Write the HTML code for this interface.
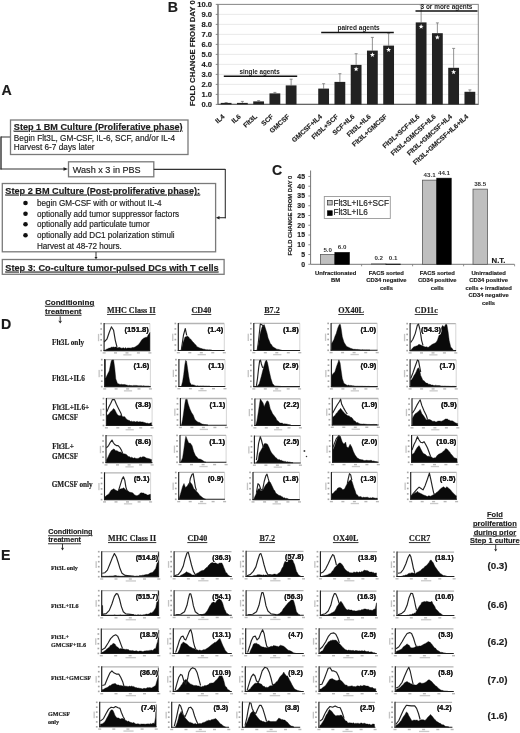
<!DOCTYPE html><html><head><meta charset="utf-8"><style>html,body{margin:0;padding:0;background:#fff;}body{width:520px;height:733px;overflow:hidden;font-family:"Liberation Sans", sans-serif;}svg{display:block;filter:blur(0.4px);} text{stroke:#1c1c1c;stroke-width:0.16px;} text.n{stroke:none;} text.h{stroke:#fff;stroke-width:1.6px;paint-order:stroke;stroke-linejoin:round;}</style></head><body>
<svg width="520" height="733" viewBox="0 0 520 733">
<rect width="520" height="733" fill="#fff"/>
<text x="1.4" y="95.0" font-size="14.2" font-family="Liberation Sans" font-weight="bold" fill="#1c1c1c" >A</text>
<rect x="10.5" y="120" width="177.5" height="34.5" fill="white" stroke="#7a7a7a" stroke-width="1.3" />
<text x="13.8" y="129.8" font-size="9.15" font-family="Liberation Sans" font-weight="bold" text-decoration="underline" fill="#1c1c1c" >Step 1 BM Culture (Proliferative phase)</text>
<text x="13.8" y="140.6" font-size="8.26" font-family="Liberation Sans" fill="#1c1c1c" >Begin Flt3L, GM-CSF, IL-6, SCF, and/or IL-4</text>
<text x="13.8" y="150.4" font-size="8.26" font-family="Liberation Sans" fill="#1c1c1c" >Harvest 6-7 days later</text>
<line x1="1" y1="137" x2="10" y2="137" stroke="#555" stroke-width="1.2"/>
<line x1="1" y1="136.4" x2="1" y2="169.6" stroke="#333" stroke-width="1.4"/>
<line x1="0.4" y1="169" x2="66" y2="169" stroke="#333" stroke-width="1.1"/>
<path d="M63.5,167.2 L68,169 L63.5,170.8 Z" fill="#222"/>
<rect x="68.5" y="161.8" width="85.3" height="15" fill="white" stroke="#7a7a7a" stroke-width="1.3" />
<text x="72.8" y="172.5" font-size="9.1" font-family="Liberation Sans" fill="#1c1c1c" >Wash x 3 in PBS</text>
<line x1="153.8" y1="169.4" x2="225.3" y2="169.4" stroke="#333" stroke-width="1.1"/>
<line x1="225.3" y1="168.9" x2="225.3" y2="218.2" stroke="#333" stroke-width="1.1"/>
<line x1="219" y1="217.7" x2="225.8" y2="217.7" stroke="#333" stroke-width="1.1"/>
<path d="M219.5,216 L215.8,217.7 L219.5,219.4 Z" fill="#222"/>
<rect x="2.3" y="183.5" width="213.3" height="68.3" fill="white" stroke="#7a7a7a" stroke-width="1.3" />
<text x="5.3" y="193.6" font-size="9.17" font-family="Liberation Sans" font-weight="bold" text-decoration="underline" fill="#1c1c1c" >Step 2 BM Culture (Post-proliferative phase):</text>
<circle cx="25.5" cy="203.0" r="2.3" fill="#111"/>
<text x="36.9" y="206.0" font-size="8.15" font-family="Liberation Sans" fill="#1c1c1c" >begin GM-CSF with or without IL-4</text>
<circle cx="25.5" cy="213.7" r="2.3" fill="#111"/>
<text x="36.9" y="216.7" font-size="8.15" font-family="Liberation Sans" fill="#1c1c1c" >optionally add tumor suppressor factors</text>
<circle cx="25.5" cy="224.3" r="2.3" fill="#111"/>
<text x="36.9" y="227.3" font-size="8.15" font-family="Liberation Sans" fill="#1c1c1c" >optionally add particulate tumor</text>
<circle cx="25.5" cy="235.2" r="2.3" fill="#111"/>
<text x="36.9" y="238.2" font-size="8.15" font-family="Liberation Sans" fill="#1c1c1c" >optionally add DC1 polarization stimuli</text>
<text x="36.9" y="248.6" font-size="8.15" font-family="Liberation Sans" fill="#1c1c1c" >Harvest at 48-72 hours.</text>
<line x1="96" y1="252" x2="96" y2="257.5" stroke="#333" stroke-width="1"/>
<path d="M94.5,257 L96,259.5 L97.5,257 Z" fill="#222"/>
<rect x="2.3" y="259.5" width="221.8" height="14.8" fill="white" stroke="#7a7a7a" stroke-width="1.3" />
<text x="5.3" y="270.6" font-size="9.2" font-family="Liberation Sans" font-weight="bold" text-decoration="underline" fill="#1c1c1c" >Step 3: Co-culture tumor-pulsed DCs with T cells</text>
<text x="167.8" y="11.5" font-size="14.2" font-family="Liberation Sans" font-weight="bold" fill="#1c1c1c" >B</text>
<line x1="218" y1="94.4" x2="478.3" y2="94.4" stroke="#e4e4e4" stroke-width="0.8"/>
<line x1="218" y1="84.4" x2="478.3" y2="84.4" stroke="#e4e4e4" stroke-width="0.8"/>
<line x1="218" y1="74.4" x2="478.3" y2="74.4" stroke="#e4e4e4" stroke-width="0.8"/>
<line x1="218" y1="64.4" x2="478.3" y2="64.4" stroke="#e4e4e4" stroke-width="0.8"/>
<line x1="218" y1="54.400000000000006" x2="478.3" y2="54.400000000000006" stroke="#e4e4e4" stroke-width="0.8"/>
<line x1="218" y1="44.400000000000006" x2="478.3" y2="44.400000000000006" stroke="#e4e4e4" stroke-width="0.8"/>
<line x1="218" y1="34.400000000000006" x2="478.3" y2="34.400000000000006" stroke="#e4e4e4" stroke-width="0.8"/>
<line x1="218" y1="24.400000000000006" x2="478.3" y2="24.400000000000006" stroke="#e4e4e4" stroke-width="0.8"/>
<line x1="218" y1="14.400000000000006" x2="478.3" y2="14.400000000000006" stroke="#e4e4e4" stroke-width="0.8"/>
<line x1="218" y1="4.400000000000006" x2="478.3" y2="4.400000000000006" stroke="#e4e4e4" stroke-width="0.8"/>
<rect x="218" y="4.400000000000006" width="260.3" height="100.0" fill="none" stroke="#8a8a8a" stroke-width="1" />
<line x1="218" y1="4.400000000000006" x2="218" y2="104.4" stroke="#777" stroke-width="1.1"/>
<line x1="218" y1="104.4" x2="478.3" y2="104.4" stroke="#666" stroke-width="1.2"/>
<line x1="215.8" y1="104.4" x2="218" y2="104.4" stroke="#777" stroke-width="0.9"/>
<text x="212" y="107.10000000000001" font-size="7.6" font-family="Liberation Sans" font-weight="bold" text-anchor="end" fill="#1c1c1c" >0.0</text>
<line x1="215.8" y1="94.4" x2="218" y2="94.4" stroke="#777" stroke-width="0.9"/>
<text x="212" y="97.10000000000001" font-size="7.6" font-family="Liberation Sans" font-weight="bold" text-anchor="end" fill="#1c1c1c" >1.0</text>
<line x1="215.8" y1="84.4" x2="218" y2="84.4" stroke="#777" stroke-width="0.9"/>
<text x="212" y="87.10000000000001" font-size="7.6" font-family="Liberation Sans" font-weight="bold" text-anchor="end" fill="#1c1c1c" >2.0</text>
<line x1="215.8" y1="74.4" x2="218" y2="74.4" stroke="#777" stroke-width="0.9"/>
<text x="212" y="77.10000000000001" font-size="7.6" font-family="Liberation Sans" font-weight="bold" text-anchor="end" fill="#1c1c1c" >3.0</text>
<line x1="215.8" y1="64.4" x2="218" y2="64.4" stroke="#777" stroke-width="0.9"/>
<text x="212" y="67.10000000000001" font-size="7.6" font-family="Liberation Sans" font-weight="bold" text-anchor="end" fill="#1c1c1c" >4.0</text>
<line x1="215.8" y1="54.400000000000006" x2="218" y2="54.400000000000006" stroke="#777" stroke-width="0.9"/>
<text x="212" y="57.10000000000001" font-size="7.6" font-family="Liberation Sans" font-weight="bold" text-anchor="end" fill="#1c1c1c" >5.0</text>
<line x1="215.8" y1="44.400000000000006" x2="218" y2="44.400000000000006" stroke="#777" stroke-width="0.9"/>
<text x="212" y="47.10000000000001" font-size="7.6" font-family="Liberation Sans" font-weight="bold" text-anchor="end" fill="#1c1c1c" >6.0</text>
<line x1="215.8" y1="34.400000000000006" x2="218" y2="34.400000000000006" stroke="#777" stroke-width="0.9"/>
<text x="212" y="37.10000000000001" font-size="7.6" font-family="Liberation Sans" font-weight="bold" text-anchor="end" fill="#1c1c1c" >7.0</text>
<line x1="215.8" y1="24.400000000000006" x2="218" y2="24.400000000000006" stroke="#777" stroke-width="0.9"/>
<text x="212" y="27.100000000000005" font-size="7.6" font-family="Liberation Sans" font-weight="bold" text-anchor="end" fill="#1c1c1c" >8.0</text>
<line x1="215.8" y1="14.400000000000006" x2="218" y2="14.400000000000006" stroke="#777" stroke-width="0.9"/>
<text x="212" y="17.100000000000005" font-size="7.6" font-family="Liberation Sans" font-weight="bold" text-anchor="end" fill="#1c1c1c" >9.0</text>
<line x1="215.8" y1="4.400000000000006" x2="218" y2="4.400000000000006" stroke="#777" stroke-width="0.9"/>
<text x="212" y="7.100000000000006" font-size="7.6" font-family="Liberation Sans" font-weight="bold" text-anchor="end" fill="#1c1c1c" >10.0</text>
<text transform="translate(194.6,106.2) rotate(-90)" font-size="7.75" font-family="Liberation Sans" font-weight="bold" fill="#1c1c1c">FOLD CHANGE FROM DAY 0</text>
<line x1="226.125" y1="102.60000000000001" x2="226.125" y2="102.9" stroke="#777" stroke-width="0.8"/>
<line x1="224.625" y1="102.60000000000001" x2="227.625" y2="102.60000000000001" stroke="#777" stroke-width="0.8"/>
<rect x="220.725" y="102.9" width="10.8" height="1.5" fill="#222" stroke="none" stroke-width="1" />
<text transform="translate(225.12,117.2) rotate(-42)" font-size="6.75" font-family="Liberation Sans" font-weight="bold" text-anchor="end" fill="#1c1c1c">IL4</text>
<line x1="242.375" y1="101.4" x2="242.375" y2="102.9" stroke="#777" stroke-width="0.8"/>
<line x1="240.875" y1="101.4" x2="243.875" y2="101.4" stroke="#777" stroke-width="0.8"/>
<rect x="236.975" y="102.9" width="10.8" height="1.5" fill="#222" stroke="none" stroke-width="1" />
<text transform="translate(241.38,117.2) rotate(-42)" font-size="6.75" font-family="Liberation Sans" font-weight="bold" text-anchor="end" fill="#1c1c1c">IL6</text>
<line x1="258.625" y1="100.60000000000001" x2="258.625" y2="101.4" stroke="#777" stroke-width="0.8"/>
<line x1="257.125" y1="100.60000000000001" x2="260.125" y2="100.60000000000001" stroke="#777" stroke-width="0.8"/>
<rect x="253.225" y="101.4" width="10.8" height="3.0" fill="#222" stroke="none" stroke-width="1" />
<text transform="translate(257.62,117.2) rotate(-42)" font-size="6.75" font-family="Liberation Sans" font-weight="bold" text-anchor="end" fill="#1c1c1c">Flt3L</text>
<line x1="274.875" y1="92.4" x2="274.875" y2="93.4" stroke="#777" stroke-width="0.8"/>
<line x1="273.375" y1="92.4" x2="276.375" y2="92.4" stroke="#777" stroke-width="0.8"/>
<rect x="269.475" y="93.4" width="10.8" height="11.0" fill="#222" stroke="none" stroke-width="1" />
<text transform="translate(273.88,117.2) rotate(-42)" font-size="6.75" font-family="Liberation Sans" font-weight="bold" text-anchor="end" fill="#1c1c1c">SCF</text>
<line x1="291.125" y1="79.2" x2="291.125" y2="85.4" stroke="#777" stroke-width="0.8"/>
<line x1="289.625" y1="79.2" x2="292.625" y2="79.2" stroke="#777" stroke-width="0.8"/>
<rect x="285.725" y="85.4" width="10.8" height="19.0" fill="#222" stroke="none" stroke-width="1" />
<text transform="translate(290.12,117.2) rotate(-42)" font-size="6.75" font-family="Liberation Sans" font-weight="bold" text-anchor="end" fill="#1c1c1c">GMCSF</text>
<line x1="323.625" y1="83.7" x2="323.625" y2="88.60000000000001" stroke="#777" stroke-width="0.8"/>
<line x1="322.125" y1="83.7" x2="325.125" y2="83.7" stroke="#777" stroke-width="0.8"/>
<rect x="318.225" y="88.60000000000001" width="10.8" height="15.799999999999997" fill="#222" stroke="none" stroke-width="1" />
<text transform="translate(322.62,117.2) rotate(-42)" font-size="6.75" font-family="Liberation Sans" font-weight="bold" text-anchor="end" fill="#1c1c1c">GMCSF+IL4</text>
<line x1="339.875" y1="73.7" x2="339.875" y2="81.9" stroke="#777" stroke-width="0.8"/>
<line x1="338.375" y1="73.7" x2="341.375" y2="73.7" stroke="#777" stroke-width="0.8"/>
<rect x="334.475" y="81.9" width="10.8" height="22.5" fill="#222" stroke="none" stroke-width="1" />
<text transform="translate(338.88,117.2) rotate(-42)" font-size="6.75" font-family="Liberation Sans" font-weight="bold" text-anchor="end" fill="#1c1c1c">Flt3L+SCF</text>
<line x1="356.125" y1="53.7" x2="356.125" y2="64.9" stroke="#777" stroke-width="0.8"/>
<line x1="354.625" y1="53.7" x2="357.625" y2="53.7" stroke="#777" stroke-width="0.8"/>
<rect x="350.725" y="64.9" width="10.8" height="39.5" fill="#222" stroke="none" stroke-width="1" />
<polygon points="356.12,66.60 356.77,68.32 358.60,68.40 357.16,69.54 357.65,71.30 356.12,70.29 354.60,71.30 355.09,69.54 353.65,68.40 355.48,68.32" fill="#fff"/>
<text transform="translate(355.12,117.2) rotate(-42)" font-size="6.75" font-family="Liberation Sans" font-weight="bold" text-anchor="end" fill="#1c1c1c">SCF+IL6</text>
<line x1="372.375" y1="37.400000000000006" x2="372.375" y2="50.60000000000001" stroke="#777" stroke-width="0.8"/>
<line x1="370.875" y1="37.400000000000006" x2="373.875" y2="37.400000000000006" stroke="#777" stroke-width="0.8"/>
<rect x="366.975" y="50.60000000000001" width="10.8" height="53.8" fill="#222" stroke="none" stroke-width="1" />
<polygon points="372.38,52.30 373.02,54.02 374.85,54.10 373.41,55.24 373.90,57.00 372.38,55.99 370.85,57.00 371.34,55.24 369.90,54.10 371.73,54.02" fill="#fff"/>
<text transform="translate(371.38,117.2) rotate(-42)" font-size="6.75" font-family="Liberation Sans" font-weight="bold" text-anchor="end" fill="#1c1c1c">Flt3L+IL6</text>
<line x1="388.625" y1="33.2" x2="388.625" y2="45.60000000000001" stroke="#777" stroke-width="0.8"/>
<line x1="387.125" y1="33.2" x2="390.125" y2="33.2" stroke="#777" stroke-width="0.8"/>
<rect x="383.225" y="45.60000000000001" width="10.8" height="58.8" fill="#222" stroke="none" stroke-width="1" />
<polygon points="388.62,47.30 389.27,49.02 391.10,49.10 389.66,50.24 390.15,52.00 388.62,50.99 387.10,52.00 387.59,50.24 386.15,49.10 387.98,49.02" fill="#fff"/>
<text transform="translate(387.62,117.2) rotate(-42)" font-size="6.75" font-family="Liberation Sans" font-weight="bold" text-anchor="end" fill="#1c1c1c">Flt3L+GMCSF</text>
<line x1="421.125" y1="4.900000000000006" x2="421.125" y2="22.400000000000006" stroke="#777" stroke-width="0.8"/>
<line x1="419.625" y1="4.900000000000006" x2="422.625" y2="4.900000000000006" stroke="#777" stroke-width="0.8"/>
<rect x="415.725" y="22.400000000000006" width="10.8" height="82.0" fill="#222" stroke="none" stroke-width="1" />
<polygon points="421.12,24.10 421.77,25.82 423.60,25.90 422.16,27.04 422.65,28.80 421.12,27.79 419.60,28.80 420.09,27.04 418.65,25.90 420.48,25.82" fill="#fff"/>
<text transform="translate(420.12,117.2) rotate(-42)" font-size="6.75" font-family="Liberation Sans" font-weight="bold" text-anchor="end" fill="#1c1c1c">Flt3L+SCF+IL6</text>
<line x1="437.375" y1="22.900000000000006" x2="437.375" y2="33.2" stroke="#777" stroke-width="0.8"/>
<line x1="435.875" y1="22.900000000000006" x2="438.875" y2="22.900000000000006" stroke="#777" stroke-width="0.8"/>
<rect x="431.975" y="33.2" width="10.8" height="71.2" fill="#222" stroke="none" stroke-width="1" />
<polygon points="437.38,34.90 438.02,36.62 439.85,36.70 438.41,37.84 438.90,39.60 437.38,38.59 435.85,39.60 436.34,37.84 434.90,36.70 436.73,36.62" fill="#fff"/>
<text transform="translate(436.38,117.2) rotate(-42)" font-size="6.75" font-family="Liberation Sans" font-weight="bold" text-anchor="end" fill="#1c1c1c">Flt3L+GMCSF+IL6</text>
<line x1="453.625" y1="48.400000000000006" x2="453.625" y2="67.80000000000001" stroke="#777" stroke-width="0.8"/>
<line x1="452.125" y1="48.400000000000006" x2="455.125" y2="48.400000000000006" stroke="#777" stroke-width="0.8"/>
<rect x="448.225" y="67.80000000000001" width="10.8" height="36.599999999999994" fill="#222" stroke="none" stroke-width="1" />
<polygon points="453.62,69.50 454.27,71.22 456.10,71.30 454.66,72.44 455.15,74.20 453.62,73.19 452.10,74.20 452.59,72.44 451.15,71.30 452.98,71.22" fill="#fff"/>
<text transform="translate(452.62,117.2) rotate(-42)" font-size="6.75" font-family="Liberation Sans" font-weight="bold" text-anchor="end" fill="#1c1c1c">Flt3L+GMCSF+IL4</text>
<line x1="469.875" y1="89.9" x2="469.875" y2="91.80000000000001" stroke="#777" stroke-width="0.8"/>
<line x1="468.375" y1="89.9" x2="471.375" y2="89.9" stroke="#777" stroke-width="0.8"/>
<rect x="464.475" y="91.80000000000001" width="10.8" height="12.599999999999994" fill="#222" stroke="none" stroke-width="1" />
<text transform="translate(468.88,117.2) rotate(-42)" font-size="6.75" font-family="Liberation Sans" font-weight="bold" text-anchor="end" fill="#1c1c1c">Flt3L+GMCSF+IL6+IL4</text>
<line x1="223.8" y1="76.3" x2="297.2" y2="76.3" stroke="#111" stroke-width="1.6"/>
<text x="259.6" y="73.6" font-size="6.3" font-family="Liberation Sans" font-weight="bold" text-anchor="middle" fill="#1c1c1c" class="n">single agents</text>
<line x1="321.2" y1="32.5" x2="393.8" y2="32.5" stroke="#111" stroke-width="1.6"/>
<text x="358.6" y="30.2" font-size="6.5" font-family="Liberation Sans" font-weight="bold" text-anchor="middle" fill="#1c1c1c" class="n">paired agents</text>
<line x1="415.5" y1="11.0" x2="477.5" y2="11.0" stroke="#111" stroke-width="1.6"/>
<text x="446.5" y="9.2" font-size="6.45" font-family="Liberation Sans" font-weight="bold" text-anchor="middle" fill="#1c1c1c" class="n">3 or more agents</text>
<text x="271.9" y="174.7" font-size="14.2" font-family="Liberation Sans" font-weight="bold" fill="#1c1c1c" >C</text>
<line x1="310.6" y1="170.5" x2="310.6" y2="264.3" stroke="#777" stroke-width="1"/>
<line x1="310.6" y1="264.3" x2="514.5" y2="264.3" stroke="#777" stroke-width="1"/>
<line x1="308.3" y1="264.3" x2="310.6" y2="264.3" stroke="#777" stroke-width="0.8"/>
<text x="305" y="266.7" font-size="6.9" font-family="Liberation Sans" font-weight="bold" text-anchor="end" fill="#1c1c1c" >0</text>
<line x1="308.3" y1="254.54000000000002" x2="310.6" y2="254.54000000000002" stroke="#777" stroke-width="0.8"/>
<text x="305" y="256.94" font-size="6.9" font-family="Liberation Sans" font-weight="bold" text-anchor="end" fill="#1c1c1c" >5</text>
<line x1="308.3" y1="244.78" x2="310.6" y2="244.78" stroke="#777" stroke-width="0.8"/>
<text x="305" y="247.18" font-size="6.9" font-family="Liberation Sans" font-weight="bold" text-anchor="end" fill="#1c1c1c" >10</text>
<line x1="308.3" y1="235.02" x2="310.6" y2="235.02" stroke="#777" stroke-width="0.8"/>
<text x="305" y="237.42000000000002" font-size="6.9" font-family="Liberation Sans" font-weight="bold" text-anchor="end" fill="#1c1c1c" >15</text>
<line x1="308.3" y1="225.26000000000002" x2="310.6" y2="225.26000000000002" stroke="#777" stroke-width="0.8"/>
<text x="305" y="227.66000000000003" font-size="6.9" font-family="Liberation Sans" font-weight="bold" text-anchor="end" fill="#1c1c1c" >20</text>
<line x1="308.3" y1="215.5" x2="310.6" y2="215.5" stroke="#777" stroke-width="0.8"/>
<text x="305" y="217.9" font-size="6.9" font-family="Liberation Sans" font-weight="bold" text-anchor="end" fill="#1c1c1c" >25</text>
<line x1="308.3" y1="205.74" x2="310.6" y2="205.74" stroke="#777" stroke-width="0.8"/>
<text x="305" y="208.14000000000001" font-size="6.9" font-family="Liberation Sans" font-weight="bold" text-anchor="end" fill="#1c1c1c" >30</text>
<line x1="308.3" y1="195.98000000000002" x2="310.6" y2="195.98000000000002" stroke="#777" stroke-width="0.8"/>
<text x="305" y="198.38000000000002" font-size="6.9" font-family="Liberation Sans" font-weight="bold" text-anchor="end" fill="#1c1c1c" >35</text>
<line x1="308.3" y1="186.22000000000003" x2="310.6" y2="186.22000000000003" stroke="#777" stroke-width="0.8"/>
<text x="305" y="188.62000000000003" font-size="6.9" font-family="Liberation Sans" font-weight="bold" text-anchor="end" fill="#1c1c1c" >40</text>
<line x1="308.3" y1="176.46" x2="310.6" y2="176.46" stroke="#777" stroke-width="0.8"/>
<text x="305" y="178.86" font-size="6.9" font-family="Liberation Sans" font-weight="bold" text-anchor="end" fill="#1c1c1c" >45</text>
<line x1="361.6" y1="264.3" x2="361.6" y2="266.3" stroke="#777" stroke-width="0.8"/>
<line x1="412.6" y1="264.3" x2="412.6" y2="266.3" stroke="#777" stroke-width="0.8"/>
<line x1="463.6" y1="264.3" x2="463.6" y2="266.3" stroke="#777" stroke-width="0.8"/>
<line x1="514.6" y1="264.3" x2="514.6" y2="266.3" stroke="#777" stroke-width="0.8"/>
<text transform="translate(292.0,255.5) rotate(-90)" font-size="5.85" font-family="Liberation Sans" font-weight="bold" fill="#1c1c1c">FOLD CHANGE FROM DAY 0</text>
<rect x="320.5" y="254.54000000000002" width="14.4" height="9.759999999999991" fill="#bfbfbf" stroke="#5a5a5a" stroke-width="0.8" />
<text x="327.7" y="251.54000000000002" font-size="6.2" font-family="Liberation Sans" font-weight="bold" text-anchor="middle" fill="#333" class="n">5.0</text>
<rect x="334.9" y="252.58800000000002" width="14.4" height="11.711999999999989" fill="#000" stroke="#000" stroke-width="0.7" />
<text x="342.09999999999997" y="249.18800000000002" font-size="6.2" font-family="Liberation Sans" font-weight="bold" text-anchor="middle" fill="#333" class="n">6.0</text>
<rect x="371.5" y="263.9096" width="14.4" height="0.39039999999999964" fill="#bfbfbf" stroke="#5a5a5a" stroke-width="0.8" />
<text x="378.7" y="259.9" font-size="6.2" font-family="Liberation Sans" font-weight="bold" text-anchor="middle" fill="#333" class="n">0.2</text>
<rect x="385.9" y="264.1048" width="14.4" height="0.19519999999999982" fill="#000" stroke="#000" stroke-width="0.7" />
<text x="393.09999999999997" y="259.9" font-size="6.2" font-family="Liberation Sans" font-weight="bold" text-anchor="middle" fill="#333" class="n">0.1</text>
<rect x="422.40000000000003" y="180.1688" width="14.4" height="84.1312" fill="#bfbfbf" stroke="#5a5a5a" stroke-width="0.8" />
<text x="429.6" y="177.1688" font-size="6.2" font-family="Liberation Sans" font-weight="bold" text-anchor="middle" fill="#333" class="n">43.1</text>
<rect x="436.8" y="178.2168" width="14.4" height="86.0832" fill="#000" stroke="#000" stroke-width="0.7" />
<text x="444.0" y="174.8168" font-size="6.2" font-family="Liberation Sans" font-weight="bold" text-anchor="middle" fill="#333" class="n">44.1</text>
<rect x="473.0" y="189.14800000000002" width="14.4" height="75.15199999999999" fill="#bfbfbf" stroke="#5a5a5a" stroke-width="0.8" />
<text x="480.2" y="186.14800000000002" font-size="6.2" font-family="Liberation Sans" font-weight="bold" text-anchor="middle" fill="#333" class="n">38.5</text>
<text x="498.5" y="262.90000000000003" font-size="7.8" font-family="Liberation Sans" font-weight="bold" text-anchor="middle" fill="#1c1c1c" >N.T.</text>
<text x="335.6" y="274.6" font-size="5.85" font-family="Liberation Sans" font-weight="bold" text-anchor="middle" fill="#1c1c1c" >Unfractionated</text>
<text x="335.6" y="282.1" font-size="5.85" font-family="Liberation Sans" font-weight="bold" text-anchor="middle" fill="#1c1c1c" >BM</text>
<text x="386.4" y="274.6" font-size="5.85" font-family="Liberation Sans" font-weight="bold" text-anchor="middle" fill="#1c1c1c" >FACS sorted</text>
<text x="386.4" y="282.1" font-size="5.85" font-family="Liberation Sans" font-weight="bold" text-anchor="middle" fill="#1c1c1c" >CD34 negative</text>
<text x="386.4" y="289.6" font-size="5.85" font-family="Liberation Sans" font-weight="bold" text-anchor="middle" fill="#1c1c1c" >cells</text>
<text x="437.3" y="274.6" font-size="5.85" font-family="Liberation Sans" font-weight="bold" text-anchor="middle" fill="#1c1c1c" >FACS sorted</text>
<text x="437.3" y="282.1" font-size="5.85" font-family="Liberation Sans" font-weight="bold" text-anchor="middle" fill="#1c1c1c" >CD34 positive</text>
<text x="437.3" y="289.6" font-size="5.85" font-family="Liberation Sans" font-weight="bold" text-anchor="middle" fill="#1c1c1c" >cells</text>
<text x="488.6" y="274.6" font-size="5.85" font-family="Liberation Sans" font-weight="bold" text-anchor="middle" fill="#1c1c1c" >Unirradiated</text>
<text x="488.6" y="282.1" font-size="5.85" font-family="Liberation Sans" font-weight="bold" text-anchor="middle" fill="#1c1c1c" >CD34 positive</text>
<text x="488.6" y="289.6" font-size="5.85" font-family="Liberation Sans" font-weight="bold" text-anchor="middle" fill="#1c1c1c" >cells + irradiated</text>
<text x="488.6" y="297.1" font-size="5.85" font-family="Liberation Sans" font-weight="bold" text-anchor="middle" fill="#1c1c1c" >CD34 negative</text>
<text x="488.6" y="304.6" font-size="5.85" font-family="Liberation Sans" font-weight="bold" text-anchor="middle" fill="#1c1c1c" >cells</text>
<rect x="324.3" y="196.5" width="66" height="22" fill="white" stroke="#999" stroke-width="0.9" />
<rect x="327.6" y="200.4" width="4.6" height="4.6" fill="#bfbfbf" stroke="#333" stroke-width="0.7" />
<text x="333.4" y="205.6" font-size="8.2" font-family="Liberation Sans" fill="#1c1c1c" >Flt3L+IL6+SCF</text>
<rect x="327.6" y="210.8" width="4.6" height="4.6" fill="#000" stroke="#000" stroke-width="0.7" />
<text x="333.4" y="215.4" font-size="8.2" font-family="Liberation Sans" fill="#1c1c1c" >Flt3L+IL6</text>
<line x1="104.1" y1="323.6" x2="149.9" y2="323.6" stroke="#b4b4b4" stroke-width="1.3"/>
<line x1="149.9" y1="323.6" x2="149.9" y2="350.6" stroke="#c4c4c4" stroke-width="0.7"/>
<path d="M104.7,350.6 L104.7,350.3 L105.8,349.7 L106.9,349.0 L108.0,348.8 L108.9,348.0 L109.8,348.1 L110.7,347.7 L111.6,347.1 L112.5,347.2 L113.4,346.9 L114.3,347.3 L115.2,347.0 L116.2,347.1 L117.1,347.5 L118.0,347.9 L119.0,347.3 L119.9,347.5 L120.8,347.9 L121.8,348.2 L122.8,347.9 L123.7,347.8 L124.6,348.4 L125.5,347.6 L126.4,348.4 L127.4,348.0 L128.3,347.9 L129.2,348.0 L130.1,347.9 L131.1,348.2 L132.0,347.5 L132.9,347.6 L133.9,347.5 L134.8,347.1 L135.9,346.6 L137.1,345.5 L138.2,344.9 L139.3,343.4 L140.4,342.1 L141.5,340.2 L142.6,339.0 L143.7,338.2 L144.8,337.7 L146.0,337.2 L147.1,337.3 L148.7,333.8 L149.9,332.5 L149.9,350.6 Z" fill="#0a0a0a" stroke="#0a0a0a" stroke-width="0.4" stroke-linejoin="round"/>
<path d="M104.1,342.0 L106.9,339.2 L109.2,332.5 L111.4,326.9 L113.6,330.3 L115.3,340.3 L117.0,347.0" fill="none" stroke="#222" stroke-width="1.15" stroke-linejoin="round"/>
<line x1="104.1" y1="323.1" x2="104.1" y2="351.1" stroke="#1e1e1e" stroke-width="1.15"/>
<line x1="103.6" y1="350.6" x2="150.20000000000002" y2="350.6" stroke="#1e1e1e" stroke-width="1.05"/>
<rect x="102.6" y="352.2" width="3.0" height="1.4" fill="#b8b8b8"/>
<rect x="114.0" y="352.2" width="3.0" height="1.4" fill="#b8b8b8"/>
<rect x="125.5" y="352.2" width="3.0" height="1.4" fill="#b8b8b8"/>
<rect x="136.9" y="352.2" width="3.0" height="1.4" fill="#b8b8b8"/>
<rect x="148.4" y="352.2" width="3.0" height="1.4" fill="#b8b8b8"/>
<rect x="100.3" y="349.8" width="1.7" height="1.6" fill="#a6a6a6"/>
<rect x="100.3" y="344.4" width="1.7" height="1.6" fill="#a6a6a6"/>
<rect x="100.3" y="339.0" width="1.7" height="1.6" fill="#a6a6a6"/>
<rect x="100.3" y="333.6" width="1.7" height="1.6" fill="#a6a6a6"/>
<rect x="100.3" y="328.2" width="1.7" height="1.6" fill="#a6a6a6"/>
<rect x="100.3" y="322.8" width="1.7" height="1.6" fill="#a6a6a6"/>
<rect x="123.3" y="354.2" width="8.2" height="1.3" fill="#cacaca"/>
<rect x="97.9" y="333.9" width="1.3" height="7.3" fill="#c4c4c4"/>
<text x="148.9" y="331.9" font-size="7.7" font-family="Liberation Sans" font-weight="bold" text-anchor="end" fill="#1c1c1c" class="h">(151.8)</text>
<text x="148.9" y="331.9" font-size="7.7" font-family="Liberation Sans" font-weight="bold" text-anchor="end" fill="#1c1c1c" >(151.8)</text>
<line x1="178.3" y1="323.5" x2="224.3" y2="323.5" stroke="#b4b4b4" stroke-width="1.3"/>
<line x1="224.3" y1="323.5" x2="224.3" y2="350.4" stroke="#c4c4c4" stroke-width="0.7"/>
<path d="M181.3,350.4 L181.3,350.0 L183.0,342.8 L184.0,340.1 L185.0,337.0 L186.2,336.8 L187.3,336.1 L188.7,337.0 L190.0,338.9 L190.9,339.3 L191.9,340.7 L192.9,342.1 L193.8,342.7 L194.9,344.2 L195.9,344.9 L197.0,346.7 L198.0,347.2 L199.0,347.5 L200.0,348.3 L201.0,348.2 L202.0,348.8 L202.9,348.9 L203.9,349.2 L204.8,349.3 L205.8,349.7 L206.8,349.8 L207.9,349.8 L208.9,349.9 L209.9,349.8 L211.0,350.1 L212.0,350.1 L212.0,350.4 Z" fill="#0a0a0a" stroke="#0a0a0a" stroke-width="0.4" stroke-linejoin="round"/>
<path d="M181.3,350.0 L183.5,335.0 L185.3,328.5 L186.7,335.3" fill="none" stroke="#222" stroke-width="1.15" stroke-linejoin="round"/>
<line x1="178.3" y1="323.0" x2="178.3" y2="350.9" stroke="#1e1e1e" stroke-width="1.15"/>
<line x1="177.8" y1="350.4" x2="224.60000000000002" y2="350.4" stroke="#1e1e1e" stroke-width="1.05"/>
<rect x="176.8" y="352.0" width="3.0" height="1.4" fill="#b8b8b8"/>
<rect x="188.3" y="352.0" width="3.0" height="1.4" fill="#b8b8b8"/>
<rect x="199.8" y="352.0" width="3.0" height="1.4" fill="#b8b8b8"/>
<rect x="211.3" y="352.0" width="3.0" height="1.4" fill="#b8b8b8"/>
<rect x="222.8" y="352.0" width="3.0" height="1.4" fill="#b8b8b8"/>
<rect x="174.5" y="349.6" width="1.7" height="1.6" fill="#a6a6a6"/>
<rect x="174.5" y="344.2" width="1.7" height="1.6" fill="#a6a6a6"/>
<rect x="174.5" y="338.8" width="1.7" height="1.6" fill="#a6a6a6"/>
<rect x="174.5" y="333.5" width="1.7" height="1.6" fill="#a6a6a6"/>
<rect x="174.5" y="328.1" width="1.7" height="1.6" fill="#a6a6a6"/>
<rect x="174.5" y="322.7" width="1.7" height="1.6" fill="#a6a6a6"/>
<rect x="197.6" y="354.0" width="8.3" height="1.3" fill="#cacaca"/>
<rect x="172.1" y="333.7" width="1.3" height="7.3" fill="#c4c4c4"/>
<text x="223.3" y="331.8" font-size="7.7" font-family="Liberation Sans" font-weight="bold" text-anchor="end" fill="#1c1c1c" class="h">(1.4)</text>
<text x="223.3" y="331.8" font-size="7.7" font-family="Liberation Sans" font-weight="bold" text-anchor="end" fill="#1c1c1c" >(1.4)</text>
<line x1="253.8" y1="323.4" x2="299.8" y2="323.4" stroke="#b4b4b4" stroke-width="1.3"/>
<line x1="299.8" y1="323.4" x2="299.8" y2="350.4" stroke="#c4c4c4" stroke-width="0.7"/>
<path d="M256.9,350.4 L256.9,349.8 L258.6,343.8 L260.3,332.9 L262.0,327.2 L263.1,325.6 L264.2,324.6 L265.8,329.4 L267.0,333.2 L268.1,338.1 L269.2,340.6 L270.3,343.4 L271.4,344.6 L272.6,346.5 L273.7,347.3 L274.8,347.9 L275.9,348.6 L277.0,349.4 L277.9,349.2 L278.8,349.5 L279.7,349.7 L280.6,349.9 L281.5,350.0 L281.5,350.4 Z" fill="#0a0a0a" stroke="#0a0a0a" stroke-width="0.4" stroke-linejoin="round"/>
<path d="M257.5,349.8 L258.8,338.0 L260.3,324.1 L262.0,324.7 L263.5,327.0" fill="none" stroke="#222" stroke-width="1.15" stroke-linejoin="round"/>
<line x1="253.8" y1="322.9" x2="253.8" y2="350.9" stroke="#1e1e1e" stroke-width="1.15"/>
<line x1="253.3" y1="350.4" x2="300.1" y2="350.4" stroke="#1e1e1e" stroke-width="1.05"/>
<rect x="252.3" y="352.0" width="3.0" height="1.4" fill="#b8b8b8"/>
<rect x="263.8" y="352.0" width="3.0" height="1.4" fill="#b8b8b8"/>
<rect x="275.3" y="352.0" width="3.0" height="1.4" fill="#b8b8b8"/>
<rect x="286.8" y="352.0" width="3.0" height="1.4" fill="#b8b8b8"/>
<rect x="298.3" y="352.0" width="3.0" height="1.4" fill="#b8b8b8"/>
<rect x="250.0" y="349.6" width="1.7" height="1.6" fill="#a6a6a6"/>
<rect x="250.0" y="344.2" width="1.7" height="1.6" fill="#a6a6a6"/>
<rect x="250.0" y="338.8" width="1.7" height="1.6" fill="#a6a6a6"/>
<rect x="250.0" y="333.4" width="1.7" height="1.6" fill="#a6a6a6"/>
<rect x="250.0" y="328.0" width="1.7" height="1.6" fill="#a6a6a6"/>
<rect x="250.0" y="322.6" width="1.7" height="1.6" fill="#a6a6a6"/>
<rect x="273.1" y="354.0" width="8.3" height="1.3" fill="#cacaca"/>
<rect x="247.6" y="333.7" width="1.3" height="7.3" fill="#c4c4c4"/>
<text x="298.8" y="331.7" font-size="7.7" font-family="Liberation Sans" font-weight="bold" text-anchor="end" fill="#1c1c1c" class="h">(1.8)</text>
<text x="298.8" y="331.7" font-size="7.7" font-family="Liberation Sans" font-weight="bold" text-anchor="end" fill="#1c1c1c" >(1.8)</text>
<line x1="331.1" y1="323.4" x2="377.2" y2="323.4" stroke="#b4b4b4" stroke-width="1.3"/>
<line x1="377.2" y1="323.4" x2="377.2" y2="350.3" stroke="#c4c4c4" stroke-width="0.7"/>
<path d="M331.5,350.3 L331.5,343.7 L332.7,341.7 L333.9,339.5 L335.0,336.2 L336.2,333.5 L337.8,327.9 L339.3,324.4 L340.4,324.5 L341.2,328.9 L342.3,336.7 L344.0,342.3 L345.1,344.0 L346.2,345.9 L347.3,346.7 L348.4,347.2 L349.5,347.7 L350.4,348.2 L351.3,348.4 L352.2,348.8 L353.1,349.2 L354.0,349.3 L355.0,349.3 L355.9,349.4 L356.9,349.5 L357.8,349.4 L358.8,349.7 L359.7,349.8 L360.7,349.9 L361.6,349.9 L362.6,349.8 L363.5,349.9 L364.4,349.9 L365.4,350.0 L366.3,349.9 L367.2,350.0 L368.1,350.0 L369.1,350.0 L370.0,350.1 L370.0,350.3 Z" fill="#0a0a0a" stroke="#0a0a0a" stroke-width="0.4" stroke-linejoin="round"/>
<line x1="331.1" y1="322.9" x2="331.1" y2="350.8" stroke="#1e1e1e" stroke-width="1.15"/>
<line x1="330.6" y1="350.3" x2="377.5" y2="350.3" stroke="#1e1e1e" stroke-width="1.05"/>
<rect x="329.6" y="351.9" width="3.0" height="1.4" fill="#b8b8b8"/>
<rect x="341.1" y="351.9" width="3.0" height="1.4" fill="#b8b8b8"/>
<rect x="352.6" y="351.9" width="3.0" height="1.4" fill="#b8b8b8"/>
<rect x="364.2" y="351.9" width="3.0" height="1.4" fill="#b8b8b8"/>
<rect x="375.7" y="351.9" width="3.0" height="1.4" fill="#b8b8b8"/>
<rect x="327.3" y="349.5" width="1.7" height="1.6" fill="#a6a6a6"/>
<rect x="327.3" y="344.1" width="1.7" height="1.6" fill="#a6a6a6"/>
<rect x="327.3" y="338.7" width="1.7" height="1.6" fill="#a6a6a6"/>
<rect x="327.3" y="333.4" width="1.7" height="1.6" fill="#a6a6a6"/>
<rect x="327.3" y="328.0" width="1.7" height="1.6" fill="#a6a6a6"/>
<rect x="327.3" y="322.6" width="1.7" height="1.6" fill="#a6a6a6"/>
<rect x="350.5" y="353.9" width="8.3" height="1.3" fill="#cacaca"/>
<rect x="324.9" y="333.6" width="1.3" height="7.3" fill="#c4c4c4"/>
<text x="376.2" y="331.7" font-size="7.7" font-family="Liberation Sans" font-weight="bold" text-anchor="end" fill="#1c1c1c" class="h">(1.0)</text>
<text x="376.2" y="331.7" font-size="7.7" font-family="Liberation Sans" font-weight="bold" text-anchor="end" fill="#1c1c1c" >(1.0)</text>
<line x1="410.1" y1="323.6" x2="455.8" y2="323.6" stroke="#b4b4b4" stroke-width="1.3"/>
<line x1="455.8" y1="323.6" x2="455.8" y2="350.6" stroke="#c4c4c4" stroke-width="0.7"/>
<path d="M410.5,350.6 L410.5,350.3 L411.7,349.2 L412.8,347.8 L414.0,346.8 L415.1,346.5 L416.3,346.0 L417.4,345.8 L418.5,344.6 L419.6,344.5 L420.7,345.1 L421.8,345.4 L422.9,346.0 L424.1,346.6 L425.2,347.1 L426.3,346.7 L427.4,347.2 L428.5,347.2 L429.6,346.2 L430.8,345.6 L431.9,344.6 L433.0,344.0 L434.1,343.6 L435.2,342.9 L436.4,342.0 L437.5,340.0 L438.6,336.5 L439.7,334.0 L440.8,329.2 L442.5,325.5 L444.2,326.9 L445.8,324.3 L446.9,324.7 L448.1,331.8 L449.2,340.6 L450.8,347.2 L452.0,348.2 L453.1,349.8 L453.1,350.6 Z" fill="#0a0a0a" stroke="#0a0a0a" stroke-width="0.4" stroke-linejoin="round"/>
<path d="M410.7,342.5 L412.9,339.2 L415.2,333.6 L417.4,325.2 L418.5,324.1 L420.2,330.3 L421.6,340.3 L423.0,345.3" fill="none" stroke="#222" stroke-width="1.15" stroke-linejoin="round"/>
<line x1="410.1" y1="323.1" x2="410.1" y2="351.1" stroke="#1e1e1e" stroke-width="1.15"/>
<line x1="409.6" y1="350.6" x2="456.1" y2="350.6" stroke="#1e1e1e" stroke-width="1.05"/>
<rect x="408.6" y="352.2" width="3.0" height="1.4" fill="#b8b8b8"/>
<rect x="420.0" y="352.2" width="3.0" height="1.4" fill="#b8b8b8"/>
<rect x="431.5" y="352.2" width="3.0" height="1.4" fill="#b8b8b8"/>
<rect x="442.9" y="352.2" width="3.0" height="1.4" fill="#b8b8b8"/>
<rect x="454.3" y="352.2" width="3.0" height="1.4" fill="#b8b8b8"/>
<rect x="406.3" y="349.8" width="1.7" height="1.6" fill="#a6a6a6"/>
<rect x="406.3" y="344.4" width="1.7" height="1.6" fill="#a6a6a6"/>
<rect x="406.3" y="339.0" width="1.7" height="1.6" fill="#a6a6a6"/>
<rect x="406.3" y="333.6" width="1.7" height="1.6" fill="#a6a6a6"/>
<rect x="406.3" y="328.2" width="1.7" height="1.6" fill="#a6a6a6"/>
<rect x="406.3" y="322.8" width="1.7" height="1.6" fill="#a6a6a6"/>
<rect x="429.3" y="354.2" width="8.2" height="1.3" fill="#cacaca"/>
<rect x="403.9" y="333.9" width="1.3" height="7.3" fill="#c4c4c4"/>
<text x="441.0" y="331.9" font-size="7.7" font-family="Liberation Sans" font-weight="bold" text-anchor="end" fill="#1c1c1c" class="h">(54.3)</text>
<text x="441.0" y="331.9" font-size="7.7" font-family="Liberation Sans" font-weight="bold" text-anchor="end" fill="#1c1c1c" >(54.3)</text>
<line x1="104.7" y1="359.6" x2="150.4" y2="359.6" stroke="#b4b4b4" stroke-width="1.3"/>
<line x1="150.4" y1="359.6" x2="150.4" y2="386.6" stroke="#c4c4c4" stroke-width="0.7"/>
<path d="M104.9,386.6 L104.9,376.9 L105.8,377.9 L107.5,374.3 L109.2,370.9 L110.8,362.9 L111.4,360.4 L112.5,359.9 L113.6,359.9 L114.7,367.7 L115.8,378.9 L117.5,383.5 L118.4,383.8 L119.4,384.2 L120.3,384.5 L121.3,384.2 L122.2,384.6 L123.2,384.6 L124.1,384.4 L125.1,384.6 L126.0,384.9 L127.0,385.0 L127.9,385.4 L128.8,385.5 L129.7,385.3 L130.6,385.6 L131.5,385.6 L132.5,385.7 L133.4,385.4 L134.3,385.4 L135.2,385.4 L136.1,385.4 L137.0,385.5 L137.9,385.7 L138.9,385.8 L139.8,385.8 L140.8,385.7 L141.7,385.8 L142.7,385.9 L143.6,385.7 L144.6,385.9 L145.5,386.0 L146.5,386.0 L147.4,386.0 L148.4,386.0 L149.3,386.0 L149.3,386.6 Z" fill="#0a0a0a" stroke="#0a0a0a" stroke-width="0.4" stroke-linejoin="round"/>
<path d="M105.1,359.8 L105.1,377.0" fill="none" stroke="#222" stroke-width="1.15" stroke-linejoin="round"/>
<line x1="104.7" y1="359.1" x2="104.7" y2="387.1" stroke="#1e1e1e" stroke-width="1.15"/>
<line x1="104.2" y1="386.6" x2="150.70000000000002" y2="386.6" stroke="#1e1e1e" stroke-width="1.05"/>
<rect x="103.2" y="388.2" width="3.0" height="1.4" fill="#b8b8b8"/>
<rect x="114.6" y="388.2" width="3.0" height="1.4" fill="#b8b8b8"/>
<rect x="126.1" y="388.2" width="3.0" height="1.4" fill="#b8b8b8"/>
<rect x="137.5" y="388.2" width="3.0" height="1.4" fill="#b8b8b8"/>
<rect x="148.9" y="388.2" width="3.0" height="1.4" fill="#b8b8b8"/>
<rect x="100.9" y="385.8" width="1.7" height="1.6" fill="#a6a6a6"/>
<rect x="100.9" y="380.4" width="1.7" height="1.6" fill="#a6a6a6"/>
<rect x="100.9" y="375.0" width="1.7" height="1.6" fill="#a6a6a6"/>
<rect x="100.9" y="369.6" width="1.7" height="1.6" fill="#a6a6a6"/>
<rect x="100.9" y="364.2" width="1.7" height="1.6" fill="#a6a6a6"/>
<rect x="100.9" y="358.8" width="1.7" height="1.6" fill="#a6a6a6"/>
<rect x="123.9" y="390.2" width="8.2" height="1.3" fill="#cacaca"/>
<rect x="98.5" y="369.9" width="1.3" height="7.3" fill="#c4c4c4"/>
<text x="149.4" y="367.9" font-size="7.7" font-family="Liberation Sans" font-weight="bold" text-anchor="end" fill="#1c1c1c" class="h">(1.6)</text>
<text x="149.4" y="367.9" font-size="7.7" font-family="Liberation Sans" font-weight="bold" text-anchor="end" fill="#1c1c1c" >(1.6)</text>
<line x1="178.9" y1="359.6" x2="225" y2="359.6" stroke="#b4b4b4" stroke-width="1.3"/>
<line x1="225" y1="359.6" x2="225" y2="386.4" stroke="#c4c4c4" stroke-width="0.7"/>
<path d="M181.5,386.4 L181.5,385.8 L182.6,381.6 L183.7,374.4 L184.8,365.0 L185.6,360.4 L186.5,361.1 L187.6,368.4 L188.7,376.2 L189.8,382.3 L191.5,384.9 L192.5,384.7 L193.5,384.9 L194.5,385.2 L195.5,385.7 L196.5,385.9 L197.4,385.7 L198.3,385.9 L199.2,386.0 L200.1,385.9 L201.0,385.9 L201.9,386.0 L202.8,385.9 L203.7,385.9 L204.6,386.1 L205.5,386.1 L206.4,386.1 L207.3,386.2 L208.2,386.1 L209.1,386.2 L210.0,386.2 L210.0,386.4 Z" fill="#0a0a0a" stroke="#0a0a0a" stroke-width="0.4" stroke-linejoin="round"/>
<line x1="178.9" y1="359.1" x2="178.9" y2="386.9" stroke="#1e1e1e" stroke-width="1.15"/>
<line x1="178.4" y1="386.4" x2="225.3" y2="386.4" stroke="#1e1e1e" stroke-width="1.05"/>
<rect x="177.4" y="388.0" width="3.0" height="1.4" fill="#b8b8b8"/>
<rect x="188.9" y="388.0" width="3.0" height="1.4" fill="#b8b8b8"/>
<rect x="200.4" y="388.0" width="3.0" height="1.4" fill="#b8b8b8"/>
<rect x="212.0" y="388.0" width="3.0" height="1.4" fill="#b8b8b8"/>
<rect x="223.5" y="388.0" width="3.0" height="1.4" fill="#b8b8b8"/>
<rect x="175.1" y="385.6" width="1.7" height="1.6" fill="#a6a6a6"/>
<rect x="175.1" y="380.2" width="1.7" height="1.6" fill="#a6a6a6"/>
<rect x="175.1" y="374.9" width="1.7" height="1.6" fill="#a6a6a6"/>
<rect x="175.1" y="369.5" width="1.7" height="1.6" fill="#a6a6a6"/>
<rect x="175.1" y="364.2" width="1.7" height="1.6" fill="#a6a6a6"/>
<rect x="175.1" y="358.8" width="1.7" height="1.6" fill="#a6a6a6"/>
<rect x="198.3" y="390.0" width="8.3" height="1.3" fill="#cacaca"/>
<rect x="172.7" y="369.8" width="1.3" height="7.2" fill="#c4c4c4"/>
<text x="224.0" y="367.9" font-size="7.7" font-family="Liberation Sans" font-weight="bold" text-anchor="end" fill="#1c1c1c" class="h">(1.1)</text>
<text x="224.0" y="367.9" font-size="7.7" font-family="Liberation Sans" font-weight="bold" text-anchor="end" fill="#1c1c1c" >(1.1)</text>
<line x1="253.8" y1="359.8" x2="299.6" y2="359.8" stroke="#b4b4b4" stroke-width="1.3"/>
<line x1="299.6" y1="359.8" x2="299.6" y2="386.6" stroke="#c4c4c4" stroke-width="0.7"/>
<path d="M256.9,386.6 L256.9,386.3 L258.0,385.4 L259.2,383.8 L260.3,380.0 L261.4,376.1 L262.5,371.6 L263.6,367.5 L265.3,361.6 L266.4,360.0 L267.5,362.6 L269.2,371.1 L270.9,378.4 L272.5,383.6 L273.6,384.8 L274.8,385.9 L275.8,385.9 L276.9,386.1 L277.9,386.1 L278.9,386.2 L280.0,386.3 L281.0,386.4 L281.0,386.6 Z" fill="#0a0a0a" stroke="#0a0a0a" stroke-width="0.4" stroke-linejoin="round"/>
<path d="M256.4,385.8 L257.5,378.5 L258.6,368.5 L259.7,360.7 L260.5,360.1 L261.4,364.0 L262.5,367.4 L263.6,367.4" fill="none" stroke="#222" stroke-width="1.15" stroke-linejoin="round"/>
<line x1="253.8" y1="359.3" x2="253.8" y2="387.1" stroke="#1e1e1e" stroke-width="1.15"/>
<line x1="253.3" y1="386.6" x2="299.90000000000003" y2="386.6" stroke="#1e1e1e" stroke-width="1.05"/>
<rect x="252.3" y="388.2" width="3.0" height="1.4" fill="#b8b8b8"/>
<rect x="263.8" y="388.2" width="3.0" height="1.4" fill="#b8b8b8"/>
<rect x="275.2" y="388.2" width="3.0" height="1.4" fill="#b8b8b8"/>
<rect x="286.7" y="388.2" width="3.0" height="1.4" fill="#b8b8b8"/>
<rect x="298.1" y="388.2" width="3.0" height="1.4" fill="#b8b8b8"/>
<rect x="250.0" y="385.8" width="1.7" height="1.6" fill="#a6a6a6"/>
<rect x="250.0" y="380.4" width="1.7" height="1.6" fill="#a6a6a6"/>
<rect x="250.0" y="375.1" width="1.7" height="1.6" fill="#a6a6a6"/>
<rect x="250.0" y="369.7" width="1.7" height="1.6" fill="#a6a6a6"/>
<rect x="250.0" y="364.4" width="1.7" height="1.6" fill="#a6a6a6"/>
<rect x="250.0" y="359.0" width="1.7" height="1.6" fill="#a6a6a6"/>
<rect x="273.0" y="390.2" width="8.2" height="1.3" fill="#cacaca"/>
<rect x="247.6" y="370.0" width="1.3" height="7.2" fill="#c4c4c4"/>
<text x="298.6" y="368.1" font-size="7.7" font-family="Liberation Sans" font-weight="bold" text-anchor="end" fill="#1c1c1c" class="h">(2.9)</text>
<text x="298.6" y="368.1" font-size="7.7" font-family="Liberation Sans" font-weight="bold" text-anchor="end" fill="#1c1c1c" >(2.9)</text>
<line x1="331.4" y1="359.8" x2="377.4" y2="359.8" stroke="#b4b4b4" stroke-width="1.3"/>
<line x1="377.4" y1="359.8" x2="377.4" y2="386.6" stroke="#c4c4c4" stroke-width="0.7"/>
<path d="M331.7,386.6 L331.7,376.3 L332.8,373.7 L333.9,372.9 L335.0,371.5 L336.7,365.9 L338.2,362.1 L338.9,359.8 L340.1,362.9 L341.2,370.9 L342.3,378.6 L344.0,383.4 L345.1,384.1 L346.2,384.7 L347.3,385.4 L348.3,385.1 L349.3,385.4 L350.3,385.4 L351.3,385.5 L352.2,385.8 L353.2,385.8 L354.2,385.9 L355.2,386.1 L356.2,386.2 L357.1,386.1 L358.0,386.2 L359.0,386.2 L359.9,386.2 L360.8,386.2 L361.7,386.2 L362.6,386.2 L363.6,386.3 L364.5,386.3 L365.4,386.3 L366.3,386.4 L367.2,386.4 L368.2,386.3 L369.1,386.4 L370.0,386.4 L370.0,386.6 Z" fill="#0a0a0a" stroke="#0a0a0a" stroke-width="0.4" stroke-linejoin="round"/>
<line x1="331.4" y1="359.3" x2="331.4" y2="387.1" stroke="#1e1e1e" stroke-width="1.15"/>
<line x1="330.9" y1="386.6" x2="377.7" y2="386.6" stroke="#1e1e1e" stroke-width="1.05"/>
<rect x="329.9" y="388.2" width="3.0" height="1.4" fill="#b8b8b8"/>
<rect x="341.4" y="388.2" width="3.0" height="1.4" fill="#b8b8b8"/>
<rect x="352.9" y="388.2" width="3.0" height="1.4" fill="#b8b8b8"/>
<rect x="364.4" y="388.2" width="3.0" height="1.4" fill="#b8b8b8"/>
<rect x="375.9" y="388.2" width="3.0" height="1.4" fill="#b8b8b8"/>
<rect x="327.6" y="385.8" width="1.7" height="1.6" fill="#a6a6a6"/>
<rect x="327.6" y="380.4" width="1.7" height="1.6" fill="#a6a6a6"/>
<rect x="327.6" y="375.1" width="1.7" height="1.6" fill="#a6a6a6"/>
<rect x="327.6" y="369.7" width="1.7" height="1.6" fill="#a6a6a6"/>
<rect x="327.6" y="364.4" width="1.7" height="1.6" fill="#a6a6a6"/>
<rect x="327.6" y="359.0" width="1.7" height="1.6" fill="#a6a6a6"/>
<rect x="350.7" y="390.2" width="8.3" height="1.3" fill="#cacaca"/>
<rect x="325.2" y="370.0" width="1.3" height="7.2" fill="#c4c4c4"/>
<text x="376.4" y="368.1" font-size="7.7" font-family="Liberation Sans" font-weight="bold" text-anchor="end" fill="#1c1c1c" class="h">(0.9)</text>
<text x="376.4" y="368.1" font-size="7.7" font-family="Liberation Sans" font-weight="bold" text-anchor="end" fill="#1c1c1c" >(0.9)</text>
<line x1="410.1" y1="359.8" x2="456.2" y2="359.8" stroke="#b4b4b4" stroke-width="1.3"/>
<line x1="456.2" y1="359.8" x2="456.2" y2="386.6" stroke="#c4c4c4" stroke-width="0.7"/>
<path d="M410.5,386.6 L410.5,380.8 L411.7,379.5 L412.9,377.7 L414.0,375.4 L415.2,373.8 L416.3,371.5 L417.4,368.7 L418.5,367.8 L419.6,369.8 L420.7,375.4 L421.9,378.0 L423.0,380.6 L424.1,380.8 L425.2,382.3 L426.3,383.1 L427.2,383.0 L428.2,384.0 L429.1,384.4 L430.0,384.1 L431.0,385.1 L431.9,384.9 L432.8,385.1 L433.8,385.5 L434.7,385.5 L435.6,385.2 L436.5,385.4 L437.4,385.6 L438.4,385.6 L439.3,385.6 L440.2,385.8 L441.1,386.0 L442.1,385.9 L443.0,386.1 L443.9,386.1 L444.8,386.0 L445.8,386.1 L446.7,386.2 L447.6,386.2 L448.5,386.2 L449.5,386.3 L450.4,386.3 L451.3,386.4 L452.2,386.3 L453.2,386.3 L454.1,386.3 L455.0,386.4 L455.0,386.6 Z" fill="#0a0a0a" stroke="#0a0a0a" stroke-width="0.4" stroke-linejoin="round"/>
<path d="M410.7,378.5 L412.9,373.0 L415.2,366.3 L417.4,360.1 L418.5,360.7 L419.6,366.3 L420.7,372.0" fill="none" stroke="#222" stroke-width="1.15" stroke-linejoin="round"/>
<line x1="410.1" y1="359.3" x2="410.1" y2="387.1" stroke="#1e1e1e" stroke-width="1.15"/>
<line x1="409.6" y1="386.6" x2="456.5" y2="386.6" stroke="#1e1e1e" stroke-width="1.05"/>
<rect x="408.6" y="388.2" width="3.0" height="1.4" fill="#b8b8b8"/>
<rect x="420.1" y="388.2" width="3.0" height="1.4" fill="#b8b8b8"/>
<rect x="431.6" y="388.2" width="3.0" height="1.4" fill="#b8b8b8"/>
<rect x="443.2" y="388.2" width="3.0" height="1.4" fill="#b8b8b8"/>
<rect x="454.7" y="388.2" width="3.0" height="1.4" fill="#b8b8b8"/>
<rect x="406.3" y="385.8" width="1.7" height="1.6" fill="#a6a6a6"/>
<rect x="406.3" y="380.4" width="1.7" height="1.6" fill="#a6a6a6"/>
<rect x="406.3" y="375.1" width="1.7" height="1.6" fill="#a6a6a6"/>
<rect x="406.3" y="369.7" width="1.7" height="1.6" fill="#a6a6a6"/>
<rect x="406.3" y="364.4" width="1.7" height="1.6" fill="#a6a6a6"/>
<rect x="406.3" y="359.0" width="1.7" height="1.6" fill="#a6a6a6"/>
<rect x="429.5" y="390.2" width="8.3" height="1.3" fill="#cacaca"/>
<rect x="403.9" y="370.0" width="1.3" height="7.2" fill="#c4c4c4"/>
<text x="455.2" y="368.1" font-size="7.7" font-family="Liberation Sans" font-weight="bold" text-anchor="end" fill="#1c1c1c" class="h">(1.7)</text>
<text x="455.2" y="368.1" font-size="7.7" font-family="Liberation Sans" font-weight="bold" text-anchor="end" fill="#1c1c1c" >(1.7)</text>
<line x1="106.4" y1="398.5" x2="152.1" y2="398.5" stroke="#b4b4b4" stroke-width="1.3"/>
<line x1="152.1" y1="398.5" x2="152.1" y2="425.5" stroke="#c4c4c4" stroke-width="0.7"/>
<path d="M106.7,425.5 L106.7,415.4 L108.0,414.8 L109.2,413.5 L110.3,412.0 L111.4,410.9 L112.5,410.0 L113.6,408.5 L114.7,409.6 L116.4,412.9 L117.5,414.7 L118.6,415.5 L119.5,415.8 L120.5,415.4 L121.4,415.6 L122.5,416.5 L123.7,416.7 L124.8,416.7 L125.9,418.6 L127.0,419.4 L128.1,420.2 L129.2,420.2 L130.3,421.5 L131.2,420.9 L132.1,421.7 L133.0,421.4 L133.9,421.4 L134.8,421.6 L135.7,422.0 L136.6,421.5 L137.5,421.4 L138.4,421.9 L139.3,421.7 L140.4,421.7 L141.5,421.9 L142.6,421.9 L143.5,422.2 L144.4,422.5 L145.3,422.7 L146.2,423.3 L147.1,423.0 L148.2,423.5 L149.3,423.6 L150.4,423.1 L151.5,422.7 L151.5,425.5 Z" fill="#0a0a0a" stroke="#0a0a0a" stroke-width="0.4" stroke-linejoin="round"/>
<path d="M106.7,412.1 L108.6,407.6 L110.8,403.2 L112.5,399.6 L114.5,399.6 L116.4,404.3 L118.6,408.7 L120.9,413.2 L121.8,416.0" fill="none" stroke="#222" stroke-width="1.15" stroke-linejoin="round"/>
<line x1="106.4" y1="398.0" x2="106.4" y2="426.0" stroke="#1e1e1e" stroke-width="1.15"/>
<line x1="105.9" y1="425.5" x2="152.4" y2="425.5" stroke="#1e1e1e" stroke-width="1.05"/>
<rect x="104.9" y="427.1" width="3.0" height="1.4" fill="#b8b8b8"/>
<rect x="116.3" y="427.1" width="3.0" height="1.4" fill="#b8b8b8"/>
<rect x="127.8" y="427.1" width="3.0" height="1.4" fill="#b8b8b8"/>
<rect x="139.2" y="427.1" width="3.0" height="1.4" fill="#b8b8b8"/>
<rect x="150.6" y="427.1" width="3.0" height="1.4" fill="#b8b8b8"/>
<rect x="102.6" y="424.7" width="1.7" height="1.6" fill="#a6a6a6"/>
<rect x="102.6" y="419.3" width="1.7" height="1.6" fill="#a6a6a6"/>
<rect x="102.6" y="413.9" width="1.7" height="1.6" fill="#a6a6a6"/>
<rect x="102.6" y="408.5" width="1.7" height="1.6" fill="#a6a6a6"/>
<rect x="102.6" y="403.1" width="1.7" height="1.6" fill="#a6a6a6"/>
<rect x="102.6" y="397.7" width="1.7" height="1.6" fill="#a6a6a6"/>
<rect x="125.6" y="429.1" width="8.2" height="1.3" fill="#cacaca"/>
<rect x="100.2" y="408.8" width="1.3" height="7.3" fill="#c4c4c4"/>
<text x="151.1" y="406.8" font-size="7.7" font-family="Liberation Sans" font-weight="bold" text-anchor="end" fill="#1c1c1c" class="h">(3.8)</text>
<text x="151.1" y="406.8" font-size="7.7" font-family="Liberation Sans" font-weight="bold" text-anchor="end" fill="#1c1c1c" >(3.8)</text>
<line x1="180.4" y1="398.5" x2="226.4" y2="398.5" stroke="#b4b4b4" stroke-width="1.3"/>
<line x1="226.4" y1="398.5" x2="226.4" y2="425.2" stroke="#c4c4c4" stroke-width="0.7"/>
<path d="M181.5,425.2 L181.5,424.9 L182.6,419.5 L183.7,411.9 L184.8,403.9 L185.6,399.4 L187.1,399.2 L188.2,404.0 L189.8,408.7 L191.5,412.5 L193.2,415.0 L194.9,419.6 L196.0,420.4 L197.1,421.6 L198.0,422.3 L199.0,422.2 L199.9,422.7 L201.0,423.4 L202.1,424.1 L203.2,424.2 L204.2,424.6 L205.1,424.6 L206.1,424.7 L207.0,424.8 L208.0,425.0 L208.0,425.2 Z" fill="#0a0a0a" stroke="#0a0a0a" stroke-width="0.4" stroke-linejoin="round"/>
<line x1="180.4" y1="398.0" x2="180.4" y2="425.7" stroke="#1e1e1e" stroke-width="1.15"/>
<line x1="179.9" y1="425.2" x2="226.70000000000002" y2="425.2" stroke="#1e1e1e" stroke-width="1.05"/>
<rect x="178.9" y="426.8" width="3.0" height="1.4" fill="#b8b8b8"/>
<rect x="190.4" y="426.8" width="3.0" height="1.4" fill="#b8b8b8"/>
<rect x="201.9" y="426.8" width="3.0" height="1.4" fill="#b8b8b8"/>
<rect x="213.4" y="426.8" width="3.0" height="1.4" fill="#b8b8b8"/>
<rect x="224.9" y="426.8" width="3.0" height="1.4" fill="#b8b8b8"/>
<rect x="176.6" y="424.4" width="1.7" height="1.6" fill="#a6a6a6"/>
<rect x="176.6" y="419.1" width="1.7" height="1.6" fill="#a6a6a6"/>
<rect x="176.6" y="413.7" width="1.7" height="1.6" fill="#a6a6a6"/>
<rect x="176.6" y="408.4" width="1.7" height="1.6" fill="#a6a6a6"/>
<rect x="176.6" y="403.0" width="1.7" height="1.6" fill="#a6a6a6"/>
<rect x="176.6" y="397.7" width="1.7" height="1.6" fill="#a6a6a6"/>
<rect x="199.7" y="428.8" width="8.3" height="1.3" fill="#cacaca"/>
<rect x="174.2" y="408.6" width="1.3" height="7.2" fill="#c4c4c4"/>
<text x="225.4" y="406.8" font-size="7.7" font-family="Liberation Sans" font-weight="bold" text-anchor="end" fill="#1c1c1c" class="h">(1.1)</text>
<text x="225.4" y="406.8" font-size="7.7" font-family="Liberation Sans" font-weight="bold" text-anchor="end" fill="#1c1c1c" >(1.1)</text>
<line x1="254.9" y1="398.9" x2="300.4" y2="398.9" stroke="#b4b4b4" stroke-width="1.3"/>
<line x1="300.4" y1="398.9" x2="300.4" y2="425.5" stroke="#c4c4c4" stroke-width="0.7"/>
<path d="M255.8,425.5 L255.8,424.9 L256.9,420.9 L258.0,413.9 L259.2,406.2 L260.3,398.8 L261.4,400.6 L263.1,403.0 L264.2,406.8 L265.3,403.9 L267.0,400.7 L268.6,401.8 L270.3,408.9 L271.4,411.0 L272.5,413.5 L273.6,414.9 L274.8,416.5 L275.9,418.1 L277.0,420.4 L278.1,421.0 L279.2,422.5 L280.3,423.0 L281.5,423.1 L282.6,423.3 L283.7,424.1 L284.8,423.8 L285.9,424.0 L287.0,424.0 L288.0,424.4 L289.0,424.6 L290.0,424.8 L291.0,425.0 L291.0,425.5 Z" fill="#0a0a0a" stroke="#0a0a0a" stroke-width="0.4" stroke-linejoin="round"/>
<line x1="254.9" y1="398.4" x2="254.9" y2="426.0" stroke="#1e1e1e" stroke-width="1.15"/>
<line x1="254.4" y1="425.5" x2="300.7" y2="425.5" stroke="#1e1e1e" stroke-width="1.05"/>
<rect x="253.4" y="427.1" width="3.0" height="1.4" fill="#b8b8b8"/>
<rect x="264.8" y="427.1" width="3.0" height="1.4" fill="#b8b8b8"/>
<rect x="276.1" y="427.1" width="3.0" height="1.4" fill="#b8b8b8"/>
<rect x="287.5" y="427.1" width="3.0" height="1.4" fill="#b8b8b8"/>
<rect x="298.9" y="427.1" width="3.0" height="1.4" fill="#b8b8b8"/>
<rect x="251.1" y="424.7" width="1.7" height="1.6" fill="#a6a6a6"/>
<rect x="251.1" y="419.4" width="1.7" height="1.6" fill="#a6a6a6"/>
<rect x="251.1" y="414.1" width="1.7" height="1.6" fill="#a6a6a6"/>
<rect x="251.1" y="408.7" width="1.7" height="1.6" fill="#a6a6a6"/>
<rect x="251.1" y="403.4" width="1.7" height="1.6" fill="#a6a6a6"/>
<rect x="251.1" y="398.1" width="1.7" height="1.6" fill="#a6a6a6"/>
<rect x="274.0" y="429.1" width="8.2" height="1.3" fill="#cacaca"/>
<rect x="248.7" y="409.0" width="1.3" height="7.2" fill="#c4c4c4"/>
<text x="299.4" y="407.2" font-size="7.7" font-family="Liberation Sans" font-weight="bold" text-anchor="end" fill="#1c1c1c" class="h">(2.2)</text>
<text x="299.4" y="407.2" font-size="7.7" font-family="Liberation Sans" font-weight="bold" text-anchor="end" fill="#1c1c1c" >(2.2)</text>
<line x1="332.3" y1="398.5" x2="378.3" y2="398.5" stroke="#b4b4b4" stroke-width="1.3"/>
<line x1="378.3" y1="398.5" x2="378.3" y2="425" stroke="#c4c4c4" stroke-width="0.7"/>
<path d="M332.6,425.0 L332.6,417.7 L333.8,416.3 L335.0,415.4 L336.1,413.6 L337.3,412.4 L338.4,410.8 L339.5,409.7 L340.6,408.3 L341.7,409.7 L342.8,411.3 L344.0,412.4 L345.1,413.8 L346.2,414.6 L347.3,415.6 L348.4,415.8 L349.5,416.2 L350.6,417.2 L351.8,417.6 L352.9,418.9 L354.0,420.8 L355.1,421.0 L356.2,422.5 L357.1,422.7 L358.0,422.5 L358.9,423.5 L359.8,423.8 L360.7,423.9 L361.7,424.0 L362.6,424.1 L363.6,423.9 L364.5,424.1 L365.5,424.2 L366.4,424.3 L367.4,424.4 L368.4,424.4 L369.3,424.4 L370.3,424.5 L371.2,424.5 L372.2,424.5 L373.2,424.4 L374.1,424.4 L375.1,424.5 L376.0,424.5 L377.0,424.6 L377.0,425.0 Z" fill="#0a0a0a" stroke="#0a0a0a" stroke-width="0.4" stroke-linejoin="round"/>
<path d="M332.6,413.2 L335.0,408.7 L337.3,404.8 L339.5,401.5 L340.6,399.2 L341.7,404.3 L343.4,407.6 L345.6,411.5 L347.3,414.0" fill="none" stroke="#222" stroke-width="1.15" stroke-linejoin="round"/>
<line x1="332.3" y1="398.0" x2="332.3" y2="425.5" stroke="#1e1e1e" stroke-width="1.15"/>
<line x1="331.8" y1="425" x2="378.6" y2="425" stroke="#1e1e1e" stroke-width="1.05"/>
<rect x="330.8" y="426.6" width="3.0" height="1.4" fill="#b8b8b8"/>
<rect x="342.3" y="426.6" width="3.0" height="1.4" fill="#b8b8b8"/>
<rect x="353.8" y="426.6" width="3.0" height="1.4" fill="#b8b8b8"/>
<rect x="365.3" y="426.6" width="3.0" height="1.4" fill="#b8b8b8"/>
<rect x="376.8" y="426.6" width="3.0" height="1.4" fill="#b8b8b8"/>
<rect x="328.5" y="424.2" width="1.7" height="1.6" fill="#a6a6a6"/>
<rect x="328.5" y="418.9" width="1.7" height="1.6" fill="#a6a6a6"/>
<rect x="328.5" y="413.6" width="1.7" height="1.6" fill="#a6a6a6"/>
<rect x="328.5" y="408.3" width="1.7" height="1.6" fill="#a6a6a6"/>
<rect x="328.5" y="403.0" width="1.7" height="1.6" fill="#a6a6a6"/>
<rect x="328.5" y="397.7" width="1.7" height="1.6" fill="#a6a6a6"/>
<rect x="351.6" y="428.6" width="8.3" height="1.3" fill="#cacaca"/>
<rect x="326.1" y="408.6" width="1.3" height="7.2" fill="#c4c4c4"/>
<text x="377.3" y="406.8" font-size="7.7" font-family="Liberation Sans" font-weight="bold" text-anchor="end" fill="#1c1c1c" class="h">(1.9)</text>
<text x="377.3" y="406.8" font-size="7.7" font-family="Liberation Sans" font-weight="bold" text-anchor="end" fill="#1c1c1c" >(1.9)</text>
<line x1="412" y1="398.7" x2="457.8" y2="398.7" stroke="#b4b4b4" stroke-width="1.3"/>
<line x1="457.8" y1="398.7" x2="457.8" y2="425.5" stroke="#c4c4c4" stroke-width="0.7"/>
<path d="M412.4,425.5 L412.4,418.8 L413.5,416.2 L414.6,414.6 L415.5,413.6 L416.5,412.9 L417.4,412.2 L418.3,411.5 L419.3,410.6 L420.2,409.4 L421.8,413.5 L423.0,415.1 L424.1,416.5 L425.2,418.2 L426.3,420.0 L427.4,419.2 L428.5,419.5 L429.6,419.6 L430.8,420.1 L431.9,420.8 L433.0,421.4 L434.1,421.1 L435.2,421.8 L436.3,421.9 L437.5,421.3 L438.6,421.1 L439.7,421.1 L440.8,421.2 L441.9,421.2 L443.0,420.5 L444.2,420.0 L445.3,418.9 L446.4,419.0 L447.5,419.1 L448.6,420.1 L449.7,420.2 L450.8,420.9 L452.0,420.8 L453.1,421.2 L454.2,421.9 L455.3,422.7 L456.4,423.2 L457.6,423.5 L457.6,425.5 Z" fill="#0a0a0a" stroke="#0a0a0a" stroke-width="0.4" stroke-linejoin="round"/>
<path d="M412.4,413.2 L414.6,409.8 L416.8,405.4 L419.1,401.5 L420.2,399.8 L421.8,405.4 L424.1,411.0 L426.3,415.4 L427.4,419.0" fill="none" stroke="#222" stroke-width="1.15" stroke-linejoin="round"/>
<line x1="412" y1="398.2" x2="412" y2="426.0" stroke="#1e1e1e" stroke-width="1.15"/>
<line x1="411.5" y1="425.5" x2="458.1" y2="425.5" stroke="#1e1e1e" stroke-width="1.05"/>
<rect x="410.5" y="427.1" width="3.0" height="1.4" fill="#b8b8b8"/>
<rect x="421.9" y="427.1" width="3.0" height="1.4" fill="#b8b8b8"/>
<rect x="433.4" y="427.1" width="3.0" height="1.4" fill="#b8b8b8"/>
<rect x="444.9" y="427.1" width="3.0" height="1.4" fill="#b8b8b8"/>
<rect x="456.3" y="427.1" width="3.0" height="1.4" fill="#b8b8b8"/>
<rect x="408.2" y="424.7" width="1.7" height="1.6" fill="#a6a6a6"/>
<rect x="408.2" y="419.3" width="1.7" height="1.6" fill="#a6a6a6"/>
<rect x="408.2" y="414.0" width="1.7" height="1.6" fill="#a6a6a6"/>
<rect x="408.2" y="408.6" width="1.7" height="1.6" fill="#a6a6a6"/>
<rect x="408.2" y="403.3" width="1.7" height="1.6" fill="#a6a6a6"/>
<rect x="408.2" y="397.9" width="1.7" height="1.6" fill="#a6a6a6"/>
<rect x="431.2" y="429.1" width="8.2" height="1.3" fill="#cacaca"/>
<rect x="405.8" y="408.9" width="1.3" height="7.2" fill="#c4c4c4"/>
<text x="456.8" y="407.0" font-size="7.7" font-family="Liberation Sans" font-weight="bold" text-anchor="end" fill="#1c1c1c" class="h">(5.9)</text>
<text x="456.8" y="407.0" font-size="7.7" font-family="Liberation Sans" font-weight="bold" text-anchor="end" fill="#1c1c1c" >(5.9)</text>
<line x1="106" y1="435.6" x2="152.1" y2="435.6" stroke="#b4b4b4" stroke-width="1.3"/>
<line x1="152.1" y1="435.6" x2="152.1" y2="462.6" stroke="#c4c4c4" stroke-width="0.7"/>
<path d="M106.4,462.6 L106.4,460.1 L108.0,457.0 L109.7,453.2 L111.4,450.6 L112.5,449.8 L113.6,449.0 L114.7,449.5 L115.8,451.0 L116.9,450.6 L118.1,451.6 L119.2,452.1 L120.3,451.9 L121.4,452.6 L122.6,453.3 L123.7,453.8 L124.8,453.9 L125.9,454.3 L127.0,455.1 L128.1,456.6 L129.2,456.5 L130.3,457.4 L131.4,457.2 L132.6,457.7 L133.7,458.3 L134.8,457.7 L135.9,458.5 L137.0,458.4 L138.1,458.4 L139.3,457.8 L140.4,457.1 L141.5,457.4 L142.6,456.8 L143.7,456.7 L144.9,457.1 L146.0,457.9 L147.1,458.2 L148.2,458.5 L149.3,458.7 L150.4,459.2 L151.5,459.6 L151.5,462.6 Z" fill="#0a0a0a" stroke="#0a0a0a" stroke-width="0.4" stroke-linejoin="round"/>
<path d="M106.4,447.8 L108.6,445.6 L110.3,442.3 L112.0,440.0 L113.1,442.3 L114.7,444.5 L116.4,445.6 L118.1,445.6 L119.7,447.3 L121.4,450.1 L122.6,453.0" fill="none" stroke="#222" stroke-width="1.15" stroke-linejoin="round"/>
<line x1="106" y1="435.1" x2="106" y2="463.1" stroke="#1e1e1e" stroke-width="1.15"/>
<line x1="105.5" y1="462.6" x2="152.4" y2="462.6" stroke="#1e1e1e" stroke-width="1.05"/>
<rect x="104.5" y="464.2" width="3.0" height="1.4" fill="#b8b8b8"/>
<rect x="116.0" y="464.2" width="3.0" height="1.4" fill="#b8b8b8"/>
<rect x="127.6" y="464.2" width="3.0" height="1.4" fill="#b8b8b8"/>
<rect x="139.1" y="464.2" width="3.0" height="1.4" fill="#b8b8b8"/>
<rect x="150.6" y="464.2" width="3.0" height="1.4" fill="#b8b8b8"/>
<rect x="102.2" y="461.8" width="1.7" height="1.6" fill="#a6a6a6"/>
<rect x="102.2" y="456.4" width="1.7" height="1.6" fill="#a6a6a6"/>
<rect x="102.2" y="451.0" width="1.7" height="1.6" fill="#a6a6a6"/>
<rect x="102.2" y="445.6" width="1.7" height="1.6" fill="#a6a6a6"/>
<rect x="102.2" y="440.2" width="1.7" height="1.6" fill="#a6a6a6"/>
<rect x="102.2" y="434.8" width="1.7" height="1.6" fill="#a6a6a6"/>
<rect x="125.4" y="466.2" width="8.3" height="1.3" fill="#cacaca"/>
<rect x="99.8" y="445.9" width="1.3" height="7.3" fill="#c4c4c4"/>
<text x="151.1" y="443.9" font-size="7.7" font-family="Liberation Sans" font-weight="bold" text-anchor="end" fill="#1c1c1c" class="h">(8.6)</text>
<text x="151.1" y="443.9" font-size="7.7" font-family="Liberation Sans" font-weight="bold" text-anchor="end" fill="#1c1c1c" >(8.6)</text>
<line x1="180" y1="435.4" x2="226.1" y2="435.4" stroke="#b4b4b4" stroke-width="1.3"/>
<line x1="226.1" y1="435.4" x2="226.1" y2="462.3" stroke="#c4c4c4" stroke-width="0.7"/>
<path d="M180.9,462.3 L180.9,461.8 L182.6,457.7 L183.7,450.4 L185.2,439.6 L185.9,436.3 L187.1,439.2 L188.7,443.1 L190.4,443.2 L192.1,445.8 L193.7,451.6 L195.4,455.5 L196.3,456.5 L197.3,457.4 L198.2,458.8 L199.1,458.9 L200.1,459.1 L201.0,459.5 L202.1,460.1 L203.2,460.8 L204.3,461.7 L206.0,462.2 L206.0,462.3 Z" fill="#0a0a0a" stroke="#0a0a0a" stroke-width="0.4" stroke-linejoin="round"/>
<line x1="180" y1="434.9" x2="180" y2="462.8" stroke="#1e1e1e" stroke-width="1.15"/>
<line x1="179.5" y1="462.3" x2="226.4" y2="462.3" stroke="#1e1e1e" stroke-width="1.05"/>
<rect x="178.5" y="463.9" width="3.0" height="1.4" fill="#b8b8b8"/>
<rect x="190.0" y="463.9" width="3.0" height="1.4" fill="#b8b8b8"/>
<rect x="201.6" y="463.9" width="3.0" height="1.4" fill="#b8b8b8"/>
<rect x="213.1" y="463.9" width="3.0" height="1.4" fill="#b8b8b8"/>
<rect x="224.6" y="463.9" width="3.0" height="1.4" fill="#b8b8b8"/>
<rect x="176.2" y="461.5" width="1.7" height="1.6" fill="#a6a6a6"/>
<rect x="176.2" y="456.1" width="1.7" height="1.6" fill="#a6a6a6"/>
<rect x="176.2" y="450.7" width="1.7" height="1.6" fill="#a6a6a6"/>
<rect x="176.2" y="445.4" width="1.7" height="1.6" fill="#a6a6a6"/>
<rect x="176.2" y="440.0" width="1.7" height="1.6" fill="#a6a6a6"/>
<rect x="176.2" y="434.6" width="1.7" height="1.6" fill="#a6a6a6"/>
<rect x="199.4" y="465.9" width="8.3" height="1.3" fill="#cacaca"/>
<rect x="173.8" y="445.6" width="1.3" height="7.3" fill="#c4c4c4"/>
<text x="225.1" y="443.7" font-size="7.7" font-family="Liberation Sans" font-weight="bold" text-anchor="end" fill="#1c1c1c" class="h">(1.1)</text>
<text x="225.1" y="443.7" font-size="7.7" font-family="Liberation Sans" font-weight="bold" text-anchor="end" fill="#1c1c1c" >(1.1)</text>
<line x1="254.4" y1="436.1" x2="300.4" y2="436.1" stroke="#b4b4b4" stroke-width="1.3"/>
<line x1="300.4" y1="436.1" x2="300.4" y2="462.9" stroke="#c4c4c4" stroke-width="0.7"/>
<path d="M256.4,462.9 L256.4,462.3 L258.0,459.9 L259.2,453.2 L260.8,450.5 L262.5,447.6 L264.2,443.7 L265.8,443.4 L267.5,444.2 L269.2,447.7 L270.3,450.5 L271.4,452.6 L272.5,454.0 L273.7,455.2 L274.8,456.6 L275.9,457.7 L277.0,458.5 L278.1,459.8 L279.2,459.4 L280.4,460.3 L281.5,460.3 L282.6,460.9 L283.7,461.2 L284.8,461.4 L285.7,461.4 L286.6,462.0 L287.5,461.7 L288.4,462.0 L289.3,462.0 L290.2,462.2 L291.1,462.5 L292.1,462.6 L293.0,462.7 L293.0,462.9 Z" fill="#0a0a0a" stroke="#0a0a0a" stroke-width="0.4" stroke-linejoin="round"/>
<path d="M256.4,460.1 L257.5,452.3 L258.6,443.4 L260.3,436.7 L261.4,440.0 L263.1,446.7 L264.2,447.8" fill="none" stroke="#222" stroke-width="1.15" stroke-linejoin="round"/>
<line x1="254.4" y1="435.6" x2="254.4" y2="463.4" stroke="#1e1e1e" stroke-width="1.15"/>
<line x1="253.9" y1="462.9" x2="300.7" y2="462.9" stroke="#1e1e1e" stroke-width="1.05"/>
<rect x="252.9" y="464.5" width="3.0" height="1.4" fill="#b8b8b8"/>
<rect x="264.4" y="464.5" width="3.0" height="1.4" fill="#b8b8b8"/>
<rect x="275.9" y="464.5" width="3.0" height="1.4" fill="#b8b8b8"/>
<rect x="287.4" y="464.5" width="3.0" height="1.4" fill="#b8b8b8"/>
<rect x="298.9" y="464.5" width="3.0" height="1.4" fill="#b8b8b8"/>
<rect x="250.6" y="462.1" width="1.7" height="1.6" fill="#a6a6a6"/>
<rect x="250.6" y="456.7" width="1.7" height="1.6" fill="#a6a6a6"/>
<rect x="250.6" y="451.4" width="1.7" height="1.6" fill="#a6a6a6"/>
<rect x="250.6" y="446.0" width="1.7" height="1.6" fill="#a6a6a6"/>
<rect x="250.6" y="440.7" width="1.7" height="1.6" fill="#a6a6a6"/>
<rect x="250.6" y="435.3" width="1.7" height="1.6" fill="#a6a6a6"/>
<rect x="273.7" y="466.5" width="8.3" height="1.3" fill="#cacaca"/>
<rect x="248.2" y="446.3" width="1.3" height="7.2" fill="#c4c4c4"/>
<text x="299.4" y="444.4" font-size="7.7" font-family="Liberation Sans" font-weight="bold" text-anchor="end" fill="#1c1c1c" class="h">(2.5)</text>
<text x="299.4" y="444.4" font-size="7.7" font-family="Liberation Sans" font-weight="bold" text-anchor="end" fill="#1c1c1c" >(2.5)</text>
<line x1="332.6" y1="435.4" x2="378.3" y2="435.4" stroke="#b4b4b4" stroke-width="1.3"/>
<line x1="378.3" y1="435.4" x2="378.3" y2="462.3" stroke="#c4c4c4" stroke-width="0.7"/>
<path d="M332.8,462.3 L332.8,450.1 L334.5,446.5 L336.2,441.3 L337.8,437.0 L338.9,436.2 L340.6,437.1 L342.3,442.0 L344.0,444.2 L345.6,442.0 L346.7,447.1 L348.4,447.8 L350.1,444.2 L351.8,447.1 L353.4,451.6 L355.1,455.1 L356.2,456.4 L357.3,458.1 L358.4,458.5 L359.6,459.3 L360.7,459.5 L361.6,459.7 L362.5,459.8 L363.4,460.2 L364.3,460.6 L365.2,460.5 L366.1,460.3 L367.1,460.3 L368.0,460.5 L369.0,460.4 L369.9,460.5 L370.9,460.3 L371.8,460.5 L372.7,461.2 L373.7,460.9 L374.6,461.3 L375.5,461.5 L376.5,461.7 L377.4,461.8 L377.4,462.3 Z" fill="#0a0a0a" stroke="#0a0a0a" stroke-width="0.4" stroke-linejoin="round"/>
<path d="M332.8,447.8 L336.2,438.9 L338.9,435.6 L340.6,437.2" fill="none" stroke="#222" stroke-width="1.15" stroke-linejoin="round"/>
<line x1="332.6" y1="434.9" x2="332.6" y2="462.8" stroke="#1e1e1e" stroke-width="1.15"/>
<line x1="332.1" y1="462.3" x2="378.6" y2="462.3" stroke="#1e1e1e" stroke-width="1.05"/>
<rect x="331.1" y="463.9" width="3.0" height="1.4" fill="#b8b8b8"/>
<rect x="342.5" y="463.9" width="3.0" height="1.4" fill="#b8b8b8"/>
<rect x="354.0" y="463.9" width="3.0" height="1.4" fill="#b8b8b8"/>
<rect x="365.4" y="463.9" width="3.0" height="1.4" fill="#b8b8b8"/>
<rect x="376.8" y="463.9" width="3.0" height="1.4" fill="#b8b8b8"/>
<rect x="328.8" y="461.5" width="1.7" height="1.6" fill="#a6a6a6"/>
<rect x="328.8" y="456.1" width="1.7" height="1.6" fill="#a6a6a6"/>
<rect x="328.8" y="450.7" width="1.7" height="1.6" fill="#a6a6a6"/>
<rect x="328.8" y="445.4" width="1.7" height="1.6" fill="#a6a6a6"/>
<rect x="328.8" y="440.0" width="1.7" height="1.6" fill="#a6a6a6"/>
<rect x="328.8" y="434.6" width="1.7" height="1.6" fill="#a6a6a6"/>
<rect x="351.8" y="465.9" width="8.2" height="1.3" fill="#cacaca"/>
<rect x="326.4" y="445.6" width="1.3" height="7.3" fill="#c4c4c4"/>
<text x="377.3" y="443.7" font-size="7.7" font-family="Liberation Sans" font-weight="bold" text-anchor="end" fill="#1c1c1c" class="h">(2.0)</text>
<text x="377.3" y="443.7" font-size="7.7" font-family="Liberation Sans" font-weight="bold" text-anchor="end" fill="#1c1c1c" >(2.0)</text>
<line x1="411.6" y1="435.4" x2="457.3" y2="435.4" stroke="#b4b4b4" stroke-width="1.3"/>
<line x1="457.3" y1="435.4" x2="457.3" y2="462.3" stroke="#c4c4c4" stroke-width="0.7"/>
<path d="M412.0,462.3 L412.0,454.5 L413.0,453.7 L414.0,453.2 L415.7,449.9 L417.4,447.2 L419.1,445.6 L420.7,448.8 L422.4,452.1 L423.5,453.5 L424.6,454.1 L425.5,454.5 L426.5,455.6 L427.4,456.3 L428.5,456.2 L429.7,456.6 L430.8,456.4 L431.9,457.3 L433.0,458.3 L433.9,458.0 L434.9,457.8 L435.8,457.7 L436.7,456.1 L437.7,455.1 L438.6,454.2 L439.7,453.8 L440.8,453.2 L441.9,452.7 L443.0,451.6 L444.2,450.7 L445.8,448.6 L447.5,449.5 L448.6,450.9 L449.7,451.9 L450.9,454.0 L452.0,454.9 L453.4,456.9 L454.7,458.0 L455.9,458.2 L457.0,458.8 L457.0,462.3 Z" fill="#0a0a0a" stroke="#0a0a0a" stroke-width="0.4" stroke-linejoin="round"/>
<path d="M412.0,450.1 L414.0,444.5 L415.7,441.2 L417.4,436.7 L419.1,440.0 L420.7,442.3 L422.4,442.8 L424.1,441.7 L425.7,444.5 L427.4,447.8 L429.1,452.3 L430.6,456.5" fill="none" stroke="#222" stroke-width="1.15" stroke-linejoin="round"/>
<line x1="411.6" y1="434.9" x2="411.6" y2="462.8" stroke="#1e1e1e" stroke-width="1.15"/>
<line x1="411.1" y1="462.3" x2="457.6" y2="462.3" stroke="#1e1e1e" stroke-width="1.05"/>
<rect x="410.1" y="463.9" width="3.0" height="1.4" fill="#b8b8b8"/>
<rect x="421.5" y="463.9" width="3.0" height="1.4" fill="#b8b8b8"/>
<rect x="433.0" y="463.9" width="3.0" height="1.4" fill="#b8b8b8"/>
<rect x="444.4" y="463.9" width="3.0" height="1.4" fill="#b8b8b8"/>
<rect x="455.8" y="463.9" width="3.0" height="1.4" fill="#b8b8b8"/>
<rect x="407.8" y="461.5" width="1.7" height="1.6" fill="#a6a6a6"/>
<rect x="407.8" y="456.1" width="1.7" height="1.6" fill="#a6a6a6"/>
<rect x="407.8" y="450.7" width="1.7" height="1.6" fill="#a6a6a6"/>
<rect x="407.8" y="445.4" width="1.7" height="1.6" fill="#a6a6a6"/>
<rect x="407.8" y="440.0" width="1.7" height="1.6" fill="#a6a6a6"/>
<rect x="407.8" y="434.6" width="1.7" height="1.6" fill="#a6a6a6"/>
<rect x="430.8" y="465.9" width="8.2" height="1.3" fill="#cacaca"/>
<rect x="405.4" y="445.6" width="1.3" height="7.3" fill="#c4c4c4"/>
<text x="456.3" y="443.7" font-size="7.7" font-family="Liberation Sans" font-weight="bold" text-anchor="end" fill="#1c1c1c" class="h">(10.8)</text>
<text x="456.3" y="443.7" font-size="7.7" font-family="Liberation Sans" font-weight="bold" text-anchor="end" fill="#1c1c1c" >(10.8)</text>
<line x1="104.5" y1="472.8" x2="150.6" y2="472.8" stroke="#b4b4b4" stroke-width="1.3"/>
<line x1="150.6" y1="472.8" x2="150.6" y2="499.6" stroke="#c4c4c4" stroke-width="0.7"/>
<path d="M104.9,499.6 L104.9,497.1 L105.9,495.9 L106.9,495.2 L108.1,494.4 L109.2,493.4 L110.3,491.5 L111.4,490.0 L112.5,489.6 L113.6,488.8 L114.7,489.4 L115.8,490.2 L117.5,491.1 L119.2,489.5 L120.3,489.1 L121.4,488.7 L122.6,488.6 L123.7,487.7 L124.8,489.1 L125.9,489.9 L127.0,490.2 L128.1,490.8 L129.2,492.0 L130.3,492.3 L131.4,492.5 L132.6,492.8 L133.7,494.0 L134.8,495.1 L135.9,495.4 L137.0,495.8 L138.1,495.2 L139.3,494.5 L140.4,493.0 L141.5,492.8 L142.6,493.1 L143.7,493.1 L144.8,493.9 L146.0,494.0 L147.1,494.9 L148.2,495.1 L149.3,494.6 L150.4,494.3 L150.4,499.6 Z" fill="#0a0a0a" stroke="#0a0a0a" stroke-width="0.4" stroke-linejoin="round"/>
<path d="M118.6,490.4 L120.3,484.8 L122.0,479.3 L123.4,476.8 L124.8,480.4 L125.9,487.1 L127.0,490.5" fill="none" stroke="#222" stroke-width="1.15" stroke-linejoin="round"/>
<line x1="104.5" y1="472.3" x2="104.5" y2="500.1" stroke="#1e1e1e" stroke-width="1.15"/>
<line x1="104.0" y1="499.6" x2="150.9" y2="499.6" stroke="#1e1e1e" stroke-width="1.05"/>
<rect x="103.0" y="501.2" width="3.0" height="1.4" fill="#b8b8b8"/>
<rect x="114.5" y="501.2" width="3.0" height="1.4" fill="#b8b8b8"/>
<rect x="126.0" y="501.2" width="3.0" height="1.4" fill="#b8b8b8"/>
<rect x="137.6" y="501.2" width="3.0" height="1.4" fill="#b8b8b8"/>
<rect x="149.1" y="501.2" width="3.0" height="1.4" fill="#b8b8b8"/>
<rect x="100.7" y="498.8" width="1.7" height="1.6" fill="#a6a6a6"/>
<rect x="100.7" y="493.4" width="1.7" height="1.6" fill="#a6a6a6"/>
<rect x="100.7" y="488.1" width="1.7" height="1.6" fill="#a6a6a6"/>
<rect x="100.7" y="482.7" width="1.7" height="1.6" fill="#a6a6a6"/>
<rect x="100.7" y="477.4" width="1.7" height="1.6" fill="#a6a6a6"/>
<rect x="100.7" y="472.0" width="1.7" height="1.6" fill="#a6a6a6"/>
<rect x="123.9" y="503.2" width="8.3" height="1.3" fill="#cacaca"/>
<rect x="98.3" y="483.0" width="1.3" height="7.2" fill="#c4c4c4"/>
<text x="149.6" y="481.1" font-size="7.7" font-family="Liberation Sans" font-weight="bold" text-anchor="end" fill="#1c1c1c" class="h">(5.1)</text>
<text x="149.6" y="481.1" font-size="7.7" font-family="Liberation Sans" font-weight="bold" text-anchor="end" fill="#1c1c1c" >(5.1)</text>
<line x1="178.7" y1="472.4" x2="224.6" y2="472.4" stroke="#b4b4b4" stroke-width="1.3"/>
<line x1="224.6" y1="472.4" x2="224.6" y2="499.3" stroke="#c4c4c4" stroke-width="0.7"/>
<path d="M179.2,499.3 L179.2,498.2 L180.9,492.4 L182.6,486.4 L184.0,483.5 L185.4,487.4 L187.1,486.3 L188.7,483.4 L190.4,482.3 L192.1,484.6 L193.7,488.6 L194.8,489.6 L196.0,490.7 L196.9,491.7 L197.9,492.8 L198.8,493.9 L199.9,495.6 L201.0,496.3 L202.1,497.3 L203.2,498.1 L204.3,498.8 L205.5,499.1 L205.5,499.3 Z" fill="#0a0a0a" stroke="#0a0a0a" stroke-width="0.4" stroke-linejoin="round"/>
<path d="M189.3,484.8 L190.4,478.2 L192.1,474.2 L193.2,473.7 L194.3,480.4 L195.4,487.1 L196.5,490.5" fill="none" stroke="#222" stroke-width="1.15" stroke-linejoin="round"/>
<line x1="178.7" y1="471.9" x2="178.7" y2="499.8" stroke="#1e1e1e" stroke-width="1.15"/>
<line x1="178.2" y1="499.3" x2="224.9" y2="499.3" stroke="#1e1e1e" stroke-width="1.05"/>
<rect x="177.2" y="500.9" width="3.0" height="1.4" fill="#b8b8b8"/>
<rect x="188.7" y="500.9" width="3.0" height="1.4" fill="#b8b8b8"/>
<rect x="200.1" y="500.9" width="3.0" height="1.4" fill="#b8b8b8"/>
<rect x="211.6" y="500.9" width="3.0" height="1.4" fill="#b8b8b8"/>
<rect x="223.1" y="500.9" width="3.0" height="1.4" fill="#b8b8b8"/>
<rect x="174.9" y="498.5" width="1.7" height="1.6" fill="#a6a6a6"/>
<rect x="174.9" y="493.1" width="1.7" height="1.6" fill="#a6a6a6"/>
<rect x="174.9" y="487.7" width="1.7" height="1.6" fill="#a6a6a6"/>
<rect x="174.9" y="482.4" width="1.7" height="1.6" fill="#a6a6a6"/>
<rect x="174.9" y="477.0" width="1.7" height="1.6" fill="#a6a6a6"/>
<rect x="174.9" y="471.6" width="1.7" height="1.6" fill="#a6a6a6"/>
<rect x="198.0" y="502.9" width="8.3" height="1.3" fill="#cacaca"/>
<rect x="172.5" y="482.6" width="1.3" height="7.3" fill="#c4c4c4"/>
<text x="223.6" y="480.7" font-size="7.7" font-family="Liberation Sans" font-weight="bold" text-anchor="end" fill="#1c1c1c" class="h">(0.9)</text>
<text x="223.6" y="480.7" font-size="7.7" font-family="Liberation Sans" font-weight="bold" text-anchor="end" fill="#1c1c1c" >(0.9)</text>
<line x1="253" y1="472.4" x2="299.5" y2="472.4" stroke="#b4b4b4" stroke-width="1.3"/>
<line x1="299.5" y1="472.4" x2="299.5" y2="499.6" stroke="#c4c4c4" stroke-width="0.7"/>
<path d="M254.1,499.6 L254.1,498.2 L255.8,494.6 L257.5,490.0 L259.2,488.3 L260.8,490.8 L262.5,490.8 L264.2,487.4 L265.3,485.6 L266.4,484.1 L267.5,483.0 L268.6,481.3 L270.3,482.3 L272.0,485.8 L273.7,489.5 L274.8,490.8 L275.9,493.3 L276.8,493.8 L277.8,494.6 L278.7,495.2 L279.6,495.5 L280.6,495.8 L281.5,496.4 L282.6,496.9 L283.7,497.9 L284.8,497.7 L285.7,498.5 L286.6,498.3 L287.5,498.6 L288.4,499.0 L289.3,499.1 L289.3,499.6 Z" fill="#0a0a0a" stroke="#0a0a0a" stroke-width="0.4" stroke-linejoin="round"/>
<path d="M256.4,492.7 L258.0,483.7 L259.2,484.8 L260.8,489.3 L262.5,490.4 L264.2,481.5 L265.8,475.9 L267.0,474.2 L268.1,478.2 L269.2,481.8" fill="none" stroke="#222" stroke-width="1.15" stroke-linejoin="round"/>
<line x1="253" y1="471.9" x2="253" y2="500.1" stroke="#1e1e1e" stroke-width="1.15"/>
<line x1="252.5" y1="499.6" x2="299.8" y2="499.6" stroke="#1e1e1e" stroke-width="1.05"/>
<rect x="251.5" y="501.2" width="3.0" height="1.4" fill="#b8b8b8"/>
<rect x="263.1" y="501.2" width="3.0" height="1.4" fill="#b8b8b8"/>
<rect x="274.8" y="501.2" width="3.0" height="1.4" fill="#b8b8b8"/>
<rect x="286.4" y="501.2" width="3.0" height="1.4" fill="#b8b8b8"/>
<rect x="298.0" y="501.2" width="3.0" height="1.4" fill="#b8b8b8"/>
<rect x="249.2" y="498.8" width="1.7" height="1.6" fill="#a6a6a6"/>
<rect x="249.2" y="493.4" width="1.7" height="1.6" fill="#a6a6a6"/>
<rect x="249.2" y="487.9" width="1.7" height="1.6" fill="#a6a6a6"/>
<rect x="249.2" y="482.5" width="1.7" height="1.6" fill="#a6a6a6"/>
<rect x="249.2" y="477.0" width="1.7" height="1.6" fill="#a6a6a6"/>
<rect x="249.2" y="471.6" width="1.7" height="1.6" fill="#a6a6a6"/>
<rect x="272.5" y="503.2" width="8.4" height="1.3" fill="#cacaca"/>
<rect x="246.8" y="482.7" width="1.3" height="7.3" fill="#c4c4c4"/>
<text x="298.5" y="480.7" font-size="7.7" font-family="Liberation Sans" font-weight="bold" text-anchor="end" fill="#1c1c1c" class="h">(1.8)</text>
<text x="298.5" y="480.7" font-size="7.7" font-family="Liberation Sans" font-weight="bold" text-anchor="end" fill="#1c1c1c" >(1.8)</text>
<line x1="331.4" y1="472.4" x2="377.4" y2="472.4" stroke="#b4b4b4" stroke-width="1.3"/>
<line x1="377.4" y1="472.4" x2="377.4" y2="499.3" stroke="#c4c4c4" stroke-width="0.7"/>
<path d="M331.7,499.3 L331.7,493.8 L332.8,493.5 L333.9,492.6 L335.0,491.1 L336.2,490.4 L337.8,488.1 L339.5,487.5 L341.2,487.9 L342.8,489.8 L344.5,489.1 L346.2,485.5 L347.9,482.5 L349.5,480.7 L351.2,479.5 L352.3,482.2 L354.0,487.8 L355.1,490.6 L356.2,494.2 L357.3,494.8 L358.4,496.4 L359.3,496.8 L360.2,496.5 L361.1,496.7 L362.0,497.5 L362.9,497.4 L363.9,497.1 L364.8,497.6 L365.8,497.3 L366.7,497.3 L367.7,497.2 L368.6,497.8 L369.6,498.0 L370.6,497.8 L371.5,498.1 L372.4,497.5 L373.4,497.7 L374.4,497.9 L375.3,498.2 L376.2,498.2 L377.2,498.0 L377.2,499.3 Z" fill="#0a0a0a" stroke="#0a0a0a" stroke-width="0.4" stroke-linejoin="round"/>
<path d="M347.3,483.7 L348.4,478.2 L349.5,473.7 L350.7,474.8 L351.8,480.0" fill="none" stroke="#222" stroke-width="1.15" stroke-linejoin="round"/>
<line x1="331.4" y1="471.9" x2="331.4" y2="499.8" stroke="#1e1e1e" stroke-width="1.15"/>
<line x1="330.9" y1="499.3" x2="377.7" y2="499.3" stroke="#1e1e1e" stroke-width="1.05"/>
<rect x="329.9" y="500.9" width="3.0" height="1.4" fill="#b8b8b8"/>
<rect x="341.4" y="500.9" width="3.0" height="1.4" fill="#b8b8b8"/>
<rect x="352.9" y="500.9" width="3.0" height="1.4" fill="#b8b8b8"/>
<rect x="364.4" y="500.9" width="3.0" height="1.4" fill="#b8b8b8"/>
<rect x="375.9" y="500.9" width="3.0" height="1.4" fill="#b8b8b8"/>
<rect x="327.6" y="498.5" width="1.7" height="1.6" fill="#a6a6a6"/>
<rect x="327.6" y="493.1" width="1.7" height="1.6" fill="#a6a6a6"/>
<rect x="327.6" y="487.7" width="1.7" height="1.6" fill="#a6a6a6"/>
<rect x="327.6" y="482.4" width="1.7" height="1.6" fill="#a6a6a6"/>
<rect x="327.6" y="477.0" width="1.7" height="1.6" fill="#a6a6a6"/>
<rect x="327.6" y="471.6" width="1.7" height="1.6" fill="#a6a6a6"/>
<rect x="350.7" y="502.9" width="8.3" height="1.3" fill="#cacaca"/>
<rect x="325.2" y="482.6" width="1.3" height="7.3" fill="#c4c4c4"/>
<text x="376.4" y="480.7" font-size="7.7" font-family="Liberation Sans" font-weight="bold" text-anchor="end" fill="#1c1c1c" class="h">(1.3)</text>
<text x="376.4" y="480.7" font-size="7.7" font-family="Liberation Sans" font-weight="bold" text-anchor="end" fill="#1c1c1c" >(1.3)</text>
<line x1="410.7" y1="472.4" x2="456.6" y2="472.4" stroke="#b4b4b4" stroke-width="1.3"/>
<line x1="456.6" y1="472.4" x2="456.6" y2="499.3" stroke="#c4c4c4" stroke-width="0.7"/>
<path d="M410.9,499.3 L410.9,496.0 L411.9,495.0 L412.9,494.1 L414.0,493.4 L415.2,492.7 L416.3,492.5 L417.4,491.2 L418.5,492.4 L419.6,492.9 L420.7,493.5 L421.8,494.0 L423.0,494.7 L424.1,495.2 L425.2,495.6 L426.3,496.1 L427.4,496.5 L428.6,495.8 L429.7,495.9 L430.8,496.2 L431.9,495.4 L433.0,495.0 L434.1,494.2 L435.2,493.8 L436.4,492.5 L437.5,491.9 L438.6,490.7 L439.7,489.7 L440.8,488.5 L441.9,487.8 L443.6,486.7 L445.3,488.2 L446.9,486.7 L448.6,488.2 L449.7,489.1 L450.8,490.3 L452.0,491.7 L453.1,492.9 L454.2,494.0 L455.3,495.2 L456.4,495.8 L456.4,499.3 Z" fill="#0a0a0a" stroke="#0a0a0a" stroke-width="0.4" stroke-linejoin="round"/>
<path d="M411.2,496.0 L414.0,492.7 L416.8,489.3 L419.1,487.1 L420.7,488.2 L423.0,489.9 L425.2,485.4 L427.4,479.3 L429.4,473.1 L430.8,479.3 L432.4,487.1 L433.6,492.7 L434.5,494.5" fill="none" stroke="#222" stroke-width="1.15" stroke-linejoin="round"/>
<line x1="410.7" y1="471.9" x2="410.7" y2="499.8" stroke="#1e1e1e" stroke-width="1.15"/>
<line x1="410.2" y1="499.3" x2="456.90000000000003" y2="499.3" stroke="#1e1e1e" stroke-width="1.05"/>
<rect x="409.2" y="500.9" width="3.0" height="1.4" fill="#b8b8b8"/>
<rect x="420.7" y="500.9" width="3.0" height="1.4" fill="#b8b8b8"/>
<rect x="432.1" y="500.9" width="3.0" height="1.4" fill="#b8b8b8"/>
<rect x="443.6" y="500.9" width="3.0" height="1.4" fill="#b8b8b8"/>
<rect x="455.1" y="500.9" width="3.0" height="1.4" fill="#b8b8b8"/>
<rect x="406.9" y="498.5" width="1.7" height="1.6" fill="#a6a6a6"/>
<rect x="406.9" y="493.1" width="1.7" height="1.6" fill="#a6a6a6"/>
<rect x="406.9" y="487.7" width="1.7" height="1.6" fill="#a6a6a6"/>
<rect x="406.9" y="482.4" width="1.7" height="1.6" fill="#a6a6a6"/>
<rect x="406.9" y="477.0" width="1.7" height="1.6" fill="#a6a6a6"/>
<rect x="406.9" y="471.6" width="1.7" height="1.6" fill="#a6a6a6"/>
<rect x="430.0" y="502.9" width="8.3" height="1.3" fill="#cacaca"/>
<rect x="404.5" y="482.6" width="1.3" height="7.3" fill="#c4c4c4"/>
<text x="455.6" y="480.7" font-size="7.7" font-family="Liberation Sans" font-weight="bold" text-anchor="end" fill="#1c1c1c" class="h">(9.5)</text>
<text x="455.6" y="480.7" font-size="7.7" font-family="Liberation Sans" font-weight="bold" text-anchor="end" fill="#1c1c1c" >(9.5)</text>
<line x1="101.7" y1="551.7" x2="158.8" y2="551.7" stroke="#b4b4b4" stroke-width="1.3"/>
<path d="M102.0,576.7 L102.0,576.4 L102.9,576.4 L103.8,576.3 L104.7,576.4 L105.6,576.2 L106.5,576.2 L107.5,576.2 L108.4,576.2 L109.3,576.0 L110.2,576.0 L111.1,576.0 L112.0,575.9 L113.0,576.0 L114.0,575.8 L115.0,575.6 L116.0,575.5 L117.0,576.0 L118.0,575.9 L119.0,576.0 L120.0,576.3 L120.9,576.2 L121.9,576.3 L122.8,576.1 L123.8,576.2 L124.7,576.3 L125.6,576.3 L126.6,576.3 L127.5,576.1 L128.4,576.2 L129.4,576.1 L130.3,576.1 L131.2,576.3 L132.2,576.2 L133.1,576.3 L134.1,576.2 L135.0,576.3 L135.9,576.1 L136.8,575.9 L137.8,576.0 L138.7,576.0 L139.6,575.5 L140.5,575.6 L141.4,575.6 L142.4,575.2 L143.3,575.2 L144.2,575.0 L145.2,574.7 L146.2,574.5 L147.3,574.5 L148.3,574.3 L149.3,573.6 L150.2,573.0 L151.2,572.8 L152.2,572.6 L153.1,571.7 L154.4,570.2 L155.7,568.5 L157.2,562.8 L158.2,553.6 L158.8,551.7 L158.8,576.7 Z" fill="#0a0a0a" stroke="#0a0a0a" stroke-width="0.4" stroke-linejoin="round"/>
<path d="M102.3,573.3 L104.9,572.7 L107.4,570.1 L110.0,563.8 L112.5,557.4 L114.4,553.6 L116.3,556.8 L118.2,562.5 L120.1,568.8 L122.0,573.3 L125.2,575.4 L134.1,576.2" fill="none" stroke="#222" stroke-width="1.15" stroke-linejoin="round"/>
<line x1="101.7" y1="551.2" x2="101.7" y2="577.2" stroke="#1e1e1e" stroke-width="1.15"/>
<line x1="101.2" y1="576.7" x2="159.10000000000002" y2="576.7" stroke="#1e1e1e" stroke-width="1.05"/>
<rect x="100.2" y="578.3" width="3.0" height="1.4" fill="#b8b8b8"/>
<rect x="114.5" y="578.3" width="3.0" height="1.4" fill="#b8b8b8"/>
<rect x="128.8" y="578.3" width="3.0" height="1.4" fill="#b8b8b8"/>
<rect x="143.0" y="578.3" width="3.0" height="1.4" fill="#b8b8b8"/>
<rect x="157.3" y="578.3" width="3.0" height="1.4" fill="#b8b8b8"/>
<rect x="97.9" y="575.9" width="1.7" height="1.6" fill="#a6a6a6"/>
<rect x="97.9" y="570.9" width="1.7" height="1.6" fill="#a6a6a6"/>
<rect x="97.9" y="565.9" width="1.7" height="1.6" fill="#a6a6a6"/>
<rect x="97.9" y="560.9" width="1.7" height="1.6" fill="#a6a6a6"/>
<rect x="97.9" y="555.9" width="1.7" height="1.6" fill="#a6a6a6"/>
<rect x="97.9" y="550.9" width="1.7" height="1.6" fill="#a6a6a6"/>
<rect x="125.7" y="580.3" width="10.3" height="1.3" fill="#cacaca"/>
<rect x="95.5" y="561.2" width="1.3" height="6.8" fill="#c4c4c4"/>
<text x="158.2" y="559.7" font-size="7.1" font-family="Liberation Sans" font-weight="bold" text-anchor="end" fill="#1c1c1c" class="h">(514.8)</text>
<text x="158.2" y="559.7" font-size="7.1" font-family="Liberation Sans" font-weight="bold" text-anchor="end" fill="#1c1c1c" >(514.8)</text>
<line x1="174.1" y1="551.7" x2="231.5" y2="551.7" stroke="#b4b4b4" stroke-width="1.3"/>
<path d="M179.4,576.5 L179.4,576.2 L180.5,575.5 L181.5,574.9 L182.6,574.5 L183.8,573.8 L185.1,573.1 L186.1,572.1 L187.0,571.7 L187.9,572.7 L188.9,572.9 L190.2,573.6 L191.5,574.4 L192.6,575.1 L193.6,574.9 L194.7,575.2 L195.9,574.1 L197.2,573.2 L198.4,572.7 L199.7,571.8 L201.0,570.9 L202.3,570.4 L203.6,570.3 L204.8,569.2 L206.1,567.8 L207.3,567.3 L208.6,565.3 L209.9,564.1 L210.9,563.1 L211.8,562.8 L212.8,562.2 L213.7,561.6 L214.6,562.1 L215.6,563.1 L216.8,563.6 L218.1,564.2 L219.1,563.1 L220.0,563.2 L220.9,563.0 L221.9,563.1 L222.9,565.0 L223.8,567.4 L224.8,569.8 L225.8,572.4 L226.8,572.9 L227.7,574.6 L228.9,575.6 L230.2,576.2 L230.2,576.5 Z" fill="#0a0a0a" stroke="#0a0a0a" stroke-width="0.4" stroke-linejoin="round"/>
<path d="M174.3,575.8 L178.2,574.6 L180.7,571.4 L183.2,566.3 L185.1,558.7 L187.0,553.0 L188.3,552.3 L189.6,557.4 L191.5,565.0 L193.4,571.4 L195.3,574.6 L197.0,575.0" fill="none" stroke="#222" stroke-width="1.15" stroke-linejoin="round"/>
<line x1="174.1" y1="551.2" x2="174.1" y2="577.0" stroke="#1e1e1e" stroke-width="1.15"/>
<line x1="173.6" y1="576.5" x2="231.8" y2="576.5" stroke="#1e1e1e" stroke-width="1.05"/>
<rect x="172.6" y="578.1" width="3.0" height="1.4" fill="#b8b8b8"/>
<rect x="186.9" y="578.1" width="3.0" height="1.4" fill="#b8b8b8"/>
<rect x="201.3" y="578.1" width="3.0" height="1.4" fill="#b8b8b8"/>
<rect x="215.7" y="578.1" width="3.0" height="1.4" fill="#b8b8b8"/>
<rect x="230.0" y="578.1" width="3.0" height="1.4" fill="#b8b8b8"/>
<rect x="170.3" y="575.7" width="1.7" height="1.6" fill="#a6a6a6"/>
<rect x="170.3" y="570.7" width="1.7" height="1.6" fill="#a6a6a6"/>
<rect x="170.3" y="565.8" width="1.7" height="1.6" fill="#a6a6a6"/>
<rect x="170.3" y="560.8" width="1.7" height="1.6" fill="#a6a6a6"/>
<rect x="170.3" y="555.9" width="1.7" height="1.6" fill="#a6a6a6"/>
<rect x="170.3" y="550.9" width="1.7" height="1.6" fill="#a6a6a6"/>
<rect x="198.2" y="580.1" width="10.3" height="1.3" fill="#cacaca"/>
<rect x="167.9" y="561.1" width="1.3" height="6.7" fill="#c4c4c4"/>
<text x="230.9" y="559.7" font-size="7.1" font-family="Liberation Sans" font-weight="bold" text-anchor="end" fill="#1c1c1c" class="h">(36.3)</text>
<text x="230.9" y="559.7" font-size="7.1" font-family="Liberation Sans" font-weight="bold" text-anchor="end" fill="#1c1c1c" >(36.3)</text>
<line x1="246.1" y1="551.3" x2="303.5" y2="551.3" stroke="#b4b4b4" stroke-width="1.3"/>
<path d="M251.4,576.5 L251.4,576.2 L252.3,576.1 L253.3,575.7 L254.2,575.4 L255.2,575.6 L256.1,575.5 L257.1,575.0 L258.1,574.5 L259.0,575.0 L259.9,574.6 L260.8,575.1 L261.7,574.9 L262.7,575.2 L263.6,574.8 L264.5,575.3 L265.4,575.0 L266.3,575.1 L267.3,575.3 L268.2,575.2 L269.2,574.7 L270.1,574.6 L271.1,574.7 L272.1,574.7 L273.0,574.5 L274.0,574.1 L275.0,574.1 L276.1,574.4 L277.1,574.4 L278.1,573.5 L279.4,572.7 L280.6,571.6 L281.9,568.4 L283.2,566.6 L284.1,563.4 L285.1,561.3 L286.1,559.7 L287.0,558.2 L287.9,557.0 L288.9,556.1 L289.9,556.6 L290.8,556.7 L291.8,558.5 L292.7,560.0 L293.6,562.4 L294.6,564.6 L295.6,568.3 L296.5,571.4 L297.4,572.8 L298.4,574.8 L299.6,575.5 L300.9,576.2 L300.9,576.5 Z" fill="#0a0a0a" stroke="#0a0a0a" stroke-width="0.4" stroke-linejoin="round"/>
<path d="M247.0,575.8 L250.2,574.6 L253.3,571.4 L255.9,566.9 L257.8,560.0 L259.7,554.3 L260.9,553.6 L262.2,557.4 L264.1,565.0 L266.0,571.4 L267.9,574.6 L271.5,575.4" fill="none" stroke="#222" stroke-width="1.15" stroke-linejoin="round"/>
<line x1="246.1" y1="550.8" x2="246.1" y2="577.0" stroke="#1e1e1e" stroke-width="1.15"/>
<line x1="245.6" y1="576.5" x2="303.8" y2="576.5" stroke="#1e1e1e" stroke-width="1.05"/>
<rect x="244.6" y="578.1" width="3.0" height="1.4" fill="#b8b8b8"/>
<rect x="258.9" y="578.1" width="3.0" height="1.4" fill="#b8b8b8"/>
<rect x="273.3" y="578.1" width="3.0" height="1.4" fill="#b8b8b8"/>
<rect x="287.6" y="578.1" width="3.0" height="1.4" fill="#b8b8b8"/>
<rect x="302.0" y="578.1" width="3.0" height="1.4" fill="#b8b8b8"/>
<rect x="242.3" y="575.7" width="1.7" height="1.6" fill="#a6a6a6"/>
<rect x="242.3" y="570.7" width="1.7" height="1.6" fill="#a6a6a6"/>
<rect x="242.3" y="565.6" width="1.7" height="1.6" fill="#a6a6a6"/>
<rect x="242.3" y="560.6" width="1.7" height="1.6" fill="#a6a6a6"/>
<rect x="242.3" y="555.5" width="1.7" height="1.6" fill="#a6a6a6"/>
<rect x="242.3" y="550.5" width="1.7" height="1.6" fill="#a6a6a6"/>
<rect x="270.2" y="580.1" width="10.3" height="1.3" fill="#cacaca"/>
<rect x="239.9" y="560.9" width="1.3" height="6.8" fill="#c4c4c4"/>
<text x="303.6" y="559.3" font-size="7.1" font-family="Liberation Sans" font-weight="bold" text-anchor="end" fill="#1c1c1c" class="h">(57.8)</text>
<text x="303.6" y="559.3" font-size="7.1" font-family="Liberation Sans" font-weight="bold" text-anchor="end" fill="#1c1c1c" >(57.8)</text>
<line x1="320.4" y1="551.7" x2="377.1" y2="551.7" stroke="#b4b4b4" stroke-width="1.3"/>
<path d="M321.9,576.5 L321.9,576.2 L322.9,576.0 L323.9,575.7 L325.0,575.6 L326.0,575.2 L327.0,575.0 L327.9,574.7 L328.9,573.9 L329.9,573.7 L330.8,573.3 L332.1,571.3 L333.3,570.2 L334.6,567.8 L335.8,566.5 L337.1,565.3 L338.4,563.8 L339.4,563.0 L340.3,563.1 L341.2,563.6 L342.2,564.8 L343.1,565.7 L344.1,567.9 L345.1,569.3 L346.0,570.3 L347.2,571.3 L348.5,571.7 L349.8,572.8 L351.1,572.7 L352.1,572.9 L353.0,572.7 L353.9,571.9 L354.9,572.3 L355.8,572.5 L356.8,571.8 L357.8,572.2 L358.7,572.6 L359.6,571.8 L360.6,572.3 L361.6,571.4 L362.5,571.7 L363.8,570.4 L365.0,570.1 L365.9,570.8 L366.9,570.4 L368.2,571.1 L369.5,572.0 L370.6,572.1 L371.6,572.0 L372.7,572.4 L373.6,572.4 L374.6,573.2 L375.6,573.0 L376.5,572.9 L376.5,576.5 Z" fill="#0a0a0a" stroke="#0a0a0a" stroke-width="0.4" stroke-linejoin="round"/>
<path d="M320.6,573.3 L323.2,572.0 L325.7,568.8 L328.2,563.8 L330.8,558.1 L332.7,554.6 L333.9,555.5 L335.2,560.0 L336.4,565.0" fill="none" stroke="#222" stroke-width="1.15" stroke-linejoin="round"/>
<line x1="320.4" y1="551.2" x2="320.4" y2="577.0" stroke="#1e1e1e" stroke-width="1.15"/>
<line x1="319.9" y1="576.5" x2="377.40000000000003" y2="576.5" stroke="#1e1e1e" stroke-width="1.05"/>
<rect x="318.9" y="578.1" width="3.0" height="1.4" fill="#b8b8b8"/>
<rect x="333.1" y="578.1" width="3.0" height="1.4" fill="#b8b8b8"/>
<rect x="347.2" y="578.1" width="3.0" height="1.4" fill="#b8b8b8"/>
<rect x="361.4" y="578.1" width="3.0" height="1.4" fill="#b8b8b8"/>
<rect x="375.6" y="578.1" width="3.0" height="1.4" fill="#b8b8b8"/>
<rect x="316.6" y="575.7" width="1.7" height="1.6" fill="#a6a6a6"/>
<rect x="316.6" y="570.7" width="1.7" height="1.6" fill="#a6a6a6"/>
<rect x="316.6" y="565.8" width="1.7" height="1.6" fill="#a6a6a6"/>
<rect x="316.6" y="560.8" width="1.7" height="1.6" fill="#a6a6a6"/>
<rect x="316.6" y="555.9" width="1.7" height="1.6" fill="#a6a6a6"/>
<rect x="316.6" y="550.9" width="1.7" height="1.6" fill="#a6a6a6"/>
<rect x="344.2" y="580.1" width="10.2" height="1.3" fill="#cacaca"/>
<rect x="314.2" y="561.1" width="1.3" height="6.7" fill="#c4c4c4"/>
<text x="376.5" y="559.7" font-size="7.1" font-family="Liberation Sans" font-weight="bold" text-anchor="end" fill="#1c1c1c" class="h">(13.8)</text>
<text x="376.5" y="559.7" font-size="7.1" font-family="Liberation Sans" font-weight="bold" text-anchor="end" fill="#1c1c1c" >(13.8)</text>
<line x1="397" y1="552.1" x2="454.1" y2="552.1" stroke="#b4b4b4" stroke-width="1.3"/>
<path d="M401.4,576.5 L401.4,576.2 L402.4,576.0 L403.4,575.6 L404.5,575.6 L405.5,574.9 L406.5,574.9 L407.8,574.2 L409.0,573.2 L410.1,573.4 L411.1,572.9 L412.2,572.8 L413.3,573.2 L414.3,572.7 L415.4,573.7 L416.3,572.9 L417.3,572.3 L418.2,572.1 L419.2,571.2 L420.3,571.0 L421.3,569.7 L422.4,568.7 L423.4,568.2 L424.5,567.1 L425.5,566.0 L426.8,565.3 L428.1,563.4 L429.1,562.5 L430.0,560.4 L431.2,560.1 L432.2,561.7 L433.2,562.6 L434.1,564.8 L435.1,566.7 L436.4,568.4 L437.6,570.3 L438.9,571.7 L440.1,573.4 L441.2,573.9 L442.2,574.7 L443.3,575.6 L444.2,575.5 L445.2,575.7 L446.2,576.0 L447.1,576.2 L447.1,576.5 Z" fill="#0a0a0a" stroke="#0a0a0a" stroke-width="0.4" stroke-linejoin="round"/>
<path d="M397.9,573.3 L400.8,572.7 L403.3,569.5 L405.9,563.8 L407.8,558.1 L409.7,554.6 L410.9,556.8 L412.2,562.5 L413.5,568.8 L414.8,572.8" fill="none" stroke="#222" stroke-width="1.15" stroke-linejoin="round"/>
<line x1="397" y1="551.6" x2="397" y2="577.0" stroke="#1e1e1e" stroke-width="1.15"/>
<line x1="396.5" y1="576.5" x2="454.40000000000003" y2="576.5" stroke="#1e1e1e" stroke-width="1.05"/>
<rect x="395.5" y="578.1" width="3.0" height="1.4" fill="#b8b8b8"/>
<rect x="409.8" y="578.1" width="3.0" height="1.4" fill="#b8b8b8"/>
<rect x="424.1" y="578.1" width="3.0" height="1.4" fill="#b8b8b8"/>
<rect x="438.3" y="578.1" width="3.0" height="1.4" fill="#b8b8b8"/>
<rect x="452.6" y="578.1" width="3.0" height="1.4" fill="#b8b8b8"/>
<rect x="393.2" y="575.7" width="1.7" height="1.6" fill="#a6a6a6"/>
<rect x="393.2" y="570.8" width="1.7" height="1.6" fill="#a6a6a6"/>
<rect x="393.2" y="565.9" width="1.7" height="1.6" fill="#a6a6a6"/>
<rect x="393.2" y="561.1" width="1.7" height="1.6" fill="#a6a6a6"/>
<rect x="393.2" y="556.2" width="1.7" height="1.6" fill="#a6a6a6"/>
<rect x="393.2" y="551.3" width="1.7" height="1.6" fill="#a6a6a6"/>
<rect x="421.0" y="580.1" width="10.3" height="1.3" fill="#cacaca"/>
<rect x="390.8" y="561.4" width="1.3" height="6.6" fill="#c4c4c4"/>
<text x="453.5" y="560.1" font-size="7.1" font-family="Liberation Sans" font-weight="bold" text-anchor="end" fill="#1c1c1c" class="h">(18.1)</text>
<text x="453.5" y="560.1" font-size="7.1" font-family="Liberation Sans" font-weight="bold" text-anchor="end" fill="#1c1c1c" >(18.1)</text>
<line x1="101.7" y1="590.7" x2="158.8" y2="590.7" stroke="#b4b4b4" stroke-width="1.3"/>
<path d="M102.0,615.5 L102.0,615.2 L102.0,605.6 L102.6,605.6 L102.8,615.0 L103.7,614.9 L104.6,615.0 L105.6,614.9 L106.5,615.0 L107.4,615.0 L108.3,614.9 L109.2,615.0 L110.2,615.0 L111.1,614.9 L112.0,615.1 L112.9,614.9 L113.8,614.9 L114.8,614.8 L115.7,615.0 L116.6,615.0 L117.5,615.0 L118.4,614.9 L119.4,614.9 L120.3,614.8 L121.2,614.9 L122.1,614.9 L123.0,614.9 L124.0,614.9 L124.9,614.9 L125.8,615.0 L126.7,614.9 L127.6,614.8 L128.6,615.0 L129.5,614.7 L130.4,614.9 L131.3,614.8 L132.2,614.8 L133.2,614.7 L134.1,614.9 L135.0,614.7 L135.9,614.9 L136.8,615.0 L137.8,614.7 L138.7,614.7 L139.6,614.9 L140.5,614.8 L141.4,614.9 L142.4,614.9 L143.3,614.7 L144.2,614.7 L145.2,614.5 L146.2,614.1 L147.3,614.3 L148.3,614.1 L149.3,613.8 L150.2,612.7 L151.2,613.0 L152.2,612.4 L153.1,611.7 L154.4,610.0 L155.7,607.8 L157.2,600.0 L158.2,590.9 L158.8,590.7 L158.8,615.5 Z" fill="#0a0a0a" stroke="#0a0a0a" stroke-width="0.4" stroke-linejoin="round"/>
<path d="M102.3,614.4 L106.2,613.6 L109.3,610.4 L111.9,604.0 L114.4,596.4 L116.3,593.6 L117.8,594.1 L119.5,599.0 L121.4,606.6 L123.3,611.7 L125.8,613.9 L130.3,614.4 L134.0,614.8" fill="none" stroke="#222" stroke-width="1.15" stroke-linejoin="round"/>
<line x1="101.7" y1="590.2" x2="101.7" y2="616.0" stroke="#1e1e1e" stroke-width="1.15"/>
<line x1="101.2" y1="615.5" x2="159.10000000000002" y2="615.5" stroke="#1e1e1e" stroke-width="1.05"/>
<rect x="100.2" y="617.1" width="3.0" height="1.4" fill="#b8b8b8"/>
<rect x="114.5" y="617.1" width="3.0" height="1.4" fill="#b8b8b8"/>
<rect x="128.8" y="617.1" width="3.0" height="1.4" fill="#b8b8b8"/>
<rect x="143.0" y="617.1" width="3.0" height="1.4" fill="#b8b8b8"/>
<rect x="157.3" y="617.1" width="3.0" height="1.4" fill="#b8b8b8"/>
<rect x="97.9" y="614.7" width="1.7" height="1.6" fill="#a6a6a6"/>
<rect x="97.9" y="609.7" width="1.7" height="1.6" fill="#a6a6a6"/>
<rect x="97.9" y="604.8" width="1.7" height="1.6" fill="#a6a6a6"/>
<rect x="97.9" y="599.8" width="1.7" height="1.6" fill="#a6a6a6"/>
<rect x="97.9" y="594.9" width="1.7" height="1.6" fill="#a6a6a6"/>
<rect x="97.9" y="589.9" width="1.7" height="1.6" fill="#a6a6a6"/>
<rect x="125.7" y="619.1" width="10.3" height="1.3" fill="#cacaca"/>
<rect x="95.5" y="600.1" width="1.3" height="6.7" fill="#c4c4c4"/>
<text x="158.2" y="598.7" font-size="7.1" font-family="Liberation Sans" font-weight="bold" text-anchor="end" fill="#1c1c1c" class="h">(515.7)</text>
<text x="158.2" y="598.7" font-size="7.1" font-family="Liberation Sans" font-weight="bold" text-anchor="end" fill="#1c1c1c" >(515.7)</text>
<line x1="174.1" y1="590.7" x2="231.5" y2="590.7" stroke="#b4b4b4" stroke-width="1.3"/>
<path d="M201.0,615.2 L201.0,615.2 L201.9,614.8 L202.9,614.2 L203.9,613.9 L204.8,613.8 L206.1,612.2 L207.3,610.7 L208.6,608.3 L209.9,605.7 L210.9,604.4 L211.8,602.7 L212.8,602.4 L213.7,601.5 L215.0,603.2 L215.9,601.9 L216.9,600.6 L217.9,599.0 L218.8,598.6 L219.8,598.5 L220.7,599.4 L221.6,601.0 L222.6,603.0 L223.6,606.4 L224.5,609.3 L225.4,610.8 L226.4,613.2 L227.7,613.7 L228.9,614.8 L228.9,615.2 Z" fill="#0a0a0a" stroke="#0a0a0a" stroke-width="0.4" stroke-linejoin="round"/>
<path d="M175.6,614.8 L180.7,614.2 L184.5,611.7 L187.0,605.3 L188.3,599.0 L189.6,593.9 L190.8,593.9 L192.1,599.0 L193.4,605.9 L195.3,611.7 L198.5,614.2 L203.0,614.8" fill="none" stroke="#222" stroke-width="1.15" stroke-linejoin="round"/>
<line x1="174.1" y1="590.2" x2="174.1" y2="615.7" stroke="#1e1e1e" stroke-width="1.15"/>
<line x1="173.6" y1="615.2" x2="231.8" y2="615.2" stroke="#1e1e1e" stroke-width="1.05"/>
<rect x="172.6" y="616.8" width="3.0" height="1.4" fill="#b8b8b8"/>
<rect x="186.9" y="616.8" width="3.0" height="1.4" fill="#b8b8b8"/>
<rect x="201.3" y="616.8" width="3.0" height="1.4" fill="#b8b8b8"/>
<rect x="215.7" y="616.8" width="3.0" height="1.4" fill="#b8b8b8"/>
<rect x="230.0" y="616.8" width="3.0" height="1.4" fill="#b8b8b8"/>
<rect x="170.3" y="614.4" width="1.7" height="1.6" fill="#a6a6a6"/>
<rect x="170.3" y="609.5" width="1.7" height="1.6" fill="#a6a6a6"/>
<rect x="170.3" y="604.6" width="1.7" height="1.6" fill="#a6a6a6"/>
<rect x="170.3" y="599.7" width="1.7" height="1.6" fill="#a6a6a6"/>
<rect x="170.3" y="594.8" width="1.7" height="1.6" fill="#a6a6a6"/>
<rect x="170.3" y="589.9" width="1.7" height="1.6" fill="#a6a6a6"/>
<rect x="198.2" y="618.8" width="10.3" height="1.3" fill="#cacaca"/>
<rect x="167.9" y="600.0" width="1.3" height="6.6" fill="#c4c4c4"/>
<text x="230.9" y="598.7" font-size="7.1" font-family="Liberation Sans" font-weight="bold" text-anchor="end" fill="#1c1c1c" class="h">(54.1)</text>
<text x="230.9" y="598.7" font-size="7.1" font-family="Liberation Sans" font-weight="bold" text-anchor="end" fill="#1c1c1c" >(54.1)</text>
<line x1="246.1" y1="590.7" x2="303.5" y2="590.7" stroke="#b4b4b4" stroke-width="1.3"/>
<path d="M275.5,615.2 L275.5,614.8 L276.4,614.4 L277.4,614.4 L278.4,614.0 L279.3,613.7 L280.6,612.4 L281.9,611.4 L283.1,609.1 L284.4,607.5 L285.7,605.8 L287.0,604.3 L288.2,602.7 L289.5,601.7 L290.4,600.8 L291.4,599.8 L292.7,598.9 L293.9,601.6 L295.2,606.2 L296.5,612.1 L297.4,612.7 L298.4,614.2 L300.0,615.0 L300.0,615.2 Z" fill="#0a0a0a" stroke="#0a0a0a" stroke-width="0.4" stroke-linejoin="round"/>
<path d="M247.6,614.8 L252.7,614.2 L256.5,611.7 L259.0,605.3 L260.6,597.7 L261.8,592.6 L263.1,592.6 L264.4,597.7 L266.0,605.9 L267.9,611.0 L271.1,613.9 L276.0,614.6" fill="none" stroke="#222" stroke-width="1.15" stroke-linejoin="round"/>
<line x1="246.1" y1="590.2" x2="246.1" y2="615.7" stroke="#1e1e1e" stroke-width="1.15"/>
<line x1="245.6" y1="615.2" x2="303.8" y2="615.2" stroke="#1e1e1e" stroke-width="1.05"/>
<rect x="244.6" y="616.8" width="3.0" height="1.4" fill="#b8b8b8"/>
<rect x="258.9" y="616.8" width="3.0" height="1.4" fill="#b8b8b8"/>
<rect x="273.3" y="616.8" width="3.0" height="1.4" fill="#b8b8b8"/>
<rect x="287.6" y="616.8" width="3.0" height="1.4" fill="#b8b8b8"/>
<rect x="302.0" y="616.8" width="3.0" height="1.4" fill="#b8b8b8"/>
<rect x="242.3" y="614.4" width="1.7" height="1.6" fill="#a6a6a6"/>
<rect x="242.3" y="609.5" width="1.7" height="1.6" fill="#a6a6a6"/>
<rect x="242.3" y="604.6" width="1.7" height="1.6" fill="#a6a6a6"/>
<rect x="242.3" y="599.7" width="1.7" height="1.6" fill="#a6a6a6"/>
<rect x="242.3" y="594.8" width="1.7" height="1.6" fill="#a6a6a6"/>
<rect x="242.3" y="589.9" width="1.7" height="1.6" fill="#a6a6a6"/>
<rect x="270.2" y="618.8" width="10.3" height="1.3" fill="#cacaca"/>
<rect x="239.9" y="600.0" width="1.3" height="6.6" fill="#c4c4c4"/>
<text x="302.9" y="598.7" font-size="7.1" font-family="Liberation Sans" font-weight="bold" text-anchor="end" fill="#1c1c1c" class="h">(56.3)</text>
<text x="302.9" y="598.7" font-size="7.1" font-family="Liberation Sans" font-weight="bold" text-anchor="end" fill="#1c1c1c" >(56.3)</text>
<line x1="320.4" y1="591.1" x2="376.5" y2="591.1" stroke="#b4b4b4" stroke-width="1.3"/>
<path d="M325.7,615.5 L325.7,615.2 L326.7,614.8 L327.7,614.8 L328.8,614.3 L329.8,613.9 L330.8,613.6 L331.8,612.8 L332.7,612.6 L333.7,611.8 L334.6,611.2 L335.9,609.0 L337.1,606.2 L338.1,605.1 L339.0,603.3 L339.9,602.4 L340.9,601.2 L342.4,603.2 L344.1,606.2 L345.4,608.2 L346.6,609.5 L347.7,609.9 L348.7,609.6 L349.8,610.1 L350.8,610.1 L351.7,610.0 L352.7,610.7 L353.6,610.7 L354.6,610.7 L355.5,611.0 L356.4,611.0 L357.4,610.8 L358.3,610.4 L359.3,610.2 L360.2,610.6 L361.2,609.8 L362.1,609.7 L363.1,609.5 L364.1,608.9 L365.0,608.9 L365.9,609.1 L366.9,609.6 L367.9,609.4 L368.8,609.5 L369.8,610.2 L370.8,609.9 L371.7,610.3 L372.7,610.2 L373.9,609.2 L375.2,609.0 L376.5,602.8 L376.5,615.5 Z" fill="#0a0a0a" stroke="#0a0a0a" stroke-width="0.4" stroke-linejoin="round"/>
<path d="M321.2,614.8 L325.1,613.9 L328.2,611.0 L330.8,605.3 L332.7,597.7 L334.3,593.6 L335.8,593.9 L337.4,597.7 L339.0,603.0" fill="none" stroke="#222" stroke-width="1.15" stroke-linejoin="round"/>
<line x1="320.4" y1="590.6" x2="320.4" y2="616.0" stroke="#1e1e1e" stroke-width="1.15"/>
<line x1="319.9" y1="615.5" x2="376.8" y2="615.5" stroke="#1e1e1e" stroke-width="1.05"/>
<rect x="318.9" y="617.1" width="3.0" height="1.4" fill="#b8b8b8"/>
<rect x="332.9" y="617.1" width="3.0" height="1.4" fill="#b8b8b8"/>
<rect x="346.9" y="617.1" width="3.0" height="1.4" fill="#b8b8b8"/>
<rect x="361.0" y="617.1" width="3.0" height="1.4" fill="#b8b8b8"/>
<rect x="375.0" y="617.1" width="3.0" height="1.4" fill="#b8b8b8"/>
<rect x="316.6" y="614.7" width="1.7" height="1.6" fill="#a6a6a6"/>
<rect x="316.6" y="609.8" width="1.7" height="1.6" fill="#a6a6a6"/>
<rect x="316.6" y="604.9" width="1.7" height="1.6" fill="#a6a6a6"/>
<rect x="316.6" y="600.1" width="1.7" height="1.6" fill="#a6a6a6"/>
<rect x="316.6" y="595.2" width="1.7" height="1.6" fill="#a6a6a6"/>
<rect x="316.6" y="590.3" width="1.7" height="1.6" fill="#a6a6a6"/>
<rect x="344.0" y="619.1" width="10.1" height="1.3" fill="#cacaca"/>
<rect x="314.2" y="600.4" width="1.3" height="6.6" fill="#c4c4c4"/>
<text x="375.9" y="599.1" font-size="7.1" font-family="Liberation Sans" font-weight="bold" text-anchor="end" fill="#1c1c1c" class="h">(16.3)</text>
<text x="375.9" y="599.1" font-size="7.1" font-family="Liberation Sans" font-weight="bold" text-anchor="end" fill="#1c1c1c" >(16.3)</text>
<line x1="397" y1="591.1" x2="454.1" y2="591.1" stroke="#b4b4b4" stroke-width="1.3"/>
<path d="M406.5,615.5 L406.5,615.2 L407.5,615.0 L408.5,615.0 L409.6,614.7 L410.6,614.6 L411.6,614.4 L412.6,613.8 L413.5,614.0 L414.4,612.9 L415.4,613.2 L416.6,610.7 L417.9,608.7 L418.9,606.9 L419.8,605.5 L420.8,604.5 L421.7,602.4 L423.0,602.1 L424.3,601.5 L425.6,601.8 L426.8,601.2 L428.1,601.8 L429.3,602.0 L430.6,602.1 L431.9,601.3 L432.9,603.8 L433.8,605.1 L434.8,606.6 L435.7,608.7 L436.9,610.1 L438.2,611.3 L439.5,612.9 L440.8,613.6 L442.1,614.7 L443.3,615.2 L443.3,615.5 Z" fill="#0a0a0a" stroke="#0a0a0a" stroke-width="0.4" stroke-linejoin="round"/>
<path d="M397.9,614.8 L401.4,613.6 L404.6,611.0 L407.1,605.3 L409.0,597.7 L410.9,593.3 L412.6,593.6 L414.1,599.0 L415.4,605.3 L416.5,610.0" fill="none" stroke="#222" stroke-width="1.15" stroke-linejoin="round"/>
<line x1="397" y1="590.6" x2="397" y2="616.0" stroke="#1e1e1e" stroke-width="1.15"/>
<line x1="396.5" y1="615.5" x2="454.40000000000003" y2="615.5" stroke="#1e1e1e" stroke-width="1.05"/>
<rect x="395.5" y="617.1" width="3.0" height="1.4" fill="#b8b8b8"/>
<rect x="409.8" y="617.1" width="3.0" height="1.4" fill="#b8b8b8"/>
<rect x="424.1" y="617.1" width="3.0" height="1.4" fill="#b8b8b8"/>
<rect x="438.3" y="617.1" width="3.0" height="1.4" fill="#b8b8b8"/>
<rect x="452.6" y="617.1" width="3.0" height="1.4" fill="#b8b8b8"/>
<rect x="393.2" y="614.7" width="1.7" height="1.6" fill="#a6a6a6"/>
<rect x="393.2" y="609.8" width="1.7" height="1.6" fill="#a6a6a6"/>
<rect x="393.2" y="604.9" width="1.7" height="1.6" fill="#a6a6a6"/>
<rect x="393.2" y="600.1" width="1.7" height="1.6" fill="#a6a6a6"/>
<rect x="393.2" y="595.2" width="1.7" height="1.6" fill="#a6a6a6"/>
<rect x="393.2" y="590.3" width="1.7" height="1.6" fill="#a6a6a6"/>
<rect x="421.0" y="619.1" width="10.3" height="1.3" fill="#cacaca"/>
<rect x="390.8" y="600.4" width="1.3" height="6.6" fill="#c4c4c4"/>
<text x="453.5" y="599.1" font-size="7.1" font-family="Liberation Sans" font-weight="bold" text-anchor="end" fill="#1c1c1c" class="h">(10.6)</text>
<text x="453.5" y="599.1" font-size="7.1" font-family="Liberation Sans" font-weight="bold" text-anchor="end" fill="#1c1c1c" >(10.6)</text>
<line x1="101.3" y1="629.1" x2="158.8" y2="629.1" stroke="#b4b4b4" stroke-width="1.3"/>
<path d="M101.7,653.4 L101.7,652.6 L102.8,652.1 L103.8,651.6 L104.9,650.8 L106.0,649.7 L107.0,648.9 L108.1,648.0 L109.3,647.2 L110.6,645.2 L111.8,645.0 L113.1,643.3 L114.0,643.7 L115.0,644.1 L116.0,645.9 L117.0,646.8 L118.2,647.6 L119.5,649.0 L120.6,648.5 L121.6,648.7 L122.7,648.7 L123.7,649.1 L124.6,649.3 L125.5,649.4 L126.5,649.3 L127.5,649.5 L128.4,649.6 L129.4,650.5 L130.3,650.5 L131.2,650.7 L132.2,650.4 L133.2,650.7 L134.1,651.1 L135.1,651.1 L136.1,650.7 L137.2,651.1 L138.2,651.6 L139.2,651.1 L140.2,651.0 L141.2,651.1 L142.2,651.5 L143.2,651.6 L144.2,651.0 L145.2,650.9 L146.2,650.8 L147.3,650.8 L148.3,650.8 L149.3,650.4 L150.2,650.4 L151.2,650.1 L152.2,650.6 L153.1,650.2 L154.4,648.7 L155.7,648.5 L156.6,644.6 L157.6,641.7 L158.4,634.6 L158.8,630.0 L158.8,653.4 Z" fill="#0a0a0a" stroke="#0a0a0a" stroke-width="0.4" stroke-linejoin="round"/>
<path d="M101.7,650.0 L104.9,648.1 L108.1,643.0 L110.6,638.6 L113.1,636.1 L115.7,634.8 L117.6,636.1 L119.5,640.5 L121.4,645.6 L122.5,648.5" fill="none" stroke="#222" stroke-width="1.15" stroke-linejoin="round"/>
<line x1="101.3" y1="628.6" x2="101.3" y2="653.9" stroke="#1e1e1e" stroke-width="1.15"/>
<line x1="100.8" y1="653.4" x2="159.10000000000002" y2="653.4" stroke="#1e1e1e" stroke-width="1.05"/>
<rect x="99.8" y="655.0" width="3.0" height="1.4" fill="#b8b8b8"/>
<rect x="114.2" y="655.0" width="3.0" height="1.4" fill="#b8b8b8"/>
<rect x="128.6" y="655.0" width="3.0" height="1.4" fill="#b8b8b8"/>
<rect x="142.9" y="655.0" width="3.0" height="1.4" fill="#b8b8b8"/>
<rect x="157.3" y="655.0" width="3.0" height="1.4" fill="#b8b8b8"/>
<rect x="97.5" y="652.6" width="1.7" height="1.6" fill="#a6a6a6"/>
<rect x="97.5" y="647.7" width="1.7" height="1.6" fill="#a6a6a6"/>
<rect x="97.5" y="642.9" width="1.7" height="1.6" fill="#a6a6a6"/>
<rect x="97.5" y="638.0" width="1.7" height="1.6" fill="#a6a6a6"/>
<rect x="97.5" y="633.2" width="1.7" height="1.6" fill="#a6a6a6"/>
<rect x="97.5" y="628.3" width="1.7" height="1.6" fill="#a6a6a6"/>
<rect x="125.5" y="657.0" width="10.4" height="1.3" fill="#cacaca"/>
<rect x="95.1" y="638.3" width="1.3" height="6.6" fill="#c4c4c4"/>
<text x="158.2" y="637.1" font-size="7.1" font-family="Liberation Sans" font-weight="bold" text-anchor="end" fill="#1c1c1c" class="h">(18.5)</text>
<text x="158.2" y="637.1" font-size="7.1" font-family="Liberation Sans" font-weight="bold" text-anchor="end" fill="#1c1c1c" >(18.5)</text>
<line x1="173.3" y1="628.8" x2="231.5" y2="628.8" stroke="#b4b4b4" stroke-width="1.3"/>
<path d="M177.5,653.4 L177.5,653.2 L178.4,651.6 L179.4,649.6 L180.4,646.8 L181.3,644.0 L182.2,643.5 L183.2,642.0 L184.5,642.8 L185.8,643.6 L187.1,644.2 L188.3,645.5 L189.4,646.5 L190.4,647.0 L191.5,647.5 L192.6,648.2 L193.6,648.5 L194.7,648.8 L195.6,649.4 L196.6,649.5 L197.6,650.0 L198.5,650.4 L199.4,650.0 L200.4,650.3 L201.4,650.5 L202.3,650.3 L203.2,649.7 L204.2,649.7 L205.2,649.5 L206.1,648.9 L207.1,648.3 L208.0,647.8 L208.9,647.0 L209.9,646.3 L211.0,645.3 L212.0,644.4 L213.1,643.8 L214.1,642.7 L215.2,642.4 L216.2,642.1 L217.5,640.7 L218.8,639.3 L220.0,638.4 L221.3,641.7 L222.2,644.0 L223.2,646.3 L224.1,648.0 L225.1,650.2 L226.4,651.8 L227.7,652.9 L227.7,653.4 Z" fill="#0a0a0a" stroke="#0a0a0a" stroke-width="0.4" stroke-linejoin="round"/>
<path d="M175.6,652.6 L177.5,646.8 L179.4,640.5 L181.3,636.7 L183.0,636.1 L184.5,639.2 L185.8,639.9 L187.7,635.4 L189.6,631.0 L190.8,629.7 L192.1,634.2 L193.4,641.8 L194.7,646.8 L195.8,649.0" fill="none" stroke="#222" stroke-width="1.15" stroke-linejoin="round"/>
<line x1="173.3" y1="628.3" x2="173.3" y2="653.9" stroke="#1e1e1e" stroke-width="1.15"/>
<line x1="172.8" y1="653.4" x2="231.8" y2="653.4" stroke="#1e1e1e" stroke-width="1.05"/>
<rect x="171.8" y="655.0" width="3.0" height="1.4" fill="#b8b8b8"/>
<rect x="186.4" y="655.0" width="3.0" height="1.4" fill="#b8b8b8"/>
<rect x="200.9" y="655.0" width="3.0" height="1.4" fill="#b8b8b8"/>
<rect x="215.4" y="655.0" width="3.0" height="1.4" fill="#b8b8b8"/>
<rect x="230.0" y="655.0" width="3.0" height="1.4" fill="#b8b8b8"/>
<rect x="169.5" y="652.6" width="1.7" height="1.6" fill="#a6a6a6"/>
<rect x="169.5" y="647.7" width="1.7" height="1.6" fill="#a6a6a6"/>
<rect x="169.5" y="642.8" width="1.7" height="1.6" fill="#a6a6a6"/>
<rect x="169.5" y="637.8" width="1.7" height="1.6" fill="#a6a6a6"/>
<rect x="169.5" y="632.9" width="1.7" height="1.6" fill="#a6a6a6"/>
<rect x="169.5" y="628.0" width="1.7" height="1.6" fill="#a6a6a6"/>
<rect x="197.7" y="657.0" width="10.5" height="1.3" fill="#cacaca"/>
<rect x="167.1" y="638.1" width="1.3" height="6.6" fill="#c4c4c4"/>
<text x="230.9" y="636.8" font-size="7.1" font-family="Liberation Sans" font-weight="bold" text-anchor="end" fill="#1c1c1c" class="h">(13.1)</text>
<text x="230.9" y="636.8" font-size="7.1" font-family="Liberation Sans" font-weight="bold" text-anchor="end" fill="#1c1c1c" >(13.1)</text>
<line x1="245.7" y1="628.8" x2="303.5" y2="628.8" stroke="#b4b4b4" stroke-width="1.3"/>
<path d="M249.5,653.4 L249.5,653.2 L250.4,650.7 L251.4,648.8 L252.4,646.8 L253.3,644.2 L254.2,643.6 L255.2,643.4 L256.5,643.2 L257.8,644.3 L259.1,644.6 L260.3,645.9 L261.4,646.6 L262.4,646.9 L263.5,647.1 L264.6,647.6 L265.6,647.5 L266.7,647.7 L267.6,647.3 L268.6,647.2 L269.6,647.1 L270.5,646.6 L271.4,646.3 L272.4,646.5 L273.4,645.6 L274.3,645.8 L275.2,645.8 L276.2,646.3 L277.2,646.0 L278.1,647.0 L279.4,646.0 L280.6,645.2 L281.9,645.7 L283.2,646.1 L284.4,646.7 L285.7,648.0 L286.9,649.0 L288.2,650.2 L289.5,650.5 L290.8,651.1 L292.1,651.8 L293.3,652.7 L294.6,653.1 L295.8,653.4 L295.8,653.4 Z" fill="#0a0a0a" stroke="#0a0a0a" stroke-width="0.4" stroke-linejoin="round"/>
<path d="M247.6,652.6 L249.5,646.8 L251.4,640.5 L253.3,636.7 L255.2,636.1 L257.1,639.9 L259.0,638.0 L260.9,632.9 L262.6,629.7 L264.1,633.5 L265.4,640.5 L266.7,646.2 L267.8,647.4" fill="none" stroke="#222" stroke-width="1.15" stroke-linejoin="round"/>
<line x1="245.7" y1="628.3" x2="245.7" y2="653.9" stroke="#1e1e1e" stroke-width="1.15"/>
<line x1="245.2" y1="653.4" x2="303.8" y2="653.4" stroke="#1e1e1e" stroke-width="1.05"/>
<rect x="244.2" y="655.0" width="3.0" height="1.4" fill="#b8b8b8"/>
<rect x="258.6" y="655.0" width="3.0" height="1.4" fill="#b8b8b8"/>
<rect x="273.1" y="655.0" width="3.0" height="1.4" fill="#b8b8b8"/>
<rect x="287.6" y="655.0" width="3.0" height="1.4" fill="#b8b8b8"/>
<rect x="302.0" y="655.0" width="3.0" height="1.4" fill="#b8b8b8"/>
<rect x="241.9" y="652.6" width="1.7" height="1.6" fill="#a6a6a6"/>
<rect x="241.9" y="647.7" width="1.7" height="1.6" fill="#a6a6a6"/>
<rect x="241.9" y="642.8" width="1.7" height="1.6" fill="#a6a6a6"/>
<rect x="241.9" y="637.8" width="1.7" height="1.6" fill="#a6a6a6"/>
<rect x="241.9" y="632.9" width="1.7" height="1.6" fill="#a6a6a6"/>
<rect x="241.9" y="628.0" width="1.7" height="1.6" fill="#a6a6a6"/>
<rect x="270.0" y="657.0" width="10.4" height="1.3" fill="#cacaca"/>
<rect x="239.5" y="638.1" width="1.3" height="6.6" fill="#c4c4c4"/>
<text x="302.9" y="636.8" font-size="7.1" font-family="Liberation Sans" font-weight="bold" text-anchor="end" fill="#1c1c1c" class="h">(4.7)</text>
<text x="302.9" y="636.8" font-size="7.1" font-family="Liberation Sans" font-weight="bold" text-anchor="end" fill="#1c1c1c" >(4.7)</text>
<line x1="319.1" y1="628.8" x2="376.5" y2="628.8" stroke="#b4b4b4" stroke-width="1.3"/>
<path d="M319.6,653.4 L319.6,652.6 L320.6,652.0 L321.5,651.1 L322.5,651.0 L323.6,648.9 L324.6,647.0 L325.7,645.3 L326.9,643.9 L328.2,642.1 L329.5,641.3 L330.8,640.5 L331.8,640.4 L332.9,639.9 L333.9,640.3 L335.2,640.1 L336.5,640.6 L337.8,642.0 L339.0,643.3 L340.3,644.6 L341.6,646.0 L342.9,647.5 L344.1,648.4 L345.4,649.7 L346.6,649.9 L347.5,650.5 L348.4,650.1 L349.3,650.3 L350.2,650.3 L351.1,650.6 L352.2,650.5 L353.2,650.3 L354.2,651.0 L355.3,650.6 L356.3,650.6 L357.4,650.7 L358.3,650.9 L359.2,650.8 L360.1,650.9 L361.1,650.9 L362.0,650.6 L362.9,651.1 L363.8,651.0 L364.7,650.5 L365.6,651.3 L366.5,651.6 L367.4,651.6 L368.3,651.3 L369.2,652.0 L370.1,652.0 L371.1,651.8 L372.1,652.1 L373.2,652.7 L374.2,652.7 L375.2,652.9 L375.2,653.4 Z" fill="#0a0a0a" stroke="#0a0a0a" stroke-width="0.4" stroke-linejoin="round"/>
<path d="M319.6,649.4 L322.5,646.8 L325.7,641.8 L328.2,636.7 L330.8,633.5 L333.9,632.9 L335.8,634.2 L337.7,638.0 L339.4,643.0" fill="none" stroke="#222" stroke-width="1.15" stroke-linejoin="round"/>
<line x1="319.1" y1="628.3" x2="319.1" y2="653.9" stroke="#1e1e1e" stroke-width="1.15"/>
<line x1="318.6" y1="653.4" x2="376.8" y2="653.4" stroke="#1e1e1e" stroke-width="1.05"/>
<rect x="317.6" y="655.0" width="3.0" height="1.4" fill="#b8b8b8"/>
<rect x="332.0" y="655.0" width="3.0" height="1.4" fill="#b8b8b8"/>
<rect x="346.3" y="655.0" width="3.0" height="1.4" fill="#b8b8b8"/>
<rect x="360.6" y="655.0" width="3.0" height="1.4" fill="#b8b8b8"/>
<rect x="375.0" y="655.0" width="3.0" height="1.4" fill="#b8b8b8"/>
<rect x="315.3" y="652.6" width="1.7" height="1.6" fill="#a6a6a6"/>
<rect x="315.3" y="647.7" width="1.7" height="1.6" fill="#a6a6a6"/>
<rect x="315.3" y="642.8" width="1.7" height="1.6" fill="#a6a6a6"/>
<rect x="315.3" y="637.8" width="1.7" height="1.6" fill="#a6a6a6"/>
<rect x="315.3" y="632.9" width="1.7" height="1.6" fill="#a6a6a6"/>
<rect x="315.3" y="628.0" width="1.7" height="1.6" fill="#a6a6a6"/>
<rect x="343.2" y="657.0" width="10.3" height="1.3" fill="#cacaca"/>
<rect x="312.9" y="638.1" width="1.3" height="6.6" fill="#c4c4c4"/>
<text x="375.9" y="636.8" font-size="7.1" font-family="Liberation Sans" font-weight="bold" text-anchor="end" fill="#1c1c1c" class="h">(2.5)</text>
<text x="375.9" y="636.8" font-size="7.1" font-family="Liberation Sans" font-weight="bold" text-anchor="end" fill="#1c1c1c" >(2.5)</text>
<line x1="395.3" y1="628.8" x2="453.5" y2="628.8" stroke="#b4b4b4" stroke-width="1.3"/>
<path d="M396.1,653.4 L396.1,651.7 L397.0,651.1 L398.0,650.7 L398.9,650.4 L400.0,649.8 L401.0,649.6 L402.1,648.6 L403.4,646.8 L404.6,646.0 L405.9,645.1 L407.1,643.8 L408.1,644.9 L409.0,645.0 L409.9,646.5 L410.9,647.7 L412.0,647.9 L413.0,647.8 L414.1,647.8 L415.2,646.8 L416.2,646.8 L417.3,646.2 L418.4,646.3 L419.4,645.9 L420.5,646.1 L421.8,645.4 L423.0,644.7 L424.2,644.1 L425.5,643.4 L426.8,642.7 L428.1,641.4 L429.1,642.1 L430.0,642.1 L430.9,643.3 L431.9,644.3 L433.1,645.9 L434.4,647.8 L435.7,648.3 L437.0,650.3 L437.9,650.5 L438.9,651.2 L439.9,651.8 L440.8,652.4 L441.8,652.3 L442.8,652.6 L443.8,652.9 L444.8,652.9 L445.8,653.2 L445.8,653.4 Z" fill="#0a0a0a" stroke="#0a0a0a" stroke-width="0.4" stroke-linejoin="round"/>
<path d="M396.1,648.7 L398.9,646.8 L402.1,641.8 L404.6,637.3 L407.1,633.5 L409.7,632.6 L411.6,633.5 L413.5,638.0 L415.4,644.3 L416.6,647.0" fill="none" stroke="#222" stroke-width="1.15" stroke-linejoin="round"/>
<line x1="395.3" y1="628.3" x2="395.3" y2="653.9" stroke="#1e1e1e" stroke-width="1.15"/>
<line x1="394.8" y1="653.4" x2="453.8" y2="653.4" stroke="#1e1e1e" stroke-width="1.05"/>
<rect x="393.8" y="655.0" width="3.0" height="1.4" fill="#b8b8b8"/>
<rect x="408.4" y="655.0" width="3.0" height="1.4" fill="#b8b8b8"/>
<rect x="422.9" y="655.0" width="3.0" height="1.4" fill="#b8b8b8"/>
<rect x="437.4" y="655.0" width="3.0" height="1.4" fill="#b8b8b8"/>
<rect x="452.0" y="655.0" width="3.0" height="1.4" fill="#b8b8b8"/>
<rect x="391.5" y="652.6" width="1.7" height="1.6" fill="#a6a6a6"/>
<rect x="391.5" y="647.7" width="1.7" height="1.6" fill="#a6a6a6"/>
<rect x="391.5" y="642.8" width="1.7" height="1.6" fill="#a6a6a6"/>
<rect x="391.5" y="637.8" width="1.7" height="1.6" fill="#a6a6a6"/>
<rect x="391.5" y="632.9" width="1.7" height="1.6" fill="#a6a6a6"/>
<rect x="391.5" y="628.0" width="1.7" height="1.6" fill="#a6a6a6"/>
<rect x="419.7" y="657.0" width="10.5" height="1.3" fill="#cacaca"/>
<rect x="389.1" y="638.1" width="1.3" height="6.6" fill="#c4c4c4"/>
<text x="452.9" y="636.8" font-size="7.1" font-family="Liberation Sans" font-weight="bold" text-anchor="end" fill="#1c1c1c" class="h">(5.3)</text>
<text x="452.9" y="636.8" font-size="7.1" font-family="Liberation Sans" font-weight="bold" text-anchor="end" fill="#1c1c1c" >(5.3)</text>
<line x1="101.7" y1="666.8" x2="158.8" y2="666.8" stroke="#b4b4b4" stroke-width="1.3"/>
<path d="M102.1,691.4 L102.1,689.7 L103.0,689.5 L104.0,689.2 L104.9,688.3 L106.0,688.1 L107.0,687.5 L108.1,687.1 L109.3,685.7 L110.6,685.5 L111.8,684.5 L113.1,683.8 L114.0,684.1 L115.0,683.2 L116.3,684.4 L117.6,684.9 L118.6,684.9 L119.7,685.6 L120.7,685.4 L121.8,685.7 L122.8,685.9 L123.9,686.3 L124.9,685.9 L125.8,686.2 L126.8,686.3 L127.7,686.4 L128.7,686.6 L129.6,686.1 L130.6,686.5 L131.5,686.0 L132.4,686.4 L133.4,686.4 L134.4,686.9 L135.3,687.5 L136.3,687.6 L137.2,688.0 L138.2,687.9 L139.2,688.2 L140.1,688.3 L141.1,688.6 L142.1,688.7 L143.0,689.0 L143.9,688.1 L144.9,688.6 L145.9,688.5 L146.8,688.0 L147.8,687.6 L148.7,687.8 L149.7,687.6 L150.6,687.7 L151.6,687.9 L152.7,687.2 L153.7,686.8 L154.7,686.0 L155.7,685.2 L156.6,681.8 L157.6,678.6 L158.4,667.7 L158.4,691.4 Z" fill="#0a0a0a" stroke="#0a0a0a" stroke-width="0.4" stroke-linejoin="round"/>
<path d="M102.3,685.5 L104.9,684.8 L107.4,678.5 L110.0,672.8 L111.9,670.9 L113.8,672.8 L116.3,674.1 L118.8,674.1 L120.7,677.2 L122.7,681.7 L123.9,686.0" fill="none" stroke="#222" stroke-width="1.15" stroke-linejoin="round"/>
<line x1="101.7" y1="666.3" x2="101.7" y2="691.9" stroke="#1e1e1e" stroke-width="1.15"/>
<line x1="101.2" y1="691.4" x2="159.10000000000002" y2="691.4" stroke="#1e1e1e" stroke-width="1.05"/>
<rect x="100.2" y="693.0" width="3.0" height="1.4" fill="#b8b8b8"/>
<rect x="114.5" y="693.0" width="3.0" height="1.4" fill="#b8b8b8"/>
<rect x="128.8" y="693.0" width="3.0" height="1.4" fill="#b8b8b8"/>
<rect x="143.0" y="693.0" width="3.0" height="1.4" fill="#b8b8b8"/>
<rect x="157.3" y="693.0" width="3.0" height="1.4" fill="#b8b8b8"/>
<rect x="97.9" y="690.6" width="1.7" height="1.6" fill="#a6a6a6"/>
<rect x="97.9" y="685.7" width="1.7" height="1.6" fill="#a6a6a6"/>
<rect x="97.9" y="680.8" width="1.7" height="1.6" fill="#a6a6a6"/>
<rect x="97.9" y="675.8" width="1.7" height="1.6" fill="#a6a6a6"/>
<rect x="97.9" y="670.9" width="1.7" height="1.6" fill="#a6a6a6"/>
<rect x="97.9" y="666.0" width="1.7" height="1.6" fill="#a6a6a6"/>
<rect x="125.7" y="695.0" width="10.3" height="1.3" fill="#cacaca"/>
<rect x="95.5" y="676.1" width="1.3" height="6.6" fill="#c4c4c4"/>
<text x="158.2" y="674.8" font-size="7.1" font-family="Liberation Sans" font-weight="bold" text-anchor="end" fill="#1c1c1c" class="h">(36.0)</text>
<text x="158.2" y="674.8" font-size="7.1" font-family="Liberation Sans" font-weight="bold" text-anchor="end" fill="#1c1c1c" >(36.0)</text>
<line x1="173.3" y1="666.8" x2="231.5" y2="666.8" stroke="#b4b4b4" stroke-width="1.3"/>
<path d="M175.6,691.4 L175.6,690.9 L176.9,690.2 L178.2,689.5 L179.1,688.1 L180.1,686.9 L181.1,685.2 L182.0,684.4 L182.9,682.6 L183.9,681.2 L184.9,680.0 L185.8,679.5 L187.1,680.3 L188.3,681.9 L189.6,683.3 L190.8,684.3 L191.8,684.4 L192.8,685.1 L193.7,685.4 L194.7,685.6 L195.6,685.4 L196.6,685.6 L197.6,685.9 L198.5,685.9 L199.4,686.2 L200.4,686.5 L201.4,686.9 L202.3,686.3 L203.2,686.5 L204.2,685.7 L205.2,685.5 L206.1,685.8 L207.1,685.1 L208.0,684.9 L208.9,684.0 L209.9,683.2 L210.8,683.2 L211.8,683.0 L212.8,683.0 L213.7,682.7 L214.8,681.4 L215.8,680.6 L216.9,679.4 L218.2,678.0 L219.4,675.7 L220.4,675.0 L221.3,674.3 L222.2,676.2 L223.2,678.7 L224.1,681.7 L225.1,685.9 L226.4,687.0 L227.7,689.6 L228.9,689.9 L230.2,690.9 L230.2,691.4 Z" fill="#0a0a0a" stroke="#0a0a0a" stroke-width="0.4" stroke-linejoin="round"/>
<path d="M175.0,690.6 L176.9,683.6 L178.8,677.2 L180.7,674.4 L182.2,675.3 L183.9,681.0 L185.8,684.2 L187.7,678.5 L188.9,672.2 L190.8,669.0 L192.7,667.7 L195.3,669.0 L197.2,672.8 L199.1,679.8 L200.6,685.5" fill="none" stroke="#222" stroke-width="1.15" stroke-linejoin="round"/>
<line x1="173.3" y1="666.3" x2="173.3" y2="691.9" stroke="#1e1e1e" stroke-width="1.15"/>
<line x1="172.8" y1="691.4" x2="231.8" y2="691.4" stroke="#1e1e1e" stroke-width="1.05"/>
<rect x="171.8" y="693.0" width="3.0" height="1.4" fill="#b8b8b8"/>
<rect x="186.4" y="693.0" width="3.0" height="1.4" fill="#b8b8b8"/>
<rect x="200.9" y="693.0" width="3.0" height="1.4" fill="#b8b8b8"/>
<rect x="215.4" y="693.0" width="3.0" height="1.4" fill="#b8b8b8"/>
<rect x="230.0" y="693.0" width="3.0" height="1.4" fill="#b8b8b8"/>
<rect x="169.5" y="690.6" width="1.7" height="1.6" fill="#a6a6a6"/>
<rect x="169.5" y="685.7" width="1.7" height="1.6" fill="#a6a6a6"/>
<rect x="169.5" y="680.8" width="1.7" height="1.6" fill="#a6a6a6"/>
<rect x="169.5" y="675.8" width="1.7" height="1.6" fill="#a6a6a6"/>
<rect x="169.5" y="670.9" width="1.7" height="1.6" fill="#a6a6a6"/>
<rect x="169.5" y="666.0" width="1.7" height="1.6" fill="#a6a6a6"/>
<rect x="197.7" y="695.0" width="10.5" height="1.3" fill="#cacaca"/>
<rect x="167.1" y="676.1" width="1.3" height="6.6" fill="#c4c4c4"/>
<text x="230.9" y="674.8" font-size="7.1" font-family="Liberation Sans" font-weight="bold" text-anchor="end" fill="#1c1c1c" class="h">(10.9)</text>
<text x="230.9" y="674.8" font-size="7.1" font-family="Liberation Sans" font-weight="bold" text-anchor="end" fill="#1c1c1c" >(10.9)</text>
<line x1="245.3" y1="666.8" x2="303.5" y2="666.8" stroke="#b4b4b4" stroke-width="1.3"/>
<path d="M247.6,691.4 L247.6,690.9 L248.9,689.5 L250.2,688.9 L251.4,686.9 L252.7,685.7 L253.9,684.3 L255.2,683.2 L256.5,683.2 L257.8,682.5 L259.1,683.3 L260.3,683.8 L261.4,684.1 L262.4,685.4 L263.5,686.3 L264.6,686.5 L265.6,687.4 L266.7,687.2 L267.6,687.5 L268.6,686.9 L269.6,686.0 L270.5,685.7 L271.4,685.8 L272.4,685.4 L273.4,684.3 L274.3,684.0 L275.3,683.3 L276.4,681.8 L277.4,681.3 L278.7,679.1 L280.0,676.8 L281.2,675.5 L282.5,674.2 L283.8,672.1 L284.8,673.9 L285.7,675.0 L286.6,675.9 L287.6,675.9 L288.6,678.0 L289.5,679.9 L290.8,682.2 L292.0,684.7 L293.3,687.0 L294.6,689.1 L295.6,689.6 L296.7,690.0 L297.7,690.5 L298.8,690.7 L299.8,691.1 L300.9,691.2 L300.9,691.4 Z" fill="#0a0a0a" stroke="#0a0a0a" stroke-width="0.4" stroke-linejoin="round"/>
<path d="M247.0,690.6 L249.5,682.3 L251.4,676.6 L253.3,674.1 L255.0,676.0 L256.5,681.0 L258.4,682.3 L260.3,677.2 L262.2,670.9 L264.7,667.3 L267.3,668.3 L269.2,672.2 L271.1,678.5 L272.6,685.0" fill="none" stroke="#222" stroke-width="1.15" stroke-linejoin="round"/>
<line x1="245.3" y1="666.3" x2="245.3" y2="691.9" stroke="#1e1e1e" stroke-width="1.15"/>
<line x1="244.8" y1="691.4" x2="303.8" y2="691.4" stroke="#1e1e1e" stroke-width="1.05"/>
<rect x="243.8" y="693.0" width="3.0" height="1.4" fill="#b8b8b8"/>
<rect x="258.4" y="693.0" width="3.0" height="1.4" fill="#b8b8b8"/>
<rect x="272.9" y="693.0" width="3.0" height="1.4" fill="#b8b8b8"/>
<rect x="287.4" y="693.0" width="3.0" height="1.4" fill="#b8b8b8"/>
<rect x="302.0" y="693.0" width="3.0" height="1.4" fill="#b8b8b8"/>
<rect x="241.5" y="690.6" width="1.7" height="1.6" fill="#a6a6a6"/>
<rect x="241.5" y="685.7" width="1.7" height="1.6" fill="#a6a6a6"/>
<rect x="241.5" y="680.8" width="1.7" height="1.6" fill="#a6a6a6"/>
<rect x="241.5" y="675.8" width="1.7" height="1.6" fill="#a6a6a6"/>
<rect x="241.5" y="670.9" width="1.7" height="1.6" fill="#a6a6a6"/>
<rect x="241.5" y="666.0" width="1.7" height="1.6" fill="#a6a6a6"/>
<rect x="269.7" y="695.0" width="10.5" height="1.3" fill="#cacaca"/>
<rect x="239.1" y="676.1" width="1.3" height="6.6" fill="#c4c4c4"/>
<text x="302.9" y="674.8" font-size="7.1" font-family="Liberation Sans" font-weight="bold" text-anchor="end" fill="#1c1c1c" class="h">(9.2)</text>
<text x="302.9" y="674.8" font-size="7.1" font-family="Liberation Sans" font-weight="bold" text-anchor="end" fill="#1c1c1c" >(9.2)</text>
<line x1="319.1" y1="666.8" x2="376.5" y2="666.8" stroke="#b4b4b4" stroke-width="1.3"/>
<path d="M319.6,691.4 L319.6,689.3 L320.6,689.0 L321.5,688.7 L322.5,687.8 L323.8,686.8 L325.1,685.9 L326.4,684.2 L327.6,682.4 L328.9,680.5 L330.1,679.0 L331.1,679.1 L332.0,678.4 L333.3,679.3 L334.6,679.9 L335.9,680.5 L337.1,680.7 L338.4,679.9 L339.7,679.4 L340.9,680.5 L342.2,681.6 L343.4,683.0 L344.7,684.5 L345.8,685.2 L346.8,685.1 L347.9,686.4 L349.0,686.3 L350.0,686.3 L351.1,686.0 L352.1,685.8 L353.0,686.5 L353.9,686.6 L354.9,686.6 L355.8,686.7 L356.8,686.1 L357.8,685.8 L358.7,686.1 L359.6,686.2 L360.6,685.5 L361.6,685.9 L362.5,685.9 L363.8,685.3 L365.0,685.6 L365.9,686.0 L366.9,686.1 L367.9,686.1 L368.8,686.5 L369.8,687.3 L370.8,687.6 L371.7,687.6 L372.7,687.6 L373.7,688.5 L374.8,688.7 L375.8,688.7 L375.8,691.4 Z" fill="#0a0a0a" stroke="#0a0a0a" stroke-width="0.4" stroke-linejoin="round"/>
<path d="M319.6,684.8 L321.9,684.2 L324.4,678.5 L326.3,673.4 L328.2,668.3 L330.1,667.7 L332.0,670.9 L333.9,670.9 L336.5,672.2 L338.4,676.0 L339.7,679.8" fill="none" stroke="#222" stroke-width="1.15" stroke-linejoin="round"/>
<line x1="319.1" y1="666.3" x2="319.1" y2="691.9" stroke="#1e1e1e" stroke-width="1.15"/>
<line x1="318.6" y1="691.4" x2="376.8" y2="691.4" stroke="#1e1e1e" stroke-width="1.05"/>
<rect x="317.6" y="693.0" width="3.0" height="1.4" fill="#b8b8b8"/>
<rect x="332.0" y="693.0" width="3.0" height="1.4" fill="#b8b8b8"/>
<rect x="346.3" y="693.0" width="3.0" height="1.4" fill="#b8b8b8"/>
<rect x="360.6" y="693.0" width="3.0" height="1.4" fill="#b8b8b8"/>
<rect x="375.0" y="693.0" width="3.0" height="1.4" fill="#b8b8b8"/>
<rect x="315.3" y="690.6" width="1.7" height="1.6" fill="#a6a6a6"/>
<rect x="315.3" y="685.7" width="1.7" height="1.6" fill="#a6a6a6"/>
<rect x="315.3" y="680.8" width="1.7" height="1.6" fill="#a6a6a6"/>
<rect x="315.3" y="675.8" width="1.7" height="1.6" fill="#a6a6a6"/>
<rect x="315.3" y="670.9" width="1.7" height="1.6" fill="#a6a6a6"/>
<rect x="315.3" y="666.0" width="1.7" height="1.6" fill="#a6a6a6"/>
<rect x="343.2" y="695.0" width="10.3" height="1.3" fill="#cacaca"/>
<rect x="312.9" y="676.1" width="1.3" height="6.6" fill="#c4c4c4"/>
<text x="375.9" y="674.8" font-size="7.1" font-family="Liberation Sans" font-weight="bold" text-anchor="end" fill="#1c1c1c" class="h">(7.5)</text>
<text x="375.9" y="674.8" font-size="7.1" font-family="Liberation Sans" font-weight="bold" text-anchor="end" fill="#1c1c1c" >(7.5)</text>
<line x1="395.3" y1="666.8" x2="453.5" y2="666.8" stroke="#b4b4b4" stroke-width="1.3"/>
<path d="M396.1,691.4 L396.1,689.9 L397.0,689.0 L398.0,688.7 L398.9,688.4 L400.0,687.5 L401.0,686.4 L402.1,685.5 L403.4,684.3 L404.6,682.7 L405.9,682.1 L407.1,681.4 L408.4,682.5 L409.7,682.9 L410.7,683.7 L411.8,684.1 L412.8,684.8 L414.1,684.8 L415.4,685.1 L416.6,685.1 L417.9,683.7 L419.2,682.8 L420.5,682.7 L421.8,683.4 L423.0,683.3 L424.2,683.0 L425.5,682.2 L426.8,681.4 L428.1,680.0 L429.1,679.7 L430.0,680.2 L430.9,681.1 L431.9,681.7 L433.1,683.3 L434.4,684.6 L435.7,686.0 L437.0,686.6 L438.0,688.0 L439.1,688.7 L440.1,689.6 L441.2,690.2 L442.2,690.3 L443.3,690.8 L444.2,690.9 L445.2,691.0 L446.1,691.1 L447.1,691.2 L448.0,691.3 L448.0,691.4 Z" fill="#0a0a0a" stroke="#0a0a0a" stroke-width="0.4" stroke-linejoin="round"/>
<path d="M396.1,688.0 L398.9,686.7 L402.1,682.3 L404.6,676.0 L407.1,670.2 L408.8,667.3 L410.3,671.5 L411.8,678.5 L413.2,684.6" fill="none" stroke="#222" stroke-width="1.15" stroke-linejoin="round"/>
<line x1="395.3" y1="666.3" x2="395.3" y2="691.9" stroke="#1e1e1e" stroke-width="1.15"/>
<line x1="394.8" y1="691.4" x2="453.8" y2="691.4" stroke="#1e1e1e" stroke-width="1.05"/>
<rect x="393.8" y="693.0" width="3.0" height="1.4" fill="#b8b8b8"/>
<rect x="408.4" y="693.0" width="3.0" height="1.4" fill="#b8b8b8"/>
<rect x="422.9" y="693.0" width="3.0" height="1.4" fill="#b8b8b8"/>
<rect x="437.4" y="693.0" width="3.0" height="1.4" fill="#b8b8b8"/>
<rect x="452.0" y="693.0" width="3.0" height="1.4" fill="#b8b8b8"/>
<rect x="391.5" y="690.6" width="1.7" height="1.6" fill="#a6a6a6"/>
<rect x="391.5" y="685.7" width="1.7" height="1.6" fill="#a6a6a6"/>
<rect x="391.5" y="680.8" width="1.7" height="1.6" fill="#a6a6a6"/>
<rect x="391.5" y="675.8" width="1.7" height="1.6" fill="#a6a6a6"/>
<rect x="391.5" y="670.9" width="1.7" height="1.6" fill="#a6a6a6"/>
<rect x="391.5" y="666.0" width="1.7" height="1.6" fill="#a6a6a6"/>
<rect x="419.7" y="695.0" width="10.5" height="1.3" fill="#cacaca"/>
<rect x="389.1" y="676.1" width="1.3" height="6.6" fill="#c4c4c4"/>
<text x="452.9" y="674.8" font-size="7.1" font-family="Liberation Sans" font-weight="bold" text-anchor="end" fill="#1c1c1c" class="h">(5.8)</text>
<text x="452.9" y="674.8" font-size="7.1" font-family="Liberation Sans" font-weight="bold" text-anchor="end" fill="#1c1c1c" >(5.8)</text>
<line x1="99.7" y1="702.3" x2="156.2" y2="702.3" stroke="#b4b4b4" stroke-width="1.3"/>
<path d="M100.3,726.8 L100.3,724.3 L101.4,723.9 L102.4,723.8 L103.5,723.0 L104.6,721.9 L105.6,720.4 L106.7,718.2 L108.0,716.1 L109.2,713.4 L110.2,711.3 L111.1,710.1 L112.0,709.8 L113.0,710.4 L114.0,712.7 L114.9,715.2 L115.8,716.5 L116.8,717.8 L117.8,718.0 L118.8,717.9 L119.7,718.8 L120.7,719.0 L121.7,718.5 L122.6,718.5 L123.5,718.8 L124.5,719.1 L125.5,720.2 L126.6,720.8 L127.6,721.4 L128.6,721.0 L129.5,722.0 L130.4,722.3 L131.4,722.5 L132.3,723.1 L133.2,722.5 L134.1,722.8 L135.0,723.6 L135.9,724.0 L136.9,723.9 L137.9,723.7 L139.0,724.1 L140.0,724.4 L141.0,723.9 L142.0,724.1 L143.0,724.1 L144.1,724.0 L145.1,724.3 L146.1,724.0 L147.1,724.0 L148.1,723.8 L149.2,724.2 L150.2,723.5 L151.2,724.1 L152.3,723.5 L153.3,723.1 L154.4,723.8 L155.6,717.0 L156.2,704.6 L156.2,726.8 Z" fill="#0a0a0a" stroke="#0a0a0a" stroke-width="0.4" stroke-linejoin="round"/>
<path d="M100.3,721.1 L103.5,718.6 L106.1,713.5 L108.6,709.1 L111.1,707.2 L113.7,707.8 L115.6,706.5 L118.1,707.8 L120.0,708.4 L121.3,712.2 L123.2,716.7 L124.6,719.0" fill="none" stroke="#222" stroke-width="1.15" stroke-linejoin="round"/>
<line x1="99.7" y1="701.8" x2="99.7" y2="727.3" stroke="#1e1e1e" stroke-width="1.15"/>
<line x1="99.2" y1="726.8" x2="156.5" y2="726.8" stroke="#1e1e1e" stroke-width="1.05"/>
<rect x="98.2" y="728.4" width="3.0" height="1.4" fill="#b8b8b8"/>
<rect x="112.3" y="728.4" width="3.0" height="1.4" fill="#b8b8b8"/>
<rect x="126.4" y="728.4" width="3.0" height="1.4" fill="#b8b8b8"/>
<rect x="140.6" y="728.4" width="3.0" height="1.4" fill="#b8b8b8"/>
<rect x="154.7" y="728.4" width="3.0" height="1.4" fill="#b8b8b8"/>
<rect x="95.9" y="726.0" width="1.7" height="1.6" fill="#a6a6a6"/>
<rect x="95.9" y="721.1" width="1.7" height="1.6" fill="#a6a6a6"/>
<rect x="95.9" y="716.2" width="1.7" height="1.6" fill="#a6a6a6"/>
<rect x="95.9" y="711.3" width="1.7" height="1.6" fill="#a6a6a6"/>
<rect x="95.9" y="706.4" width="1.7" height="1.6" fill="#a6a6a6"/>
<rect x="95.9" y="701.5" width="1.7" height="1.6" fill="#a6a6a6"/>
<rect x="123.4" y="730.4" width="10.2" height="1.3" fill="#cacaca"/>
<rect x="93.5" y="711.6" width="1.3" height="6.6" fill="#c4c4c4"/>
<text x="155.6" y="710.3" font-size="7.1" font-family="Liberation Sans" font-weight="bold" text-anchor="end" fill="#1c1c1c" class="h">(7.4)</text>
<text x="155.6" y="710.3" font-size="7.1" font-family="Liberation Sans" font-weight="bold" text-anchor="end" fill="#1c1c1c" >(7.4)</text>
<line x1="171.7" y1="702.3" x2="228.8" y2="702.3" stroke="#b4b4b4" stroke-width="1.3"/>
<path d="M175.5,727.2 L175.5,726.8 L176.4,724.7 L177.4,722.1 L178.4,718.6 L179.3,714.5 L180.2,713.2 L181.2,711.2 L182.1,713.6 L183.1,715.1 L184.4,716.8 L185.7,718.6 L186.7,719.5 L187.8,721.0 L188.8,721.8 L189.8,722.4 L190.8,722.4 L191.7,723.0 L192.7,723.3 L193.6,723.9 L194.6,723.8 L195.6,723.5 L196.5,724.2 L197.4,723.6 L198.4,723.7 L199.4,723.4 L200.3,723.5 L201.2,723.7 L202.2,722.9 L203.2,722.4 L204.1,722.4 L205.1,721.8 L206.0,721.8 L206.9,720.6 L207.9,720.9 L208.8,720.0 L209.8,720.6 L210.8,720.2 L211.7,719.6 L212.6,719.6 L213.6,719.2 L214.6,718.9 L215.5,718.5 L216.8,719.5 L218.1,720.9 L219.3,722.5 L220.6,724.1 L221.9,724.5 L223.2,725.9 L224.3,726.6 L225.5,727.0 L225.5,727.2 Z" fill="#0a0a0a" stroke="#0a0a0a" stroke-width="0.4" stroke-linejoin="round"/>
<path d="M174.3,726.2 L176.2,718.6 L178.1,709.7 L179.3,704.6 L180.6,705.9 L181.9,709.7 L183.1,714.8 L185.0,716.7 L187.0,712.2 L188.8,707.8 L190.7,707.2 L192.7,709.7 L194.6,716.0 L196.5,721.1 L197.8,723.8" fill="none" stroke="#222" stroke-width="1.15" stroke-linejoin="round"/>
<line x1="171.7" y1="701.8" x2="171.7" y2="727.7" stroke="#1e1e1e" stroke-width="1.15"/>
<line x1="171.2" y1="727.2" x2="229.10000000000002" y2="727.2" stroke="#1e1e1e" stroke-width="1.05"/>
<rect x="170.2" y="728.8" width="3.0" height="1.4" fill="#b8b8b8"/>
<rect x="184.5" y="728.8" width="3.0" height="1.4" fill="#b8b8b8"/>
<rect x="198.8" y="728.8" width="3.0" height="1.4" fill="#b8b8b8"/>
<rect x="213.0" y="728.8" width="3.0" height="1.4" fill="#b8b8b8"/>
<rect x="227.3" y="728.8" width="3.0" height="1.4" fill="#b8b8b8"/>
<rect x="167.9" y="726.4" width="1.7" height="1.6" fill="#a6a6a6"/>
<rect x="167.9" y="721.4" width="1.7" height="1.6" fill="#a6a6a6"/>
<rect x="167.9" y="716.4" width="1.7" height="1.6" fill="#a6a6a6"/>
<rect x="167.9" y="711.5" width="1.7" height="1.6" fill="#a6a6a6"/>
<rect x="167.9" y="706.5" width="1.7" height="1.6" fill="#a6a6a6"/>
<rect x="167.9" y="701.5" width="1.7" height="1.6" fill="#a6a6a6"/>
<rect x="195.7" y="730.8" width="10.3" height="1.3" fill="#cacaca"/>
<rect x="165.5" y="711.8" width="1.3" height="6.7" fill="#c4c4c4"/>
<text x="228.2" y="710.3" font-size="7.1" font-family="Liberation Sans" font-weight="bold" text-anchor="end" fill="#1c1c1c" class="h">(5.3)</text>
<text x="228.2" y="710.3" font-size="7.1" font-family="Liberation Sans" font-weight="bold" text-anchor="end" fill="#1c1c1c" >(5.3)</text>
<line x1="242.4" y1="702.1" x2="299.9" y2="702.1" stroke="#b4b4b4" stroke-width="1.3"/>
<path d="M245.0,727.2 L245.0,726.8 L246.2,723.6 L247.5,721.3 L248.4,718.4 L249.4,716.4 L250.4,713.7 L251.3,712.5 L252.2,711.8 L253.2,711.3 L254.5,712.8 L255.8,715.1 L257.1,716.7 L258.3,718.3 L259.4,719.4 L260.4,720.6 L261.5,720.8 L262.6,721.6 L263.6,721.6 L264.7,722.1 L265.6,722.3 L266.6,721.9 L267.6,721.2 L268.5,720.7 L269.4,720.9 L270.4,721.5 L271.4,721.6 L272.3,721.6 L273.2,721.4 L274.2,721.6 L275.2,721.5 L276.1,721.4 L277.4,719.9 L278.6,718.3 L279.9,718.5 L281.2,719.4 L282.4,719.5 L283.7,720.1 L284.9,720.1 L286.2,721.4 L287.5,722.3 L288.8,724.0 L290.1,725.2 L291.3,726.0 L292.6,726.3 L294.0,727.0 L294.0,727.2 Z" fill="#0a0a0a" stroke="#0a0a0a" stroke-width="0.4" stroke-linejoin="round"/>
<path d="M245.0,725.6 L246.9,717.3 L248.2,709.7 L249.7,702.7 L251.0,703.3 L252.2,708.4 L253.9,712.2 L255.8,713.5 L257.7,709.1 L259.6,705.3 L261.1,705.3 L262.7,708.4 L264.7,714.8 L266.6,721.5" fill="none" stroke="#222" stroke-width="1.15" stroke-linejoin="round"/>
<line x1="242.4" y1="701.6" x2="242.4" y2="727.7" stroke="#1e1e1e" stroke-width="1.15"/>
<line x1="241.9" y1="727.2" x2="300.2" y2="727.2" stroke="#1e1e1e" stroke-width="1.05"/>
<rect x="240.9" y="728.8" width="3.0" height="1.4" fill="#b8b8b8"/>
<rect x="255.3" y="728.8" width="3.0" height="1.4" fill="#b8b8b8"/>
<rect x="269.6" y="728.8" width="3.0" height="1.4" fill="#b8b8b8"/>
<rect x="284.0" y="728.8" width="3.0" height="1.4" fill="#b8b8b8"/>
<rect x="298.4" y="728.8" width="3.0" height="1.4" fill="#b8b8b8"/>
<rect x="238.6" y="726.4" width="1.7" height="1.6" fill="#a6a6a6"/>
<rect x="238.6" y="721.4" width="1.7" height="1.6" fill="#a6a6a6"/>
<rect x="238.6" y="716.4" width="1.7" height="1.6" fill="#a6a6a6"/>
<rect x="238.6" y="711.3" width="1.7" height="1.6" fill="#a6a6a6"/>
<rect x="238.6" y="706.3" width="1.7" height="1.6" fill="#a6a6a6"/>
<rect x="238.6" y="701.3" width="1.7" height="1.6" fill="#a6a6a6"/>
<rect x="266.6" y="730.8" width="10.3" height="1.3" fill="#cacaca"/>
<rect x="236.2" y="711.6" width="1.3" height="6.8" fill="#c4c4c4"/>
<text x="299.3" y="710.1" font-size="7.1" font-family="Liberation Sans" font-weight="bold" text-anchor="end" fill="#1c1c1c" class="h">(3.8)</text>
<text x="299.3" y="710.1" font-size="7.1" font-family="Liberation Sans" font-weight="bold" text-anchor="end" fill="#1c1c1c" >(3.8)</text>
<line x1="318.9" y1="702.3" x2="375.1" y2="702.3" stroke="#b4b4b4" stroke-width="1.3"/>
<path d="M319.9,727.2 L319.9,725.6 L321.1,724.4 L322.4,722.4 L323.7,720.5 L325.0,717.7 L326.2,715.1 L327.5,713.2 L328.4,711.2 L329.4,709.4 L330.4,710.2 L331.3,711.1 L332.2,711.8 L333.2,713.5 L334.5,714.7 L335.8,716.0 L337.1,715.4 L338.3,715.6 L339.6,715.4 L340.9,715.1 L341.9,715.6 L342.8,716.9 L344.1,718.5 L345.3,720.7 L346.6,721.1 L347.8,722.7 L348.8,723.0 L349.7,722.7 L350.7,722.9 L351.6,723.0 L352.6,723.2 L353.6,722.8 L354.7,723.8 L355.7,723.3 L356.7,723.4 L357.7,723.3 L358.7,723.4 L359.8,723.8 L360.8,723.0 L361.8,723.0 L362.8,723.7 L363.8,723.3 L364.9,723.3 L365.9,723.9 L366.9,724.0 L367.8,724.1 L368.8,724.5 L369.8,724.1 L370.7,725.0 L371.6,724.8 L372.6,724.1 L373.6,724.1 L374.5,724.3 L374.5,727.2 Z" fill="#0a0a0a" stroke="#0a0a0a" stroke-width="0.4" stroke-linejoin="round"/>
<path d="M319.9,721.1 L322.4,719.2 L325.0,713.5 L327.5,709.1 L330.0,706.5 L332.6,707.2 L335.1,705.9 L337.7,707.2 L340.2,707.8 L342.1,712.2 L344.0,718.0" fill="none" stroke="#222" stroke-width="1.15" stroke-linejoin="round"/>
<line x1="318.9" y1="701.8" x2="318.9" y2="727.7" stroke="#1e1e1e" stroke-width="1.15"/>
<line x1="318.4" y1="727.2" x2="375.40000000000003" y2="727.2" stroke="#1e1e1e" stroke-width="1.05"/>
<rect x="317.4" y="728.8" width="3.0" height="1.4" fill="#b8b8b8"/>
<rect x="331.4" y="728.8" width="3.0" height="1.4" fill="#b8b8b8"/>
<rect x="345.5" y="728.8" width="3.0" height="1.4" fill="#b8b8b8"/>
<rect x="359.6" y="728.8" width="3.0" height="1.4" fill="#b8b8b8"/>
<rect x="373.6" y="728.8" width="3.0" height="1.4" fill="#b8b8b8"/>
<rect x="315.1" y="726.4" width="1.7" height="1.6" fill="#a6a6a6"/>
<rect x="315.1" y="721.4" width="1.7" height="1.6" fill="#a6a6a6"/>
<rect x="315.1" y="716.4" width="1.7" height="1.6" fill="#a6a6a6"/>
<rect x="315.1" y="711.5" width="1.7" height="1.6" fill="#a6a6a6"/>
<rect x="315.1" y="706.5" width="1.7" height="1.6" fill="#a6a6a6"/>
<rect x="315.1" y="701.5" width="1.7" height="1.6" fill="#a6a6a6"/>
<rect x="342.5" y="730.8" width="10.1" height="1.3" fill="#cacaca"/>
<rect x="312.7" y="711.8" width="1.3" height="6.7" fill="#c4c4c4"/>
<text x="374.5" y="710.3" font-size="7.1" font-family="Liberation Sans" font-weight="bold" text-anchor="end" fill="#1c1c1c" class="h">(2.5)</text>
<text x="374.5" y="710.3" font-size="7.1" font-family="Liberation Sans" font-weight="bold" text-anchor="end" fill="#1c1c1c" >(2.5)</text>
<line x1="395" y1="702.3" x2="452.1" y2="702.3" stroke="#b4b4b4" stroke-width="1.3"/>
<path d="M395.9,727.2 L395.9,725.6 L396.9,725.0 L397.8,724.3 L398.8,723.5 L400.1,721.8 L401.3,720.4 L402.6,717.9 L403.9,716.1 L405.1,714.4 L406.4,711.9 L407.7,713.0 L408.6,715.3 L409.6,717.0 L410.9,719.2 L412.1,720.9 L413.2,720.2 L414.2,720.0 L415.3,720.2 L416.4,720.1 L417.4,720.2 L418.5,720.9 L419.4,720.6 L420.4,720.1 L421.4,719.8 L422.3,719.8 L423.3,719.8 L424.4,720.3 L425.4,720.2 L426.7,718.7 L428.0,717.0 L429.2,716.1 L430.5,714.4 L431.4,715.4 L432.4,716.4 L433.7,718.3 L435.0,719.7 L436.1,720.7 L437.1,721.7 L438.2,722.3 L439.2,723.1 L440.3,723.3 L441.3,724.2 L442.2,724.7 L443.2,724.7 L444.2,725.3 L445.1,726.3 L446.1,726.4 L447.1,726.6 L448.0,726.8 L449.0,727.0 L449.0,727.2 Z" fill="#0a0a0a" stroke="#0a0a0a" stroke-width="0.4" stroke-linejoin="round"/>
<path d="M395.9,724.3 L398.8,720.5 L401.3,714.8 L403.9,709.1 L406.4,705.3 L408.9,705.6 L411.5,705.9 L414.7,705.9 L416.6,708.4 L418.5,713.5 L420.1,719.5" fill="none" stroke="#222" stroke-width="1.15" stroke-linejoin="round"/>
<line x1="395" y1="701.8" x2="395" y2="727.7" stroke="#1e1e1e" stroke-width="1.15"/>
<line x1="394.5" y1="727.2" x2="452.40000000000003" y2="727.2" stroke="#1e1e1e" stroke-width="1.05"/>
<rect x="393.5" y="728.8" width="3.0" height="1.4" fill="#b8b8b8"/>
<rect x="407.8" y="728.8" width="3.0" height="1.4" fill="#b8b8b8"/>
<rect x="422.1" y="728.8" width="3.0" height="1.4" fill="#b8b8b8"/>
<rect x="436.3" y="728.8" width="3.0" height="1.4" fill="#b8b8b8"/>
<rect x="450.6" y="728.8" width="3.0" height="1.4" fill="#b8b8b8"/>
<rect x="391.2" y="726.4" width="1.7" height="1.6" fill="#a6a6a6"/>
<rect x="391.2" y="721.4" width="1.7" height="1.6" fill="#a6a6a6"/>
<rect x="391.2" y="716.4" width="1.7" height="1.6" fill="#a6a6a6"/>
<rect x="391.2" y="711.5" width="1.7" height="1.6" fill="#a6a6a6"/>
<rect x="391.2" y="706.5" width="1.7" height="1.6" fill="#a6a6a6"/>
<rect x="391.2" y="701.5" width="1.7" height="1.6" fill="#a6a6a6"/>
<rect x="419.0" y="730.8" width="10.3" height="1.3" fill="#cacaca"/>
<rect x="388.8" y="711.8" width="1.3" height="6.7" fill="#c4c4c4"/>
<text x="451.5" y="710.3" font-size="7.1" font-family="Liberation Sans" font-weight="bold" text-anchor="end" fill="#1c1c1c" class="h">(4.2)</text>
<text x="451.5" y="710.3" font-size="7.1" font-family="Liberation Sans" font-weight="bold" text-anchor="end" fill="#1c1c1c" >(4.2)</text>
<text x="1.0" y="329.4" font-size="14.2" font-family="Liberation Sans" font-weight="bold" fill="#1c1c1c" >D</text>
<text x="45" y="304.9" font-size="8.0" font-family="Liberation Sans" font-weight="bold" text-decoration="underline" fill="#1c1c1c" >Conditioning</text>
<text x="45" y="313.9" font-size="8.0" font-family="Liberation Sans" font-weight="bold" text-decoration="underline" fill="#1c1c1c" >treatment</text>
<line x1="60.2" y1="316.4" x2="60.2" y2="322" stroke="#222" stroke-width="0.9"/>
<path d="M58.2,320.4 L60.2,323.4 L62.2,320.4 L60.2,321.4 Z" fill="#222"/>
<text x="107" y="313.1" font-size="8.1" font-family="Liberation Serif" font-weight="bold" text-decoration="underline" fill="#1c1c1c" >MHC Class II</text>
<text x="191.5" y="313.1" font-size="8.1" font-family="Liberation Serif" font-weight="bold" text-decoration="underline" fill="#1c1c1c" >CD40</text>
<text x="264.2" y="313.1" font-size="8.1" font-family="Liberation Serif" font-weight="bold" text-decoration="underline" fill="#1c1c1c" >B7.2</text>
<text x="338.3" y="313.1" font-size="8.1" font-family="Liberation Serif" font-weight="bold" text-decoration="underline" fill="#1c1c1c" >OX40L</text>
<text x="414.8" y="313.1" font-size="8.1" font-family="Liberation Serif" font-weight="bold" text-decoration="underline" fill="#1c1c1c" >CD11c</text>
<text transform="translate(52,345.4) scale(0.92,1)" font-size="7.9" font-family="Liberation Serif" font-weight="bold" fill="#1c1c1c">Flt3L only</text>
<text transform="translate(52,380.9) scale(0.92,1)" font-size="7.9" font-family="Liberation Serif" font-weight="bold" fill="#1c1c1c">Flt3L+IL6</text>
<text transform="translate(52.3,410.3) scale(0.92,1)" font-size="7.9" font-family="Liberation Serif" font-weight="bold" fill="#1c1c1c">Flt3L+IL6+</text>
<text transform="translate(52,419.9) scale(0.92,1)" font-size="7.9" font-family="Liberation Serif" font-weight="bold" fill="#1c1c1c">GMCSF</text>
<text transform="translate(52.3,449.0) scale(0.92,1)" font-size="7.9" font-family="Liberation Serif" font-weight="bold" fill="#1c1c1c">Flt3L+</text>
<text transform="translate(52,458.9) scale(0.92,1)" font-size="7.9" font-family="Liberation Serif" font-weight="bold" fill="#1c1c1c">GMCSF</text>
<text transform="translate(51.7,487.2) scale(0.92,1)" font-size="7.9" font-family="Liberation Serif" font-weight="bold" fill="#1c1c1c">GMCSF only</text>
<circle cx="304.4" cy="451" r="0.95" fill="#444"/>
<circle cx="306.5" cy="456.6" r="0.75" fill="#333"/>
<text x="1.0" y="559.7" font-size="14.2" font-family="Liberation Sans" font-weight="bold" fill="#1c1c1c" >E</text>
<text x="48.2" y="534.4" font-size="7.2" font-family="Liberation Sans" font-weight="bold" text-decoration="underline" fill="#1c1c1c" >Conditioning</text>
<text x="48.2" y="542.4" font-size="7.2" font-family="Liberation Sans" font-weight="bold" text-decoration="underline" fill="#1c1c1c" >treatment</text>
<line x1="62.5" y1="543.8" x2="62.5" y2="549.2" stroke="#222" stroke-width="0.9"/>
<path d="M60.8,547.6 L62.5,550.4 L64.2,547.6 L62.5,548.6 Z" fill="#222"/>
<text x="108.1" y="541.2" font-size="8.0" font-family="Liberation Serif" font-weight="bold" text-decoration="underline" fill="#1c1c1c" >MHC Class II</text>
<text x="187.6" y="541.2" font-size="8.0" font-family="Liberation Serif" font-weight="bold" text-decoration="underline" fill="#1c1c1c" >CD40</text>
<text x="259.6" y="541.2" font-size="8.0" font-family="Liberation Serif" font-weight="bold" text-decoration="underline" fill="#1c1c1c" >B7.2</text>
<text x="333" y="541.2" font-size="8.0" font-family="Liberation Serif" font-weight="bold" text-decoration="underline" fill="#1c1c1c" >OX40L</text>
<text x="409" y="541.2" font-size="8.0" font-family="Liberation Serif" font-weight="bold" text-decoration="underline" fill="#1c1c1c" >CCR7</text>
<text x="51" y="569.7" font-size="6.1" font-family="Liberation Serif" font-weight="bold" fill="#1c1c1c" >Flt3L only</text>
<text x="51" y="607.9" font-size="6.1" font-family="Liberation Serif" font-weight="bold" fill="#1c1c1c" >Flt3L+IL6</text>
<text x="51" y="638.9" font-size="6.1" font-family="Liberation Serif" font-weight="bold" fill="#1c1c1c" >Flt3L+</text>
<text x="51" y="647.4" font-size="6.1" font-family="Liberation Serif" font-weight="bold" fill="#1c1c1c" >GMCSF+IL6</text>
<text x="51" y="680.3" font-size="6.1" font-family="Liberation Serif" font-weight="bold" fill="#1c1c1c" >Flt3L+GMCSF</text>
<text x="47.9" y="716.3" font-size="6.1" font-family="Liberation Serif" font-weight="bold" fill="#1c1c1c" >GMCSF</text>
<text x="47.9" y="724.2" font-size="6.1" font-family="Liberation Serif" font-weight="bold" fill="#1c1c1c" >only</text>
<text x="494.9" y="517.0" font-size="7.5" font-family="Liberation Sans" font-weight="bold" text-anchor="middle" text-decoration="underline" fill="#1c1c1c" >Fold</text>
<text x="494.9" y="525.8" font-size="7.5" font-family="Liberation Sans" font-weight="bold" text-anchor="middle" text-decoration="underline" fill="#1c1c1c" >proliferation</text>
<text x="494.9" y="534.6" font-size="7.5" font-family="Liberation Sans" font-weight="bold" text-anchor="middle" text-decoration="underline" fill="#1c1c1c" >during prior</text>
<text x="494.9" y="543.0" font-size="7.5" font-family="Liberation Sans" font-weight="bold" text-anchor="middle" text-decoration="underline" fill="#1c1c1c" >Step 1 culture</text>
<line x1="495.7" y1="544.6" x2="495.7" y2="550.5" stroke="#222" stroke-width="0.9"/>
<path d="M494.0,548.8 L495.7,551.6 L497.4,548.8 L495.7,549.8 Z" fill="#222"/>
<text x="497.5" y="568.8" font-size="9.8" font-family="Liberation Sans" font-weight="bold" text-anchor="middle" fill="#1c1c1c" >(0.3)</text>
<text x="497.5" y="607.5" font-size="9.8" font-family="Liberation Sans" font-weight="bold" text-anchor="middle" fill="#1c1c1c" >(6.6)</text>
<text x="497.5" y="645.1" font-size="9.8" font-family="Liberation Sans" font-weight="bold" text-anchor="middle" fill="#1c1c1c" >(6.2)</text>
<text x="497.5" y="682.8" font-size="9.8" font-family="Liberation Sans" font-weight="bold" text-anchor="middle" fill="#1c1c1c" >(7.0)</text>
<text x="497.5" y="719.1" font-size="9.8" font-family="Liberation Sans" font-weight="bold" text-anchor="middle" fill="#1c1c1c" >(1.6)</text>
</svg></body></html>
